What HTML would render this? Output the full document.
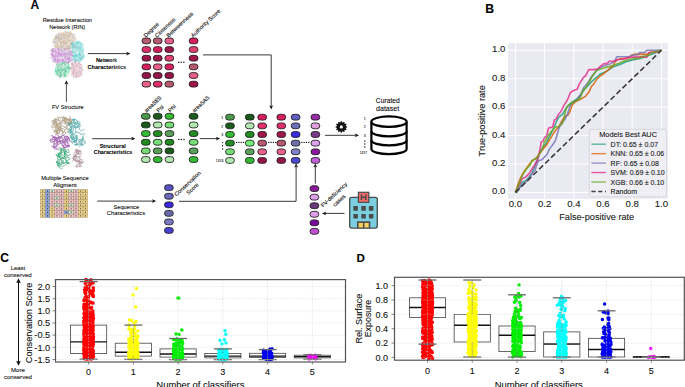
<!DOCTYPE html>
<html><head><meta charset="utf-8"><style>
html,body{margin:0;padding:0;background:#fff;}
body{width:685px;height:387px;overflow:hidden;font-family:"Liberation Sans", sans-serif;}
svg{display:block;}
.t{stroke:#000;stroke-width:0.22px;stroke-opacity:0.45;}
</style></head><body>
<svg width="685" height="387" viewBox="0 0 685 387" font-family='"Liberation Sans", sans-serif'>
<rect width="685" height="387" fill="#fff"/>
<text x="30.60" y="8.80" font-size="12" text-anchor="start" font-weight="bold" fill="#000" stroke="#000" stroke-width="0.12" stroke-opacity="0.5" >A</text>
<text x="42.70" y="22.20" font-size="5.8" font-weight="normal" fill="#000" stroke="#000" stroke-width="0.15" stroke-opacity="0.55" textLength="49.35" lengthAdjust="spacingAndGlyphs">Residue Interaction</text>
<text x="49.20" y="28.70" font-size="5.8" font-weight="normal" fill="#000" stroke="#000" stroke-width="0.15" stroke-opacity="0.55" textLength="35.95" lengthAdjust="spacingAndGlyphs">Network (RIN)</text>
<g>
<polygon points="56,35 60,32.3 68,31.6 73,33.2 75.6,37.5 75.6,44 73.5,48 70,50 62,50.3 56,49 53.5,45 53.5,39" fill="#e4dcd6" opacity="0.75"/>
<path d="M60.2 34.3l-0.3 -0.4M55.0 41.2l0.9 0.2M62.0 46.2l0.5 0.5M66.5 38.7l0.5 -0.1M60.0 46.5l0.5 1.0M65.4 32.3l0.6 0.2M60.7 41.8l-0.7 0.2M58.8 41.9l-1.4 -0.2M63.5 45.9l0.6 0.8M70.2 41.7l0.6 -0.5M65.6 40.3l0.8 -1.3M55.0 44.3l-1.0 -1.3M62.1 44.3l0.9 0.1M54.0 46.6l0.5 0.5M55.7 39.1l-1.4 -0.4M59.9 39.3l-0.9 1.1M57.1 35.7l0.1 1.0M54.3 39.2l-0.7 0.8M65.6 42.6l-0.2 -0.4M73.4 46.9l-0.7 0.5M58.4 34.6l-0.2 0.4M55.5 38.2l1.4 0.2M60.0 36.8l-0.4 0.4M63.6 41.0l0.4 0.3M71.5 34.6l1.5 0.2M66.0 31.5l-1.5 -0.3M58.4 38.3l0.7 1.2M61.3 35.0l0.6 -1.5M71.5 45.5l0.1 1.0M60.6 44.0l0.9 -0.3M74.7 38.7l0.1 0.7M66.8 47.7l0.5 -0.8M55.4 43.4l1.1 -0.7M57.9 46.3l-0.7 1.2M62.6 49.5l-0.1 -0.6M74.2 46.6l0.8 1.1M62.0 41.7l0.3 0.3M65.3 48.8l-1.3 0.6M59.0 37.6l0.1 1.1M55.5 48.1l-0.6 0.8M62.7 48.7l-1.0 -0.0M63.5 35.5l1.4 0.0M68.7 41.7l-0.5 0.9M55.9 41.5l0.0 0.7M65.5 45.4l0.8 -0.5M63.6 44.7l-1.0 0.3M67.8 47.6l0.7 -0.3M72.4 34.3l0.7 0.6M55.6 44.8l0.3 -1.4M68.3 35.5l1.2 -1.0M62.6 41.2l1.4 -0.1M64.9 37.8l0.3 0.7M65.3 39.4l0.8 0.1M55.8 36.8l1.3 0.3M63.5 49.5l0.3 -0.6M65.9 44.2l0.4 0.2M68.4 47.0l1.2 0.7M63.5 38.2l-1.4 -0.5M65.5 36.2l0.5 0.4M60.1 37.3l0.0 -0.7M69.9 41.8l0.4 0.9M71.1 40.1l-1.4 0.0M68.5 49.3l-0.8 1.2M63.2 38.5l0.5 0.2M59.7 34.1l1.2 0.7M60.0 36.6l-0.3 0.9M59.4 50.9l1.0 -0.2M59.8 38.4l0.9 0.0M58.4 41.3l0.7 0.0M60.2 35.2l-0.9 -0.5M69.6 48.0l-0.6 0.5M70.1 43.2l1.3 0.4M68.8 46.8l0.7 0.8M71.0 46.4l-1.3 -0.7M55.8 38.1l1.1 0.9M67.6 43.5l-0.4 0.0M64.6 41.2l-0.3 -0.4M55.1 35.2l-0.1 -0.6M64.5 38.1l-1.2 0.2M67.7 32.6l0.4 0.6M65.7 31.2l0.7 0.3M68.2 37.1l-1.0 -0.1M73.8 35.4l1.5 -0.2M63.6 37.3l0.4 1.5M56.9 40.9l0.5 -0.2M73.0 44.8l0.2 1.5M53.9 41.1l-0.7 0.2M60.6 47.1l1.3 0.0M73.6 45.3l0.6 -0.4M75.5 42.8l-0.6 0.7M55.7 47.6l-0.3 1.5M65.5 34.5l-1.1 1.1M67.4 48.5l1.0 -0.4M69.6 40.2l0.0 -1.2M64.3 38.0l-0.4 1.2M68.1 37.5l-0.8 -0.3M59.5 47.6l-0.7 0.0M63.3 34.4l0.2 0.5M58.8 35.9l-1.3 -0.6M63.0 41.6l-0.6 0.6M64.6 43.7l0.4 -0.5M62.4 39.9l1.4 -0.4M54.2 44.9l0.8 -0.6M62.5 48.9l0.7 -1.3M64.5 43.7l1.2 -0.5M63.7 43.0l1.3 0.3M67.3 36.7l0.5 0.5M65.0 42.5l-0.5 0.4M60.6 39.8l1.1 -0.3M58.7 36.3l1.2 -0.3M63.9 43.2l-0.6 0.3M61.2 38.7l-0.3 -0.6M64.8 35.1l0.8 -0.1M58.1 45.8l-0.4 1.5M58.7 39.8l-0.8 -1.3M54.6 37.2l1.2 -0.9M74.1 37.6l0.6 1.4M68.2 38.7l-0.6 0.6M60.0 38.1l0.5 -0.2M61.9 47.1l0.4 -0.8M61.8 48.7l0.3 0.8M62.8 46.8l0.0 -0.4M73.6 36.7l-0.0 -1.5M74.5 43.5l-0.1 1.3M73.8 44.0l0.4 -0.1M62.3 36.2l-0.9 0.4M70.9 45.1l0.6 -1.2M60.8 39.2l0.1 -0.5M55.4 40.9l-0.7 1.4M59.2 32.6l0.8 0.6M58.7 38.4l-0.9 -0.8M67.7 33.7l0.4 -0.6M70.4 36.2l0.0 0.7M65.9 37.7l-1.3 1.0M70.5 44.0l0.5 -0.0M72.3 48.9l0.7 0.2M75.4 42.1l0.8 -0.4M58.7 45.7l0.5 -0.2M58.3 39.2l0.4 0.5M67.8 35.1l0.8 0.1M60.6 35.5l0.3 -1.0M62.6 42.5l-0.3 -0.4M62.3 37.5l-0.5 1.4M61.2 39.6l1.0 -1.2M68.8 35.8l1.5 0.1M63.1 48.2l-0.6 0.1M67.3 49.0l1.0 0.6M57.2 37.3l-1.5 -0.2M57.7 34.0l1.5 -0.5M74.1 38.6l0.9 -0.6M71.0 35.5l-1.2 0.8M58.6 39.3l-0.9 -0.1M69.5 48.2l1.0 0.3M71.7 33.5l-0.9 -0.6M62.3 42.7l-1.1 0.5M54.1 42.3l-0.7 0.0M64.0 35.3l-0.5 0.1M55.4 39.7l-0.4 -0.0M69.2 46.1l-0.5 -0.0M68.4 46.9l0.5 1.5M74.2 34.9l0.4 -1.5M70.3 34.3l0.6 -0.4M64.2 48.8l0.2 0.7M57.5 49.9l-0.6 -1.3M56.5 41.1l-0.5 -0.6M66.0 47.7l1.3 1.0M70.6 37.2l1.1 -0.1M63.4 34.6l-0.0 -0.5M67.6 50.0l-1.0 -0.6M67.4 39.9l-1.5 -0.1M68.3 32.3l0.8 0.0M58.1 42.1l-0.5 -0.3M59.5 33.8l1.0 0.7M62.0 36.4l1.2 0.1M67.8 41.0l1.2 -0.5M55.3 41.9l-0.6 0.4M54.0 42.6l0.5 -0.2M64.5 44.0l0.2 -0.6M70.8 44.4l1.4 0.1M69.9 40.2l0.1 0.5M60.8 45.2l-0.5 -1.3M65.7 40.5l0.2 -1.0M59.2 35.6l-0.1 -1.5M72.4 37.2l0.1 1.5M67.9 49.0l-1.4 0.3M63.3 45.8l-0.7 -0.3M60.9 33.6l0.4 0.1M68.3 46.1l1.0 0.4M72.6 47.7l1.3 0.6M56.4 34.7l0.3 0.3M67.7 47.2l-0.5 -0.5M70.6 35.5l-0.4 0.8M60.3 44.9l-0.5 0.6M71.5 43.5l0.9 0.2M61.3 44.6l-0.6 -0.2M71.7 33.4l0.6 0.0M53.8 41.3l-1.4 0.1M61.1 47.5l-0.1 1.5M69.7 41.3l0.9 0.7M68.5 46.6l-0.6 -0.6M57.3 37.2l0.8 -0.6M58.7 39.5l-1.3 -0.3M60.8 37.0l0.8 1.2M57.6 40.2l0.2 -1.1M72.8 35.1l0.3 0.7M56.6 34.5l0.0 0.8M61.8 35.9l1.3 -0.2M55.7 38.3l1.3 -0.1M57.7 43.6l0.5 0.4M61.9 46.0l-0.3 -0.9" stroke="#a8a8b0" stroke-width="0.45" stroke-opacity="0.8" fill="none" stroke-linecap="round"/>
<path d="M57.1 42.6l-1.1 0.7M66.0 44.6l-0.6 0.3M70.3 44.3l0.7 -1.0M60.6 42.6l0.7 0.5M67.0 35.9l-0.8 0.4M68.5 48.5l0.5 1.1M64.8 50.6l1.0 0.2M73.5 41.1l0.9 0.6M63.8 44.2l0.5 -0.9M59.2 45.4l-1.0 0.8M61.9 32.7l-0.1 0.9M62.9 45.5l-0.4 0.6M74.0 41.7l0.3 1.3M55.7 46.2l0.4 -1.1M60.9 43.6l0.6 -1.3M65.8 33.6l0.4 -0.7M62.6 36.4l-0.6 0.3M59.1 36.5l-0.3 0.9M68.9 38.7l1.3 -0.6M73.5 46.2l0.9 1.1M68.1 37.1l0.5 0.3M61.7 35.4l1.1 -0.8M67.2 45.3l-0.7 -1.3M56.9 44.9l-1.3 -0.2M65.6 36.6l0.1 0.6M62.9 34.1l-1.0 0.1M63.5 42.5l-0.7 -1.2M67.1 42.4l1.1 0.2M60.9 49.9l-1.0 -0.1M69.0 43.7l-0.8 1.2M64.6 46.3l0.2 0.9M71.4 37.1l0.4 -0.8M64.5 50.2l-0.8 -1.1M60.9 42.8l-0.9 -1.0M73.4 41.8l0.7 0.2M74.4 42.6l-0.7 -1.1M67.0 43.0l-0.4 -1.1M68.3 40.3l0.0 -0.5M71.0 47.9l-0.5 -0.7M65.7 36.9l-0.3 0.9M67.9 49.1l1.0 0.4M71.9 42.4l0.8 -0.5M66.4 49.3l1.0 -0.1M68.5 35.6l0.2 0.3M55.4 47.5l0.3 0.3M69.5 34.1l1.3 0.4M68.5 33.5l-0.9 -0.9M59.8 49.7l-0.1 -0.4M72.1 33.9l-0.5 1.2M63.6 33.0l-0.7 0.8M56.3 46.1l-0.8 0.9M61.6 46.1l1.3 -0.5M70.0 46.9l-0.6 1.0M66.2 37.9l-1.3 0.6M67.2 48.4l0.3 -0.7M63.8 42.8l0.6 -1.3M72.0 47.1l-0.7 -0.3M67.8 48.4l-0.3 0.4M57.3 45.2l0.6 -0.3M63.9 34.9l-0.0 1.3M54.5 46.2l0.1 -0.7M73.2 41.7l-1.1 0.2M57.0 45.1l-0.7 0.8M75.6 38.3l0.9 0.7M68.2 38.4l-0.4 -0.1M72.7 40.2l-0.7 -0.3M74.4 46.1l0.7 -1.4M57.0 34.6l0.4 0.2M63.2 49.0l0.4 -0.3M58.9 41.7l-1.0 -1.2M63.4 34.7l1.6 -0.3M59.2 38.1l1.2 -0.9M71.1 45.0l-1.0 -1.3M69.5 48.7l-0.3 -0.7M55.5 37.7l-0.0 0.5M58.7 34.0l-0.2 -0.4M58.7 49.5l1.0 -1.1M72.4 42.8l-0.8 0.2M67.2 33.7l0.1 0.5M56.9 48.2l-0.1 0.9M71.6 38.8l0.5 0.9M68.3 35.9l-0.7 0.1M61.9 50.4l1.5 -0.0M69.7 36.7l0.4 -0.1M72.2 41.3l0.4 0.8M66.0 33.9l0.6 1.2M66.4 40.4l-0.1 0.6M71.4 42.0l0.1 0.5M70.0 31.8l0.3 -0.7M74.0 41.4l0.5 -0.5M62.2 34.7l-0.8 0.8M63.8 40.3l0.9 0.9M61.5 45.3l-1.0 0.9M74.5 40.8l-1.0 -0.1M58.9 46.6l0.5 0.1M53.8 42.6l-0.9 -0.5M72.1 45.0l0.5 0.2M58.8 33.3l-0.5 0.3M57.3 41.3l-0.0 -0.6M61.1 40.2l0.6 -0.9M69.4 38.5l0.0 0.8M71.8 48.9l0.6 -1.3M58.8 39.5l-0.6 -0.6M63.9 40.9l0.6 0.1M74.3 43.4l0.5 -1.4M66.6 36.3l-0.3 -0.7M67.6 36.2l-0.9 -0.1M60.8 43.5l0.8 0.8M59.6 40.5l-0.6 -0.1M60.5 39.5l-0.2 0.7M72.3 43.8l-1.1 -0.5M63.5 42.2l-0.7 -0.6M58.9 41.2l-0.8 0.7M72.2 37.5l-0.9 -0.3M60.4 45.6l0.3 0.4M55.1 39.1l-1.2 0.5M74.3 46.0l0.5 0.7M67.1 46.7l0.4 -0.9M70.5 40.4l0.3 -1.2M70.0 42.3l-1.6 0.0M70.3 48.1l-0.7 -0.5M69.1 37.4l-0.8 0.7M71.1 47.9l-0.9 0.0M57.1 42.1l-0.4 -0.2M71.2 47.8l0.6 -0.2M64.2 40.5l1.2 -0.6M64.5 41.8l-0.3 -0.8M61.7 49.6l-0.5 -0.9M62.9 42.0l-1.3 -0.7M62.3 43.1l0.8 -0.0M57.0 37.5l1.4 -0.2M73.7 44.2l0.7 -1.4M57.1 37.3l-1.0 -0.1M67.3 42.8l-1.0 1.3M63.0 46.3l-0.4 1.2M71.5 42.6l-0.3 -0.6M58.9 43.5l-1.6 -0.3M69.4 33.5l0.5 0.4M67.1 46.2l0.4 0.2M70.2 38.8l0.3 0.6M67.4 38.5l-0.8 0.3M66.4 49.7l-1.1 0.4M59.4 47.6l0.3 -0.7M64.4 49.0l0.0 0.9M60.3 48.3l-1.3 0.1M61.2 35.0l0.7 -0.1M66.0 39.5l-0.4 0.3M61.3 36.3l0.3 0.7M68.5 38.2l0.7 1.0M72.1 33.7l-1.3 0.5M61.6 46.3l-1.1 1.1M64.6 35.5l-0.5 0.2M73.1 42.4l-0.5 0.5M72.7 34.7l-1.0 -0.1M61.8 44.0l-0.7 -0.3M57.9 47.9l-0.5 1.1M61.4 41.3l-0.1 0.5M57.0 44.5l-0.2 0.9M73.8 47.8l0.5 0.5M68.0 37.8l-1.0 0.6M73.0 38.9l-0.4 -0.4M69.9 45.2l0.4 0.1M60.0 38.5l0.7 0.2M71.4 42.6l-0.1 -0.7M72.4 45.6l-0.1 0.4M56.0 46.2l0.4 1.5M68.8 39.2l-0.0 -1.4M74.3 38.6l1.1 -0.5M66.8 40.3l1.2 0.4M70.3 33.0l-0.4 -1.3M75.4 43.7l-0.7 -0.2M62.4 34.6l-0.2 0.5M59.2 35.9l-0.9 -0.1M59.7 48.9l0.7 0.8M65.2 45.5l0.6 1.0M70.2 47.4l0.6 0.5M57.6 45.2l-0.5 0.2M62.4 34.7l0.4 0.2M55.8 45.4l1.1 -0.1M63.7 34.8l-0.4 -0.1M67.4 49.4l-0.4 -0.6M72.7 36.2l0.5 1.1M57.1 46.6l0.6 -1.1M71.1 38.3l-0.7 0.8M67.0 42.7l0.5 -1.1M64.2 40.8l0.4 0.6M68.8 34.7l-1.5 0.5M63.7 34.3l-0.1 -0.4M70.4 39.5l-0.2 1.2M61.2 39.6l-0.7 -1.2M60.1 40.1l-0.8 -0.3M61.6 39.2l1.5 -0.3M74.5 42.6l0.2 -0.4M59.8 41.9l0.9 -0.3M60.9 47.7l0.6 0.1M54.9 44.3l-0.8 0.8M66.5 38.6l0.5 0.4M55.6 47.6l-0.0 0.5M64.8 42.4l0.2 1.1M65.6 33.5l-0.4 0.3M66.5 44.9l0.0 -0.5M56.4 47.0l-0.5 0.4M70.7 34.6l0.1 -0.5M53.7 42.2l0.2 0.7M74.0 42.7l0.7 -0.8M56.8 44.7l-0.7 1.1M56.2 38.4l-0.1 -1.5M67.7 34.2l-1.3 -0.4M68.8 35.8l0.3 0.9M55.8 47.3l0.4 1.0" stroke="#d4a874" stroke-width="0.45" stroke-opacity="0.85" fill="none" stroke-linecap="round"/>
<path d="M61.6 33.5l0.7 -0.7M61.1 34.3l-1.4 -0.0M57.2 46.9l-0.4 -0.8M72.6 39.2l0.8 -0.8M58.5 48.7l-0.4 -0.2M64.5 42.4l-0.6 0.5M63.5 49.7l0.6 0.2M58.3 40.7l-0.1 1.1M65.4 45.5l0.9 -1.0M62.2 36.6l0.4 -1.4M59.9 45.5l-0.1 -1.0M65.0 40.5l0.7 0.3M64.0 38.7l0.0 0.7M63.6 40.1l-0.7 -0.3M60.6 37.2l-0.2 -1.1M72.6 41.8l0.5 0.3M61.9 46.3l-1.3 0.6M73.6 37.1l-0.0 0.4M68.3 35.1l-0.5 0.4M67.7 35.2l-0.2 -1.5M71.6 48.5l-0.3 0.5M72.5 44.3l0.6 -0.3M68.3 39.4l-0.3 -0.7M54.2 43.1l-0.5 0.9M73.3 41.6l0.5 -0.0M60.8 33.1l0.3 0.5M70.8 39.3l-1.1 -0.3M66.6 37.0l-0.0 -0.7M70.3 37.5l0.2 -1.6M64.3 49.3l0.3 0.3M70.6 38.2l0.7 -0.0M55.3 40.8l-0.6 -0.2M56.9 35.0l-0.1 -1.5M70.4 35.8l1.0 -0.1M71.8 40.7l-0.7 1.3M55.5 43.9l-1.2 0.8M62.6 49.2l1.1 -0.4M59.3 39.0l0.1 0.6M58.6 42.0l0.8 1.2M69.1 47.1l-0.2 0.8M56.2 43.9l-0.8 -0.5M58.3 47.9l-0.9 1.0M56.7 45.2l0.5 0.3M61.1 48.8l-0.3 -1.4M58.3 46.4l-0.2 -0.4M62.6 34.5l1.6 0.2M56.5 41.4l0.6 0.7M56.4 45.9l-0.5 -0.0M74.4 37.6l0.3 1.5M60.1 35.1l-0.0 0.5M62.2 41.3l-0.3 0.3M66.1 41.3l-0.6 -1.5M61.9 37.9l-1.4 0.8M61.7 33.6l0.4 -0.0M59.2 43.3l-0.5 0.5M72.0 45.8l0.4 -0.2M68.6 41.9l-0.6 1.4M72.4 41.8l-1.3 -0.9M69.2 38.6l-0.2 -0.8M68.6 38.3l-0.7 -0.8M58.8 48.5l-1.2 0.2M57.8 34.2l0.9 -0.5M70.8 36.2l0.6 1.2M71.1 49.0l0.3 -0.3M71.9 34.2l0.4 0.6M69.9 42.4l-0.5 0.1M68.9 39.7l-1.3 0.2M68.2 38.8l-0.7 -0.1M57.9 41.9l0.6 0.2M60.0 35.4l0.3 -0.4M57.9 39.6l0.3 -1.1M62.7 38.9l-0.2 -0.7M71.7 38.0l-0.8 0.7M74.9 45.1l-0.8 0.9M70.9 38.2l-1.0 -0.2M54.3 42.2l-0.9 0.2M63.0 48.2l-0.9 0.4M68.0 44.9l-0.4 0.3M71.3 46.4l0.5 0.4M70.0 41.6l1.1 0.4M55.6 44.5l-1.0 0.5M74.3 34.4l-0.5 0.9M60.0 36.0l-0.3 0.7M65.4 38.8l0.7 0.2M72.0 36.3l0.1 0.4M63.9 40.4l-0.7 -0.4M73.3 41.9l0.7 0.2M65.8 38.4l-0.2 1.3M70.3 43.0l-1.5 0.4M54.9 39.6l-0.3 -0.4M66.9 34.4l0.9 -0.5M68.5 44.0l-0.2 0.6M74.0 34.3l0.4 0.3M62.6 43.7l-0.1 1.5M54.7 45.0l1.4 0.4M66.7 37.3l-0.5 -0.2M72.0 34.5l0.5 -1.5M62.4 43.9l0.2 1.0M69.7 39.4l-0.2 -0.5M74.3 40.9l-0.2 0.8M64.4 47.9l-0.9 -0.6M59.6 48.2l0.4 -0.6M66.6 49.6l-0.9 1.3M61.2 40.8l0.0 1.3M59.3 32.6l-0.5 -0.2" stroke="#ffffff" stroke-width="0.45" stroke-opacity="0.7" fill="none" stroke-linecap="round"/>
<polygon points="72,42.5 76,40.8 80,41.5 83,45 83.8,52 83.5,58 81.5,61.5 76,62 72.5,60.5 70.6,55 70.8,47" fill="#c4ecec" opacity="0.75"/>
<path d="M79.1 51.0l1.0 0.2M72.2 52.8l-0.5 0.7M75.1 58.8l0.7 -0.7M77.5 52.7l0.7 0.6M77.4 48.8l0.3 0.8M75.0 59.4l-1.5 -0.0M77.2 58.4l-1.1 -0.5M72.2 46.4l0.9 0.2M78.2 45.6l-1.1 -0.8M73.3 53.0l0.4 -0.0M81.4 48.0l0.4 -0.9M83.0 50.3l-0.4 0.3M79.7 44.3l-0.3 0.5M74.4 61.6l1.3 -0.0M81.1 60.7l0.0 -1.2M81.6 57.7l1.1 0.7M83.9 54.0l-0.0 -0.6M82.1 56.3l0.7 -1.2M82.1 57.3l0.5 -0.6M83.4 57.8l-0.0 1.4M76.3 45.1l-1.5 0.1M76.6 57.1l0.3 -1.2M75.6 43.2l-0.8 -1.1M81.9 57.6l1.0 0.0M81.1 50.0l-0.8 -0.6M75.6 58.9l-0.5 -0.5M80.4 50.7l-0.7 -1.2M73.2 47.6l0.8 -0.2M79.2 59.6l-0.8 0.6M82.1 45.3l-0.4 -0.1M77.1 58.3l-0.0 0.8M82.6 51.2l-1.1 1.1M71.1 54.6l-1.5 0.5M79.4 48.4l-1.2 -0.2M75.1 60.9l1.3 0.5M76.5 56.6l1.0 -0.8M75.3 44.2l1.4 -0.4M78.0 41.5l-1.0 0.8M81.4 46.9l-0.9 -0.2M81.0 54.4l-1.1 1.1M74.4 43.8l-1.2 -0.6M72.4 51.4l0.4 -0.4M76.0 41.7l-0.3 0.8M72.8 47.8l0.6 -0.2M72.4 46.2l-0.7 0.5M72.7 59.4l-1.3 0.4M74.1 43.8l0.0 -1.0M80.1 46.6l-1.0 1.1M79.2 45.7l0.1 -0.4M75.8 61.0l-0.1 0.7M80.9 55.5l-1.2 0.7M79.2 60.8l-0.8 -0.9M83.2 56.1l-0.5 0.7M72.5 58.3l-1.0 -0.2M71.4 48.0l0.8 0.4M79.3 54.0l-0.9 0.6M81.0 58.0l0.7 1.0M80.9 58.8l-0.9 -1.2M79.1 53.2l-0.1 0.5M73.6 44.1l0.1 0.5M81.4 48.0l-0.2 -0.5M71.2 54.3l0.5 0.6M78.2 58.1l1.3 0.3M79.1 48.9l-0.5 0.9M74.2 58.8l0.4 -1.0M70.4 50.9l-0.4 0.2M78.5 50.3l-1.1 -0.1M83.0 47.8l0.5 -0.0M76.4 55.5l-0.2 -0.9M75.4 46.7l0.4 1.2M72.5 55.4l0.2 0.7M83.3 55.9l1.4 -0.5M71.3 44.5l1.4 0.1M74.5 48.3l0.6 1.0M75.5 60.0l0.3 -0.9M73.4 56.8l-1.6 0.3M76.3 58.0l0.4 0.4M73.1 45.0l1.5 0.2M83.9 49.2l-0.1 -0.9M73.8 52.4l-0.3 0.3M77.1 41.9l0.8 -0.7M78.9 59.9l-1.2 0.1M82.8 49.1l0.9 0.7M76.5 53.3l-0.8 -0.9M79.8 41.2l-0.9 0.2M74.5 55.4l-0.3 -0.9M78.6 42.6l0.1 1.6M81.2 58.3l-0.9 -1.0M83.6 59.0l0.4 0.1M73.8 54.9l1.1 -0.5M80.9 43.8l1.2 -0.2M73.6 50.9l1.1 0.8M77.2 57.7l-1.1 -0.0M77.8 46.9l-0.3 0.2M81.4 57.7l-0.5 0.1M76.1 43.3l1.0 -0.2M80.0 59.1l0.3 -0.4M80.7 43.9l-1.2 -1.0M79.2 53.9l-0.9 -0.1M80.0 59.7l-0.1 -1.3M80.1 59.9l-1.3 0.6M76.2 56.1l-0.0 0.8M72.6 49.8l1.2 -0.1M80.9 46.7l0.0 0.9M75.1 56.5l0.2 -1.4M71.6 58.8l-0.4 1.1M76.7 55.2l-1.5 -0.4M79.5 62.4l0.6 0.3M72.9 49.2l-0.5 -1.1M74.0 46.6l1.2 0.2M82.7 54.0l-1.0 -0.6M74.4 42.4l0.4 0.2M72.0 52.1l1.2 -0.2M72.7 42.4l-0.3 0.8M80.3 42.7l0.7 -0.3M81.3 45.2l0.8 -1.1M79.4 53.4l-0.3 -0.5M80.2 53.0l0.1 0.5M75.4 56.6l0.9 1.0M77.4 43.6l0.0 1.4M80.3 45.9l0.2 0.6M78.6 50.0l0.3 -0.3M76.6 43.4l-1.2 0.3M77.1 44.6l0.1 0.9M75.7 50.9l1.0 -0.4M80.6 52.5l1.1 -1.1M83.3 51.7l0.0 0.6M71.7 46.2l0.8 -0.4M76.4 47.7l0.3 1.1M83.2 50.5l0.2 0.4M71.0 51.4l-0.1 -1.0M79.4 54.3l0.8 1.1M82.0 49.3l0.5 -0.4M75.4 43.2l0.5 1.2M76.0 55.8l1.5 0.1M77.1 60.7l-1.6 0.1M81.8 46.3l0.9 -0.0M75.3 49.5l-0.7 1.0M72.7 58.9l1.1 0.0M78.9 56.8l0.4 0.5M72.7 43.6l-1.1 -0.2M72.8 44.9l-0.8 -0.5M79.8 58.9l0.7 -0.2M73.9 47.2l1.4 -0.3M82.1 58.2l-0.6 -0.8M79.6 53.2l0.5 -1.4M78.2 45.1l-0.3 -0.7M77.1 54.8l1.2 0.6M79.1 57.0l1.0 0.1M79.2 45.1l1.3 -0.3M76.0 60.7l0.5 -0.4M79.4 57.4l0.5 0.5M76.6 49.5l1.0 0.5M75.2 55.7l-0.6 0.2M79.6 43.3l-1.1 1.1M79.4 55.1l-0.4 -1.5M75.2 45.4l0.5 -1.0M78.3 44.6l1.0 0.1M72.8 56.3l0.7 0.0M74.6 51.9l-0.4 0.8M72.7 43.6l-0.9 -0.9M80.8 47.8l-0.6 0.0M80.0 48.1l-0.1 -0.7M72.1 52.4l0.5 1.2M73.9 43.0l-0.6 -0.9M78.3 43.6l-0.5 -0.5M77.7 56.6l1.2 0.2M79.2 55.9l-1.1 -1.0M79.5 45.4l0.4 0.6M79.7 61.9l0.2 -0.7M71.0 53.7l0.4 0.2M76.2 44.9l0.7 0.7M80.5 52.2l0.1 -0.5M76.7 46.7l-0.3 -0.6M81.0 56.6l-0.6 0.7M78.7 43.2l-1.1 0.3M73.1 51.0l-0.6 -0.5M81.8 50.8l0.7 0.4M71.4 47.0l0.1 -0.6M73.2 52.8l0.3 -0.5M76.5 47.9l0.5 0.5M72.8 56.7l1.2 -0.9M78.5 46.7l-1.2 0.3M72.0 58.6l-0.4 0.6M81.7 47.9l0.6 1.1M77.0 58.3l0.7 -0.8M79.1 59.1l0.8 -0.2M73.9 48.7l-0.6 0.6M74.2 59.5l-1.0 0.6M73.7 59.5l0.5 -1.5M81.5 45.9l-0.5 -0.7M78.3 47.1l0.3 -0.7M83.9 56.9l-0.5 -1.1M78.0 49.5l-0.7 1.1M73.4 48.1l0.0 0.5M81.1 45.3l0.4 0.2M76.4 50.0l0.5 -1.5M82.0 51.7l1.0 -0.8M77.6 43.0l-1.2 -0.7M75.8 59.8l-0.3 -0.6M83.9 55.7l1.1 1.1M75.4 55.9l-0.5 0.2M81.1 48.0l0.2 1.3M76.4 49.3l-0.4 -1.5M74.2 56.3l0.4 1.0M81.2 43.7l0.9 -0.6M74.3 60.4l0.1 0.4M76.7 59.9l-0.5 -0.2M75.7 53.9l-0.0 0.7M76.6 41.9l0.8 0.0M72.9 45.6l-0.6 -0.1M73.1 52.4l-0.2 -1.3M74.7 58.4l0.4 -0.2M80.0 53.8l0.6 0.7M75.3 57.5l0.0 0.6M79.0 47.4l0.3 0.6" stroke="#40cccc" stroke-width="0.45" stroke-opacity="0.85" fill="none" stroke-linecap="round"/>
<path d="M73.5 52.0l0.4 0.9M76.8 60.7l-0.6 0.1M72.4 42.6l-0.5 -1.5M76.8 49.1l-0.3 -0.8M82.3 56.0l-0.7 0.9M76.2 45.9l-1.1 -0.4M71.9 48.2l0.8 -1.1M75.2 61.1l-0.8 -0.3M81.9 57.8l0.8 0.1M76.0 59.5l-0.6 0.8M77.0 47.5l-0.9 0.7M75.1 48.9l-1.0 1.1M75.3 58.3l0.7 1.0M72.5 44.8l0.7 0.3M77.6 60.5l1.3 0.8M81.1 58.4l-0.4 0.3M78.6 61.6l0.5 0.1M80.2 54.8l0.5 0.4M79.0 61.6l-1.0 1.2M73.9 45.4l1.6 -0.3M73.5 44.2l-0.8 1.0M79.1 41.3l-1.3 0.5M83.2 53.2l-0.5 0.7M82.1 53.2l0.4 0.5M80.3 52.1l1.4 0.0M79.2 55.9l-1.3 0.8M79.4 47.0l-0.5 0.5M80.7 59.0l1.2 -0.1M73.7 53.8l0.8 1.2M81.9 56.4l0.8 1.1M78.4 49.6l0.5 -0.2M74.2 42.8l0.6 -0.7M80.2 54.2l0.8 0.6M80.9 46.1l-1.0 1.1M75.3 53.2l0.5 -1.2M75.9 60.7l-0.5 0.1M79.6 41.7l1.0 -0.1M79.6 48.9l0.0 1.4M76.1 51.7l-0.2 -1.3M73.3 44.2l0.2 -0.5M75.1 43.9l0.9 -0.4M83.5 45.3l0.9 -0.6M79.8 52.7l0.6 -0.7M80.3 55.5l-0.0 -0.7M72.9 55.5l-0.8 -0.3M76.0 51.0l-0.1 0.8M79.7 43.9l0.6 -0.6M72.0 53.0l0.8 -0.2M73.0 46.6l-0.7 -0.8M75.9 60.4l-0.7 -0.8M75.4 55.0l-0.5 1.5M78.3 44.5l-0.5 -0.0M79.6 60.4l1.2 -0.1M71.2 49.8l0.8 -0.1M76.4 60.0l-1.2 -0.7M72.9 59.5l1.2 0.9M77.3 47.5l0.9 -0.2M71.6 57.2l-0.1 0.6M78.5 45.0l-0.2 -1.0M73.2 43.3l0.3 0.5M72.2 51.8l-1.0 -0.5M76.3 45.5l0.0 -0.7M71.9 50.6l-0.6 0.5M80.0 58.2l-1.0 0.3M73.6 42.7l0.7 0.4M76.2 47.6l-1.5 -0.1M74.4 47.8l1.1 -0.7M82.3 54.8l0.6 1.0M74.7 43.0l-0.1 -1.3M79.5 50.0l-0.3 -0.4M72.9 47.8l0.2 0.5M74.4 46.9l-0.3 -0.6" stroke="#a0a8b0" stroke-width="0.45" stroke-opacity="0.6" fill="none" stroke-linecap="round"/>
<path d="M77.4 44.0l1.0 0.5M71.6 50.9l-0.6 0.0M81.0 47.0l1.3 -0.6M75.8 42.8l-0.5 -1.1M71.1 56.1l0.2 -0.5M77.8 56.7l-0.7 1.0M76.9 40.3l1.1 0.7M72.1 59.8l-0.1 -0.5M76.0 58.9l0.8 -0.0M82.6 53.1l1.2 -0.2M72.8 52.2l-0.8 0.1M77.8 45.5l-0.2 1.0M79.5 44.0l-0.7 -0.1M80.4 51.7l0.0 1.5M73.6 49.4l-0.4 -1.3M72.9 51.0l-0.5 0.6M79.9 44.6l0.1 1.3M78.9 55.6l-0.1 0.5M83.4 51.6l-0.7 -1.4M74.6 43.1l0.4 -1.2M74.7 50.3l-0.3 -1.4M76.5 50.0l-0.6 1.4M74.9 59.5l0.5 -0.6M77.0 45.6l0.1 -0.8M76.9 49.3l-0.6 -0.4M75.2 41.7l-0.9 0.9M78.5 44.5l1.2 0.2M72.7 58.6l0.6 -0.4M74.4 41.2l-0.5 1.0M71.5 46.1l-0.3 0.8M73.7 59.1l0.0 1.1M79.7 58.2l-0.2 1.3M71.5 47.9l0.2 1.1M77.8 49.8l0.2 -0.5M76.4 61.9l0.8 0.5M75.3 49.4l-0.7 -0.0M77.6 52.3l-1.0 1.0M75.3 48.1l-0.8 -0.7M82.8 48.5l0.9 0.8M75.4 58.6l-0.5 0.8M75.4 44.4l-0.6 -1.0M73.1 58.1l-1.3 0.4M83.0 55.3l-0.4 -0.9M72.7 54.3l-0.2 -0.7M78.4 44.4l-0.8 -0.0M76.7 53.3l0.5 0.6M77.9 57.7l-0.6 -0.3M79.0 56.6l-0.6 0.7M80.4 42.5l-0.3 -0.3M80.5 45.9l0.3 -0.5M76.6 58.1l-0.4 -1.0M82.6 48.1l0.8 0.1M78.6 44.5l0.4 0.6M82.7 58.9l0.9 -0.1M83.8 58.6l-0.1 -0.7M77.7 53.3l0.4 -0.4M80.8 51.3l0.5 1.5M81.6 46.4l-0.3 -0.8M84.0 48.7l-1.0 -0.1M80.0 60.0l-0.4 0.5M79.8 49.1l-0.6 -0.1M76.7 58.2l0.4 1.2M71.4 47.1l-0.6 -0.7M73.5 51.0l1.4 0.0M78.0 53.1l-0.4 -0.4M81.3 57.8l-0.6 -1.2M72.1 50.5l-0.6 -0.0M75.9 44.5l0.4 1.0M78.8 50.2l-1.4 -0.0M80.8 52.5l-0.6 -0.2M79.8 46.1l-1.1 -0.5M70.7 54.2l-0.2 -0.5M71.9 58.8l0.3 -0.3M73.8 43.2l-0.7 0.0M75.5 57.6l-0.1 -0.5M75.3 43.1l-0.4 -1.3M77.1 61.1l-0.6 0.5M77.6 49.6l-1.2 0.5M72.6 48.9l0.7 -0.6M76.8 52.8l0.0 1.1M75.0 59.0l0.4 -0.1M81.5 50.0l0.5 0.6M73.8 54.5l-0.7 -1.0M74.7 53.1l-0.3 0.5M81.6 47.8l-1.3 -0.4M75.2 44.7l-0.8 0.6M77.2 47.3l0.8 -0.2M79.1 58.7l-1.0 0.8M70.4 50.6l0.5 -0.5M75.2 43.6l-0.9 -0.1" stroke="#ffffff" stroke-width="0.45" stroke-opacity="0.7" fill="none" stroke-linecap="round"/>
<polygon points="51.3,48.3 58,47.8 66,49.3 71.5,50 72.3,56 71.8,61.5 68,63.8 60,63.8 54,63 51.3,58" fill="#e6d0ea" opacity="0.75"/>
<path d="M55.3 57.2l-0.4 0.2M57.9 57.1l-0.1 -0.5M58.0 59.7l0.8 0.1M51.9 50.4l0.1 0.5M62.2 50.4l0.4 -0.8M71.3 54.4l-1.2 -0.8M65.5 57.2l-0.1 -0.7M60.4 53.0l-0.7 -0.4M53.5 61.0l-0.7 0.0M62.2 59.1l-0.6 0.6M57.4 60.8l-0.5 -0.4M68.5 57.1l1.3 0.7M64.8 51.3l-1.2 0.3M53.8 55.5l-0.7 -1.0M71.2 53.3l-0.8 0.4M65.4 55.4l-0.9 -0.4M71.8 59.9l1.0 -0.0M67.2 59.0l1.3 -0.5M68.1 54.5l-0.3 0.8M68.7 58.4l0.3 0.5M58.5 50.4l0.7 1.0M58.1 61.4l-0.2 0.7M60.4 53.9l1.4 0.1M72.1 51.9l-0.0 0.4M64.0 55.8l0.0 0.7M54.2 60.7l1.2 0.2M62.8 61.3l0.6 0.9M54.8 58.6l-1.2 -0.6M71.1 60.6l-0.7 -0.3M53.0 52.5l-0.4 -1.5M71.0 59.8l-0.9 0.3M53.2 56.7l0.3 -0.7M55.6 49.4l-0.8 0.0M61.0 60.4l-0.4 -0.4M51.8 55.7l1.0 0.1M60.0 61.8l0.2 -1.1M61.3 54.7l-0.6 -0.8M57.5 48.4l0.4 0.3M65.9 63.2l0.6 -0.9M58.9 51.9l-0.3 -0.3M61.8 53.6l1.0 0.8M53.7 57.2l1.1 -1.1M70.2 57.5l-0.2 1.5M56.5 56.3l-0.5 0.5M58.8 56.2l1.0 -0.5M60.6 56.2l-0.2 -1.5M65.1 56.4l-0.4 -1.5M65.0 61.4l0.1 0.9M63.2 57.2l-0.5 1.0M70.8 52.5l-0.9 -0.1M55.4 56.8l0.2 -1.5M61.2 63.2l0.7 1.2M58.0 49.7l0.5 0.6M54.3 59.8l-0.6 -0.0M56.9 62.8l0.2 -0.6M67.8 60.1l-0.9 -1.0M68.4 61.6l-0.5 1.1M63.9 53.0l-0.0 1.1M70.6 52.3l-0.4 -1.1M67.5 52.1l0.6 0.4M68.6 50.2l0.6 0.5M53.2 60.0l1.0 0.7M65.7 61.9l-0.8 0.5M55.6 60.3l-0.3 -1.3M53.9 53.6l-0.2 0.7M57.6 52.4l0.8 -0.9M60.7 57.1l0.5 -0.5M62.4 60.1l0.5 0.8M59.8 61.7l0.7 -0.5M66.4 62.5l-0.4 -0.6M61.2 55.0l1.3 -0.8M70.8 58.0l0.6 -0.6M69.3 61.7l-1.0 1.0M61.1 54.2l0.4 1.3M59.8 54.2l-1.3 -0.7M58.5 49.2l0.9 0.4M72.5 55.5l-0.5 0.7M63.5 57.0l-0.6 0.3M60.9 63.6l-0.6 -0.3M58.7 59.8l0.5 -0.4M62.2 55.7l0.5 0.1M59.9 62.8l0.3 -0.7M65.8 51.6l0.9 0.3M64.6 52.6l-0.6 0.2M68.7 54.4l-0.2 -0.8M65.8 54.0l-0.6 -0.2M62.6 59.0l0.6 0.5M51.5 54.5l0.9 -1.0M55.7 59.8l-0.4 1.2M63.4 60.8l0.9 -0.1M63.0 54.9l0.1 -0.8M62.9 59.5l-0.4 0.0M56.0 58.7l0.1 -1.2M65.3 50.8l-1.1 -0.2M57.7 52.6l0.7 0.5M55.1 59.7l1.0 0.9M57.0 55.9l-0.2 1.4M68.2 58.5l-0.7 -0.3M50.6 53.5l-0.3 0.6M57.8 48.3l0.6 -0.4M58.5 49.5l0.3 0.6M57.1 57.1l0.2 -1.3M68.6 57.6l-0.8 0.1M64.8 49.5l1.3 -0.7M55.6 56.4l0.4 -0.7M55.6 58.6l-1.4 0.7M51.9 52.1l0.4 0.4M64.4 61.0l0.5 0.5M70.2 54.3l-1.2 0.9M70.7 51.7l-1.5 -0.4M67.8 59.7l-0.4 -0.3M67.0 59.8l-0.5 1.1M59.2 61.2l-1.4 0.2M51.6 55.2l1.3 0.7M66.6 59.2l-0.3 -0.3M64.1 60.7l-0.1 0.4M52.2 50.3l1.3 -0.0M69.1 59.1l-0.5 -0.3M52.4 55.3l1.5 0.6M68.4 59.5l1.2 0.3M54.7 55.6l0.2 -0.5M55.9 51.2l-1.1 0.3M62.5 56.0l0.7 -0.0M58.4 49.5l-0.4 0.2M69.5 59.7l-0.2 -1.3M55.9 57.1l-1.1 -0.8M68.7 60.9l0.5 -0.1M65.9 59.7l-0.8 -1.1M69.8 58.2l-0.6 -0.9M62.7 50.1l-0.8 0.4M59.1 54.0l-0.8 0.4M59.6 55.1l-0.7 -0.5M58.0 54.6l-0.2 0.4M55.9 52.0l-0.4 -1.3M56.7 61.0l0.9 -1.1M72.7 59.5l-0.6 0.1M65.1 55.2l1.2 -1.0M63.6 54.3l0.0 1.5M55.3 53.6l-0.7 -0.3M55.5 59.2l-0.7 1.3M63.7 49.2l-1.0 0.6M51.8 50.4l-0.6 -0.2M70.1 56.9l-0.0 1.1M54.7 52.3l-1.4 0.6M54.1 50.7l-0.4 0.8M60.3 54.7l0.2 -1.5M63.0 59.5l-0.5 0.5M58.9 59.3l-1.0 0.3M58.2 58.2l-0.4 -0.1M52.3 51.8l0.3 1.3M56.7 51.6l-0.2 0.8M66.2 62.0l-0.3 -0.4M56.4 56.4l0.5 -1.0M72.3 59.8l-0.2 0.4M65.3 53.7l0.6 -0.5M68.1 63.8l-0.8 -1.0M51.1 58.1l-0.4 0.5M56.2 50.4l-0.8 -0.9M54.2 51.4l-1.0 -0.1M70.5 55.3l1.3 0.4M54.0 58.4l0.1 -0.5M65.5 49.7l-0.5 -1.2M64.9 53.1l0.4 0.4M59.5 56.4l-0.8 -0.3M58.3 62.1l1.0 -1.1M68.7 57.5l0.5 0.5M57.8 53.5l-0.5 -0.1M68.1 61.1l-0.2 0.5M58.2 53.5l0.8 1.1M58.8 52.6l-1.3 -0.1M65.4 54.1l0.8 -1.0M57.3 62.1l0.2 -0.7M67.8 56.6l-1.0 -0.3M53.7 49.3l-0.5 -1.0M50.7 51.4l0.1 -0.6M54.1 56.6l1.1 -0.8M56.9 63.9l0.2 -1.2M61.3 60.1l-1.0 1.1M64.2 60.7l-1.5 -0.3M65.9 56.3l0.3 -0.5M68.8 53.8l1.2 -0.0M52.7 57.0l-0.3 0.6M70.1 61.8l-0.9 -0.3M58.7 63.2l1.2 -0.3M54.8 53.2l0.6 0.6M71.4 51.5l0.1 0.4M62.0 52.4l-0.5 -1.0M66.3 58.9l-0.2 -0.9M52.8 54.5l-0.5 -0.4M69.1 61.7l-0.6 0.0M52.2 54.1l-0.7 0.9M59.0 63.5l-0.4 0.7M63.5 59.6l1.0 0.4M62.9 63.0l-0.0 0.4M64.0 53.2l-1.3 -0.7M57.1 60.8l0.9 0.1M58.9 56.9l0.1 1.2M66.8 53.4l0.3 0.4M60.5 60.4l1.5 -0.3M62.5 63.1l-0.1 -1.2M63.7 61.5l0.4 1.4M63.6 50.6l0.8 -0.4M63.7 54.4l0.5 0.0M56.7 60.8l0.9 -1.1M66.8 57.5l-0.3 0.3M63.6 63.3l0.1 0.5M55.8 55.3l0.8 -0.1M54.8 53.9l-0.2 -0.8M54.1 58.3l-1.4 0.4M65.4 53.2l0.8 0.8M61.4 59.3l-0.7 -0.6M62.7 62.5l1.1 -0.0M65.0 59.6l0.0 1.2M71.1 55.2l-0.8 -1.2M58.4 55.1l-0.0 -1.2M51.9 49.0l0.9 0.2M65.0 50.9l0.6 -0.7M64.7 56.5l-0.1 1.3M57.8 62.6l-0.4 -0.0M66.3 54.6l-0.9 -0.1M67.1 58.3l0.3 0.3M64.4 52.8l-0.2 1.5M59.2 52.9l1.4 0.6M51.7 53.7l1.0 0.8M68.4 48.9l0.5 0.0M62.1 51.6l0.3 -0.4M70.7 53.7l0.2 -1.3M67.6 62.3l0.5 -0.1M57.9 53.4l0.5 -0.0M72.3 55.3l-0.3 -1.0M59.6 60.6l-0.4 -1.4" stroke="#cc66dd" stroke-width="0.45" stroke-opacity="0.85" fill="none" stroke-linecap="round"/>
<path d="M67.0 57.1l-0.9 0.6M57.8 49.1l1.2 0.4M55.7 60.0l0.5 -1.0M58.8 51.2l0.9 1.2M54.7 52.6l-0.5 -0.0M60.7 61.9l-1.0 -0.5M72.0 61.2l0.4 0.4M54.0 48.6l-0.4 0.0M56.5 52.0l-0.4 0.8M67.3 55.4l0.7 0.0M55.0 60.9l0.4 -0.3M53.3 52.4l-0.9 -0.8M60.0 48.1l1.4 0.1M53.2 61.1l0.4 0.7M68.5 61.8l-1.1 1.0M65.5 51.2l-0.4 0.4M53.2 52.1l-0.7 -0.9M67.1 51.4l-0.6 -0.1M53.2 53.6l0.9 -0.8M63.1 56.0l0.5 0.1M52.5 60.1l0.1 1.1M72.0 52.9l-0.9 0.5M68.7 56.1l-0.2 -1.1M67.4 52.1l-0.8 -0.4M55.7 58.4l-0.9 0.1M68.6 51.8l-0.5 -0.9M58.7 48.4l-1.0 0.2M61.1 49.4l0.4 0.8M61.2 53.5l0.3 0.3M56.3 53.5l-0.5 1.2M51.0 50.2l0.2 0.8M71.2 54.3l-1.4 -0.7M68.0 53.0l1.5 0.3M52.5 60.8l-0.8 0.8M59.0 52.8l0.5 -0.4M55.9 59.8l0.8 0.4M68.2 49.2l0.6 -0.5M69.9 55.5l-0.0 0.6M55.1 62.3l-1.3 -0.6M61.0 48.9l-0.1 1.5M65.1 61.9l1.1 -0.3M54.3 51.4l0.7 0.8M60.8 50.9l-0.2 -1.0M59.7 54.8l-0.1 1.3M62.4 63.6l0.7 -0.6M62.2 60.4l0.3 0.7M64.4 49.2l0.0 -0.9M70.2 51.7l0.5 0.1M71.1 53.4l-0.1 -0.4M53.7 56.4l-0.7 0.3M53.0 48.5l0.7 0.2M54.6 60.5l0.1 -1.0M53.1 50.6l0.8 0.8M72.4 52.6l-0.1 1.4M69.6 56.4l-0.3 -0.3M67.4 55.9l0.5 0.4M52.7 52.8l0.3 -1.0M63.1 52.0l-1.3 -0.6M63.0 63.4l-0.4 -0.5M61.0 59.8l1.0 0.1M68.5 55.9l-0.5 -0.5M62.2 51.7l0.1 -1.0M69.5 62.5l0.6 -0.3M65.8 53.6l-1.1 0.4M67.9 59.1l-0.5 -0.3M50.9 57.7l-1.4 -0.7M61.7 55.9l-0.2 0.9M50.8 53.4l0.4 1.1M70.6 59.4l0.4 0.2M65.3 55.2l0.9 0.2M52.6 50.5l0.9 -0.6M71.2 61.9l-0.8 -1.1M68.3 53.2l0.9 1.1M52.8 56.6l1.1 -0.3M63.2 50.7l-0.3 0.5M66.0 58.6l1.1 -0.7M62.6 62.5l-0.5 0.0M71.6 57.1l0.8 -0.6M66.1 54.8l-0.1 0.9M54.4 56.9l-0.3 -0.4M55.9 60.2l-0.2 0.5M65.8 57.7l-1.2 0.1M65.4 49.6l-0.5 1.3M66.7 55.7l-0.8 0.7M70.2 59.1l0.8 1.2M65.3 56.9l-0.0 -0.7M67.1 61.4l-0.0 0.9M69.8 58.6l-1.1 0.1M58.8 59.1l-1.0 -0.2M65.8 53.2l1.4 -0.6M60.8 49.5l-0.3 0.4M68.2 53.9l-0.2 1.5M70.8 57.8l-0.7 0.6M69.7 61.4l-0.2 0.4M58.8 55.2l0.6 -0.1M64.0 59.4l0.7 1.1M68.3 62.1l-0.2 -1.0M64.1 59.4l0.4 0.7M68.1 52.6l0.5 -0.0M58.5 53.6l0.6 -0.8M60.7 63.2l-0.2 1.0M55.5 56.3l0.3 -0.9M54.4 62.3l1.1 0.3M59.7 60.2l-0.8 0.4M56.8 62.9l0.2 0.5M65.1 53.8l0.7 -0.3M62.4 51.9l-0.4 -0.8M60.7 56.8l-0.2 -1.2M53.4 49.8l0.3 0.6M70.8 52.1l0.0 0.6M62.8 52.1l0.4 -1.1M65.5 54.7l0.7 0.5M64.4 49.6l0.2 -1.4M61.8 51.3l0.1 0.5M69.4 57.8l-0.7 -0.6M61.9 51.7l1.0 1.0M57.7 57.7l-0.2 1.4M62.0 52.9l0.9 0.5M55.6 51.5l-0.5 1.3M52.4 49.5l-0.3 -1.0M70.9 54.1l-0.8 -0.3M70.3 58.1l-0.4 0.6M69.0 54.0l-0.8 -0.6M67.0 50.4l-0.4 -0.2M64.9 57.6l1.2 -0.1M71.7 55.1l0.3 -0.4M56.0 55.1l1.0 0.5M55.3 58.7l-0.9 -0.8M65.7 53.5l1.1 -0.9M56.3 63.1l1.5 -0.3M64.9 61.8l0.3 -0.9M65.6 56.5l0.3 -0.3M53.4 61.5l1.2 0.8M66.0 58.2l-0.9 0.6M61.9 56.2l-0.9 0.2M65.7 62.8l0.1 -1.0M53.6 57.2l1.0 -1.0M67.9 56.0l0.4 -0.5M66.2 55.3l-0.5 1.4M55.7 55.0l-0.2 -0.8M57.7 56.7l0.6 -0.2M54.4 62.0l-0.4 -0.0M55.0 53.4l0.8 -0.5M53.3 56.0l-0.3 -0.4M67.1 57.9l1.0 -0.6M66.0 61.3l0.8 0.3M69.5 57.4l-0.0 -1.3" stroke="#a0a0a8" stroke-width="0.45" stroke-opacity="0.7" fill="none" stroke-linecap="round"/>
<path d="M59.6 56.2l-1.2 -0.2M53.9 53.7l0.9 -1.3M55.5 48.3l0.0 -0.6M53.4 54.2l0.8 0.5M62.6 62.7l0.3 -0.5M63.2 56.6l0.4 0.7M64.3 52.8l0.1 -1.1M68.9 55.4l-0.5 -0.5M66.5 57.1l0.5 0.6M64.0 56.6l-0.2 -0.8M62.1 52.3l-0.6 -0.4M70.0 54.2l0.9 -0.9M64.4 49.2l-1.0 -0.1M70.7 57.5l1.2 0.6M66.4 61.2l0.4 -0.3M68.7 57.3l-1.4 0.3M71.0 57.3l-0.1 -1.2M62.4 50.6l-0.1 1.4M66.3 56.0l-1.1 -0.5M62.0 49.2l-0.0 1.4M67.7 62.1l-0.1 1.5M71.7 56.5l-0.2 -0.5M53.4 60.7l0.0 1.5M66.7 52.1l-0.5 -0.1M63.1 59.6l-0.3 0.5M63.3 50.0l0.1 1.0M60.7 49.1l0.4 -0.4M56.9 57.4l1.1 -0.1M56.5 63.8l-0.3 0.8M69.7 58.2l0.7 1.4M64.4 60.6l0.2 -1.2M56.3 57.4l-0.8 0.6M70.7 52.9l-0.1 0.6M59.3 62.2l1.0 -1.2M52.7 52.4l-0.4 -0.0M65.8 50.4l0.6 0.6M53.8 59.7l0.3 -0.3M66.2 53.0l0.2 -0.5M56.5 62.8l0.0 -0.5M54.0 58.5l-0.3 -0.6M70.6 58.3l-0.4 -1.1M67.7 55.4l-0.8 -0.5M56.1 55.9l0.1 0.4M65.9 50.9l-1.1 -0.1M62.2 58.1l0.7 -0.7M53.4 52.0l-0.3 0.8M58.2 58.1l0.5 -0.3M59.7 62.6l0.3 -0.7M60.9 52.7l-1.2 0.3M67.5 51.0l-0.3 0.3M54.7 55.6l0.8 0.9M65.7 52.0l1.4 0.2M58.2 51.9l-0.2 -0.5M57.1 54.5l0.6 -0.1M71.9 60.1l0.5 -1.2M52.6 57.6l0.5 0.3M68.2 52.8l0.6 -0.1M68.1 56.6l0.2 -0.8M66.4 56.3l0.1 -0.6M69.7 59.2l0.7 1.1M56.7 60.2l-0.2 -1.2M65.1 58.6l1.4 0.1M61.3 58.1l1.1 -0.5M62.9 54.8l-0.4 0.8M67.4 62.4l-1.4 0.4M67.6 60.1l-0.5 0.4M64.1 53.9l0.8 0.7M66.3 61.1l-1.2 -0.6M63.3 56.6l0.2 0.5M64.6 51.0l-1.3 0.1M53.0 60.2l1.1 0.1M59.2 58.4l0.3 -0.4M53.8 62.4l0.8 -0.3M54.8 54.1l-0.4 -1.5M60.5 58.4l0.9 0.0M68.2 49.6l-0.3 1.0M53.1 58.7l-0.4 0.3M55.1 48.8l-1.5 -0.5M62.3 53.3l1.2 -0.2M60.9 56.5l-0.8 0.7M72.3 53.4l-1.3 -0.0M59.6 59.2l0.4 1.1M55.1 53.3l-0.0 -0.4M64.3 61.1l0.9 -0.3" stroke="#ffffff" stroke-width="0.45" stroke-opacity="0.7" fill="none" stroke-linecap="round"/>
<polygon points="57,63.5 63,62.6 68,63.3 69.6,67 69.5,73 66.5,76.8 59,77 56,74 55.6,67" fill="#d0f0e0" opacity="0.75"/>
<path d="M67.1 72.2l0.1 -0.6M64.5 72.4l0.5 1.0M65.2 69.1l-0.8 0.5M60.0 64.6l0.7 -0.5M65.2 69.9l0.0 1.1M54.8 71.4l-0.5 0.8M68.9 67.6l1.5 -0.4M59.0 73.6l-1.3 0.1M65.6 70.6l0.6 0.7M70.0 68.3l0.6 0.7M59.6 65.8l-1.0 -1.1M63.4 70.1l-0.4 0.2M60.6 76.1l-0.8 1.2M62.5 69.9l0.3 -0.5M62.0 69.5l1.5 -0.4M57.2 73.3l-0.6 -0.1M58.2 70.4l0.6 -0.0M60.0 76.9l0.7 0.1M57.1 72.2l1.2 -1.0M62.3 65.1l0.5 0.5M57.4 66.1l1.4 0.6M58.0 65.9l0.4 1.1M66.6 70.2l-0.5 1.1M62.8 64.0l-0.0 -0.9M69.2 70.5l-1.3 -0.9M68.6 71.5l1.1 -0.4M59.2 64.2l-0.0 -0.9M59.3 65.5l0.8 -0.8M61.9 68.1l-0.8 0.3M59.4 72.0l0.1 0.4M60.3 76.0l-0.2 -0.8M61.3 66.5l-0.7 0.7M55.7 72.3l-0.2 -1.2M55.8 70.6l-0.7 -0.1M67.1 63.4l-0.6 -0.8M65.3 76.8l-0.6 -1.4M60.1 75.4l0.4 -1.5M62.2 73.5l1.0 0.4M59.9 70.3l-0.1 -0.9M60.7 70.6l-1.4 0.1M60.3 72.0l0.9 1.3M62.6 63.7l-0.8 0.7M63.4 69.8l0.7 0.1M57.8 69.0l-0.1 1.1M65.3 71.7l1.0 0.6M68.7 67.6l0.4 -0.5M66.9 69.3l-1.0 0.3M65.7 71.5l0.7 0.2M60.0 70.9l-1.1 1.1M58.3 64.1l-0.7 0.3M56.6 67.7l0.6 0.7M62.3 71.2l0.8 0.8M57.6 64.8l1.0 -0.7M64.2 63.0l-0.1 -1.3M64.8 67.8l-0.7 1.2M62.1 68.9l-0.5 1.2M68.4 68.2l-1.2 0.6M65.0 74.4l1.3 -0.8M68.9 67.7l0.4 -0.2M65.4 71.6l-0.5 0.0M61.7 70.8l0.3 -0.9M65.4 73.7l-0.7 1.1M60.5 75.9l1.2 -0.5M61.8 71.2l1.0 0.2M67.9 70.0l1.3 -0.0M61.4 64.0l0.9 -1.1M61.2 70.4l-0.6 0.7M64.4 76.2l0.5 -0.3M63.8 70.3l-0.0 -0.8M66.5 69.8l-1.0 -1.3M68.5 69.8l-0.8 -1.1M69.1 68.6l-0.2 -1.4M62.1 68.1l-1.2 0.7M66.8 69.6l-0.5 -0.6M61.4 69.2l0.1 0.7M61.5 72.3l0.2 0.4M58.2 69.9l-0.3 0.6M66.3 72.9l-0.3 0.3M65.0 72.5l-1.4 -0.4M64.2 68.4l1.2 -0.8M65.0 69.2l-1.2 -0.6M59.9 66.8l0.5 0.1M68.5 64.7l-0.2 0.8M64.9 64.5l1.1 0.3M56.2 72.0l1.4 0.6M62.1 62.6l0.7 0.4M65.8 71.3l-0.9 -0.5M60.6 73.5l-0.3 0.8M59.9 69.5l-0.5 0.4M58.3 69.2l-0.2 1.1M62.5 65.7l-0.7 -1.0M60.0 66.8l1.1 -0.9M62.4 65.8l-1.5 0.4M59.1 75.0l-0.3 0.9M62.8 74.5l-0.2 -1.3M63.5 63.3l1.2 -0.5M57.3 71.0l0.1 -0.5M62.5 73.7l-1.3 0.8M62.9 70.2l-1.3 0.4M60.1 70.0l-1.1 -0.3M61.8 64.1l0.7 -0.8M64.7 76.4l0.8 0.3M57.4 65.1l-0.9 -0.2M63.3 66.7l0.4 0.3M58.2 69.0l0.7 1.1M57.0 71.8l0.0 -1.0M65.1 75.9l1.1 -0.9M67.6 68.3l-0.0 0.4M68.4 66.6l-0.9 1.3M55.9 68.5l-0.4 1.5M59.5 62.6l0.4 -0.3M58.5 74.2l-1.4 0.7M68.6 67.9l-0.5 -1.2M65.8 73.8l0.2 0.5M57.0 74.3l-1.4 0.8M58.5 68.5l-1.1 -0.9M56.2 71.3l-0.5 -1.1M64.2 74.2l1.1 1.1M57.9 72.4l-0.5 1.4M62.5 75.5l-0.5 1.4M65.9 70.3l0.6 0.2M65.1 66.9l-1.1 0.9M61.7 70.2l1.5 -0.1M57.1 71.8l0.4 1.2M65.3 75.7l0.3 -0.9M65.1 64.0l-0.9 0.9M61.9 64.3l-0.5 0.1M63.8 71.7l0.4 1.1M58.2 69.9l0.6 -1.0M67.9 63.4l-1.0 0.1M56.9 74.8l-0.7 0.2M56.7 74.7l0.0 -0.6M61.1 68.6l0.0 -1.0M64.3 64.0l0.8 0.9M69.9 68.8l-1.0 -0.4M61.0 73.7l0.2 -1.2M68.5 65.1l-0.7 0.9M65.8 69.6l-1.4 -0.3M60.5 74.2l-0.2 -0.9M65.4 71.5l-0.0 -1.5M67.5 66.2l0.6 -0.4M66.7 67.4l-1.1 0.3M68.4 66.1l-0.6 -0.1M56.5 70.2l-0.6 -0.6M65.7 64.7l-0.2 0.4M58.1 70.5l-0.9 0.8M60.9 77.4l0.1 -0.7M67.0 63.7l0.9 -0.8M60.7 67.4l-0.2 -0.9M68.8 65.5l0.3 -0.8M61.4 72.2l0.4 0.1M66.0 65.9l-0.7 0.5M60.6 69.3l0.1 0.9M55.9 68.0l-0.6 -0.3M60.9 65.1l0.3 -0.3M63.7 70.2l-1.0 0.6M56.5 65.0l0.8 -0.8M60.4 72.9l-1.4 -0.6M65.8 76.1l-1.3 0.3M60.1 73.4l-0.2 0.6M65.7 75.4l-0.4 0.2M65.8 70.5l-0.4 0.2M62.1 75.3l0.4 -1.0M61.6 70.8l1.4 0.5M59.7 68.8l-0.7 0.2M64.4 64.2l0.5 -0.1M60.1 69.3l0.4 -0.3M59.3 67.2l-1.4 0.5M56.0 68.2l0.4 -0.8M55.3 72.4l-0.2 -0.5M58.9 70.5l-0.6 0.9M68.1 72.7l0.8 -0.0M67.4 67.8l-0.3 -0.6M68.0 68.4l1.0 -0.3M68.4 72.4l0.5 -1.0M67.3 71.2l-0.5 -0.6M60.5 76.2l0.2 -1.2M60.4 76.6l1.0 -0.7M67.7 71.2l-1.3 0.3M59.5 71.0l-0.7 0.9" stroke="#22dd88" stroke-width="0.45" stroke-opacity="0.85" fill="none" stroke-linecap="round"/>
<path d="M67.3 69.4l-0.4 0.2M59.7 68.8l-0.6 -0.3M60.6 64.3l-0.2 0.6M60.1 73.4l0.5 -1.2M67.8 71.2l-0.7 -0.6M60.1 68.9l-0.6 0.1M61.0 73.1l0.7 0.7M65.4 64.8l-0.8 -0.6M67.6 64.5l-0.2 -0.8M61.3 76.0l-0.9 0.4M68.6 67.9l0.4 -0.4M58.9 68.2l0.4 1.2M64.6 63.4l-0.2 -1.0M65.5 74.8l-0.7 -0.0M65.3 71.5l-0.9 -0.1M66.6 76.0l0.9 -0.1M62.8 68.1l0.2 -0.7M59.5 75.1l0.1 1.3M62.4 66.0l0.7 -1.4M57.4 68.6l-0.1 -1.1M64.5 66.9l-0.4 0.3M59.9 65.1l-1.4 -0.4M60.7 66.3l0.3 -0.8M59.1 68.9l0.8 -0.1M59.5 71.4l-1.2 0.7M63.3 73.0l-0.4 0.4M63.5 70.1l-0.1 -0.5M62.4 77.0l0.6 -0.7M66.4 68.6l-0.3 -1.6M67.3 69.1l-0.8 -0.4M63.9 70.5l0.9 0.7M65.7 65.8l-0.2 -0.7M62.9 65.8l-0.4 1.0M56.6 65.1l-0.6 -0.7M60.5 70.8l0.7 0.9M65.6 64.2l1.0 -0.2M58.3 72.4l-0.6 -0.6M64.1 66.2l1.5 -0.3M69.2 67.6l0.3 0.6M58.3 73.6l1.1 0.1M59.5 69.1l0.1 0.4M60.1 76.5l-0.7 0.8M67.9 74.6l0.6 -1.4M57.3 71.6l-0.8 -0.2M64.5 69.4l0.9 1.0M66.8 69.5l-0.6 0.2M61.2 71.4l-0.5 0.5M61.7 65.1l0.4 -0.4M63.2 72.9l1.5 0.3M61.8 68.6l0.6 0.4M67.4 75.0l0.5 -0.3M59.6 66.0l1.0 0.1M59.6 71.3l0.6 1.2M57.3 70.2l-0.1 0.5M59.0 66.7l-0.2 -1.5M58.2 68.9l-0.7 -0.4M60.7 64.0l-1.1 -0.3M64.7 73.4l1.1 1.0M66.4 70.6l-0.5 0.2M66.7 75.5l-1.5 -0.2M62.4 70.5l0.1 -0.7M57.4 74.8l-0.5 -0.2M58.1 75.9l0.5 0.2M63.6 75.8l0.1 0.4M60.9 67.7l0.5 -0.5M59.9 76.5l-0.0 0.8M65.0 68.4l0.8 0.8M68.0 63.5l0.2 0.9M63.3 77.6l-0.3 -1.5M68.4 67.0l0.2 -1.5M66.1 71.0l0.8 -0.5M59.7 74.6l-0.1 1.5M57.0 75.7l1.5 -0.4M61.6 67.5l1.2 -0.8M56.7 65.0l-0.1 0.6M59.2 75.3l-0.3 0.3M55.6 70.2l1.0 0.2M59.8 74.1l1.4 -0.2M60.9 70.7l-1.2 0.7M62.4 70.5l0.8 -0.0M68.1 63.6l-1.1 -0.1M63.7 76.9l1.1 -0.2M65.7 71.9l-0.4 -0.8M58.8 64.4l-0.6 -0.2M60.3 68.4l1.0 -0.2M63.1 74.6l-1.0 -0.1M58.0 64.2l-0.1 0.4M56.4 73.9l-1.1 0.3M65.1 63.9l-0.7 -0.2M58.4 76.3l0.8 0.3M66.6 76.7l-0.2 0.5M59.2 72.6l0.4 -0.3M64.0 69.0l0.4 0.2M56.3 70.3l0.2 -0.4M63.8 73.8l-0.4 -0.8M61.7 75.5l-1.1 -0.2M62.3 72.7l-1.3 -0.9M62.9 67.2l0.4 0.8M58.8 68.9l-0.5 -0.2M58.1 65.7l0.9 0.2M62.7 71.3l0.4 0.1M65.0 68.3l-0.0 0.6M61.2 63.3l-0.2 1.2M68.6 67.7l0.6 0.1M57.9 66.9l-0.8 0.6" stroke="#a0a0a8" stroke-width="0.45" stroke-opacity="0.7" fill="none" stroke-linecap="round"/>
<path d="M63.8 66.1l1.1 0.2M67.4 75.8l-0.2 -0.4M61.2 65.4l1.3 0.6M62.3 76.2l0.7 0.9M66.6 76.7l-0.7 0.7M63.2 71.7l0.8 -0.5M59.6 68.1l-0.2 -0.6M62.4 73.3l-0.4 -0.9M59.0 67.9l-0.7 0.9M68.0 74.4l1.2 -0.6M67.2 74.2l0.1 1.0M58.5 73.0l-0.5 -0.8M59.7 64.2l-0.1 -1.3M68.3 72.9l0.6 -1.5M61.7 73.7l-0.0 -0.5M66.1 66.8l-0.5 0.5M59.1 72.8l0.5 1.3M63.7 76.4l-0.3 -0.9M60.3 66.8l0.4 -1.3M63.4 68.0l-0.3 -1.1M60.5 66.8l1.3 0.4M56.3 68.9l0.6 -0.4M63.7 70.5l0.0 1.2M62.4 68.3l1.0 -0.6M57.8 65.0l0.7 -0.6M61.8 66.3l0.4 -1.1M58.9 65.9l-0.3 -0.7M62.7 76.7l-0.7 0.6M61.3 68.5l0.1 0.6M56.7 70.1l0.5 1.0M66.7 69.1l-0.4 0.3M66.5 65.1l1.5 -0.2M64.5 67.4l-0.8 0.9M63.8 64.8l-0.7 0.1M64.2 70.8l-1.2 0.0M63.4 72.9l-0.6 0.6M66.4 75.1l-0.2 1.1M66.2 70.0l1.5 -0.1M57.5 75.0l1.0 0.8M67.8 69.7l-1.5 0.5M65.5 68.6l-0.8 0.2M58.6 65.0l0.6 -0.6M65.3 64.5l1.5 -0.4M67.0 71.2l0.8 0.2M60.9 76.0l1.4 0.0M61.8 64.0l-0.9 -1.0M66.8 70.1l0.8 0.1M59.1 69.6l1.0 -0.9M61.0 71.5l0.3 0.3M56.6 67.3l-1.0 -0.6M61.4 71.0l0.9 0.7M58.5 71.3l0.4 0.9M66.1 74.6l0.9 -0.2M59.6 69.5l0.5 -0.1M63.8 66.9l-0.2 -1.0M61.5 73.5l1.5 0.3M60.8 71.0l-0.4 -0.3M66.2 73.5l-0.2 -0.5M56.1 73.9l0.9 0.6M68.0 71.1l-0.1 -1.1" stroke="#ffffff" stroke-width="0.45" stroke-opacity="0.7" fill="none" stroke-linecap="round"/>
<polygon points="72.5,62.5 78,62 81.5,64 82.4,70 81,76 76,77.5 72,75.5 70.3,68" fill="#ece2e6" opacity="0.75"/>
<path d="M70.2 68.6l0.2 1.1M72.7 66.4l1.1 -0.6M79.2 64.1l-0.1 -0.7M73.6 73.9l-0.6 -0.3M71.3 75.5l-0.1 -0.7M75.1 66.2l-1.5 -0.3M76.0 77.1l0.4 -0.0M73.3 64.0l-1.6 0.0M81.0 74.1l1.3 0.7M76.5 69.4l0.4 0.9M82.1 69.6l0.5 -0.3M81.0 67.7l-1.3 0.3M80.6 71.5l-0.4 0.0M73.6 66.7l0.9 1.1M78.9 64.5l-1.4 0.7M73.0 65.1l-0.2 1.1M75.2 65.2l0.8 0.6M70.6 67.5l-0.5 -0.0M77.5 64.1l-0.3 -0.4M76.9 64.6l-0.1 0.5M78.0 75.3l-1.0 0.3M78.3 63.2l-0.2 -0.5M76.7 72.3l-0.1 -0.8M80.6 69.6l-1.0 -0.9M79.2 63.7l-0.1 1.2M80.1 67.5l0.6 1.0M73.5 68.1l-0.7 -1.0M80.5 72.1l0.9 -0.6M79.1 70.9l0.4 0.1M75.0 65.0l-1.3 0.5M73.1 64.9l-0.0 -0.7M73.1 68.5l0.9 1.1M75.2 62.2l0.3 1.6M80.5 72.6l-0.9 -0.4M81.1 74.2l-1.3 0.5M76.7 76.1l0.1 1.4M73.6 71.4l1.1 -0.9M79.2 70.4l0.4 1.0M73.3 75.5l0.5 1.2M77.2 65.9l0.0 -0.5M82.5 66.8l-0.2 -0.4M81.1 73.8l1.2 0.5M81.0 72.1l-0.3 0.4M73.0 64.2l0.6 1.1M73.5 74.2l-0.1 -1.2M77.2 64.8l0.6 0.4M73.8 69.7l1.3 0.3M80.0 73.7l0.4 1.5M77.5 71.8l0.6 0.1M72.8 62.5l-0.5 -0.3M79.2 76.8l0.6 -0.1M74.3 77.3l-0.6 1.0M73.9 68.8l-0.2 -1.4M73.0 73.6l-0.6 -1.1M74.7 71.8l-0.1 1.4M78.8 65.5l-0.5 -0.8M77.8 74.0l-0.6 -1.3M80.5 71.4l-0.6 -0.1M71.8 67.7l-0.3 1.0M81.2 75.1l0.4 1.0M73.3 64.2l0.4 0.0M74.7 67.6l-0.3 -1.0M71.8 73.6l0.4 -0.2M73.9 69.9l-0.7 -0.0M79.7 63.9l-1.3 -0.3M75.6 68.8l0.6 -1.0M81.1 67.7l0.4 0.4M81.8 70.6l0.3 -0.9M82.3 67.2l-1.1 0.7M76.3 69.1l0.4 -0.8M73.7 65.7l0.1 -0.8M78.7 72.9l-0.5 -0.4M80.7 71.5l-0.4 -0.4M75.5 72.7l-0.5 -1.4M73.9 63.7l-0.3 0.5M76.3 62.6l0.6 -0.4M72.9 63.8l-0.7 -0.2M72.6 64.2l-0.9 -0.1M72.0 63.2l-0.2 -1.1M76.1 65.1l0.9 -0.5M75.2 74.8l0.8 0.8M74.2 67.9l-0.6 -0.7M80.6 69.8l0.2 -0.8M78.8 73.0l-1.2 -0.2M73.4 75.9l0.7 -1.3M71.9 65.0l-0.3 0.9M69.6 67.4l-0.5 -0.0M78.4 76.7l0.6 -0.8M77.3 74.4l-0.3 0.5M75.7 62.9l-1.0 -0.4M74.0 68.5l-0.8 1.1M75.6 64.7l0.5 0.0M81.9 70.2l1.0 -0.1M74.8 62.4l0.8 1.1M72.9 71.9l0.6 -0.3M72.9 65.2l-0.4 -1.5M72.1 66.0l0.1 0.9M73.4 66.2l-0.5 0.3M70.7 69.9l0.9 -0.7M75.7 67.2l0.6 0.2M73.5 63.5l-0.5 -0.4M76.4 73.6l0.2 -0.9M79.1 68.7l-0.1 0.5M76.2 76.2l0.4 -0.6M72.0 71.8l0.9 -0.4M79.4 65.2l0.4 0.1M74.0 64.6l-0.2 1.6M75.9 75.0l0.5 -1.4M76.7 77.0l-1.1 -0.9M80.7 71.1l0.4 -1.3M79.8 67.8l-1.4 -0.2M74.8 73.0l-1.4 -0.4M73.6 74.6l-0.1 -0.4M76.9 73.7l-0.3 0.4M75.7 65.7l-0.4 0.6M78.5 69.6l0.1 0.7M81.6 64.8l-0.0 0.5M78.8 76.4l-0.5 -0.3M73.5 72.0l-0.6 -0.0M77.9 71.2l-0.3 0.7M79.1 77.0l-0.3 -0.3M72.4 69.3l-0.7 -1.0M81.9 68.7l-1.0 0.7M78.8 65.1l0.6 0.5M73.5 77.1l1.3 -0.1M70.1 67.5l0.1 1.4M75.0 68.1l-0.2 0.4M71.8 69.0l0.3 -0.5M79.9 64.6l1.4 0.8M72.7 72.4l0.4 0.8" stroke="#a8a0a8" stroke-width="0.45" stroke-opacity="0.75" fill="none" stroke-linecap="round"/>
<path d="M76.0 70.6l0.2 -0.3M76.5 64.0l-0.8 1.4M78.4 65.6l-0.6 -1.4M74.6 65.4l-0.8 -1.2M76.9 65.3l-1.6 -0.1M72.1 64.7l-1.3 -0.8M79.3 76.3l0.8 -0.2M77.8 75.9l0.8 1.1M72.3 67.4l-1.0 0.6M77.7 68.4l-0.5 0.5M78.8 74.6l-0.4 -0.9M77.3 68.8l-1.0 -0.2M75.2 76.0l0.6 -0.5M76.4 62.2l-0.9 0.2M76.1 69.8l-0.2 0.4M71.5 71.2l0.2 1.0M76.7 71.2l1.0 -0.8M73.2 74.5l0.0 -1.0M81.6 68.0l-1.3 -0.4M75.7 63.6l0.9 -0.4M75.3 65.5l-1.1 -0.7M79.9 65.5l0.9 -0.3M78.1 75.4l0.6 -0.5M79.3 64.4l-0.5 -0.6M74.9 76.8l1.0 0.9M75.5 63.3l0.5 -0.0M77.2 71.7l-0.0 0.6M72.9 70.0l-1.0 0.8M77.0 73.0l-0.3 0.6M74.9 74.0l0.1 0.8M81.6 67.7l-0.2 0.9M81.3 72.9l-1.1 0.8M77.7 65.1l1.3 -0.1M72.9 63.2l-0.5 -0.0M76.2 66.1l0.3 1.0M72.6 69.7l-0.8 0.3M77.4 64.8l-0.4 0.9M74.9 62.9l-0.8 -0.1M77.9 67.5l-0.1 -1.2M76.2 72.0l-0.6 -0.2M75.1 70.2l0.2 1.1M79.3 73.9l1.5 -0.1M74.0 73.4l-0.7 0.4M78.7 73.7l0.4 0.5M77.5 66.7l-1.2 -0.5M76.6 75.8l0.2 -1.2M77.3 72.6l-0.2 0.5M80.4 68.6l0.4 1.0M77.2 63.6l-0.2 0.5M74.0 72.1l-1.3 0.5M82.7 70.9l0.9 -1.3M79.5 68.0l1.0 -0.8M77.2 70.3l0.4 1.0M78.7 64.1l-0.6 -0.1M78.8 63.1l1.2 -0.2M71.2 68.2l1.2 -0.5M75.7 63.2l1.0 -0.6M77.1 63.7l-1.5 0.2M75.9 67.8l0.7 0.0M80.6 65.0l0.5 -0.7M73.8 69.3l0.1 0.7M75.1 68.9l-1.0 -0.6M81.7 69.9l-0.4 0.1M72.2 66.6l1.1 -1.0M75.6 63.1l-0.3 1.0M70.0 71.0l-0.5 -0.4M80.3 71.8l-1.3 -0.2M74.4 70.3l-0.1 -1.1M74.2 72.4l-0.9 0.3M77.2 75.5l0.4 1.1M77.6 68.1l0.8 0.1M81.6 71.9l-0.5 -0.7M79.4 69.2l-1.2 0.4M77.1 65.4l0.2 1.6M75.5 65.4l-0.0 0.6M75.5 64.3l1.5 -0.2M75.7 69.8l1.1 0.1M72.7 74.6l-0.7 1.2M77.6 67.8l-0.1 0.7M73.8 74.7l1.0 0.0M79.0 64.9l-0.0 -0.6M72.4 64.4l-0.6 1.4M79.3 63.4l1.2 0.8M72.4 73.0l0.9 -0.1M72.8 66.7l-0.4 0.6M74.4 72.9l1.5 0.3M73.5 65.2l0.9 -1.3M73.2 62.4l-0.4 -0.3M74.5 64.4l-1.3 -0.1M71.4 67.8l0.3 0.4M78.5 70.1l-0.5 -0.6M75.3 67.9l0.9 -1.3M74.1 62.3l0.2 1.0M80.9 74.1l-0.1 0.4M80.7 75.4l-1.3 -0.3M75.9 76.8l0.3 -1.0M78.7 70.0l-0.2 0.5M76.9 70.7l-0.3 0.5M75.0 69.0l0.8 0.3M72.2 72.9l-0.4 -0.5M73.1 68.0l1.2 0.5M75.0 69.8l0.8 1.0M75.0 63.8l-0.1 -0.4M81.4 64.6l-1.2 -0.2M71.0 73.4l-0.5 0.3M77.0 75.5l-0.7 0.1M78.8 66.3l0.6 0.2M81.1 63.8l0.4 -0.2M76.7 76.0l0.2 1.6M77.6 68.7l0.3 1.4M81.4 72.9l-0.1 -0.6M71.4 64.9l0.1 -1.3M73.5 68.1l-0.1 1.3M73.9 70.9l-0.4 1.0M80.6 75.4l0.1 -0.5M80.2 72.1l0.8 -0.4M73.8 67.3l0.2 -0.8" stroke="#f0a8bc" stroke-width="0.45" stroke-opacity="0.85" fill="none" stroke-linecap="round"/>
<path d="M80.9 72.0l0.7 -0.9M75.1 64.4l0.0 -0.8M74.5 66.7l-0.7 -0.9M80.5 70.4l-1.0 -0.2M76.0 64.1l-0.9 -0.2M76.9 63.1l-0.5 -0.1M78.8 68.8l0.8 1.3M75.6 68.7l-0.5 0.5M76.8 69.0l0.0 -1.0M76.5 73.0l-0.9 -1.0M78.1 64.9l0.8 0.8M79.9 75.7l-0.6 -0.4M73.9 69.7l-0.4 -0.1M80.2 74.1l0.5 0.3M80.7 71.6l0.9 -0.9M78.4 62.8l0.7 -0.3M76.8 70.8l1.3 0.6M76.4 64.6l-1.1 0.5M78.6 65.2l-0.5 -0.4M79.6 76.2l0.6 0.0M74.0 64.8l0.2 -0.5M78.2 64.5l0.5 1.5M76.5 63.6l-0.6 -1.1M76.9 70.9l1.2 -0.7M77.2 68.0l1.5 0.6M81.4 63.5l-1.4 -0.6M73.8 73.0l0.2 -0.6M77.5 75.5l-0.6 -0.4M77.4 71.3l-1.0 0.2M76.6 68.4l-1.5 0.0M71.2 70.1l0.6 0.2M74.1 66.1l0.8 0.4M81.4 71.1l-0.6 -0.7M72.3 66.1l0.1 -0.4M78.4 69.1l-0.5 -0.7M74.3 76.1l-0.7 -0.4M76.0 69.2l0.6 -1.3M74.4 67.2l0.3 -0.8M81.5 63.2l-0.4 0.2M76.1 69.5l0.8 -0.2M77.2 73.8l0.6 -1.0M81.0 69.7l-1.1 0.5M71.9 72.7l-0.4 -0.0M78.7 62.4l-0.8 0.8M79.8 64.7l-1.1 -0.4M74.6 65.0l-0.7 -1.3M76.3 74.8l-0.2 -0.3M72.1 67.9l0.9 -0.1M80.0 69.5l1.0 -0.7M73.6 63.7l-0.5 0.0M72.4 67.2l-0.5 0.2M75.9 66.3l-0.3 -0.4" stroke="#ffffff" stroke-width="0.45" stroke-opacity="0.7" fill="none" stroke-linecap="round"/>
</g>
<line x1="66.40" y1="102.00" x2="66.40" y2="83.50" stroke="#222" stroke-width="0.8" />
<polygon points="66.40,80.30 64.50,84.50 66.40,83.45 68.30,84.50" fill="#111"/>
<text x="51.90" y="109.10" font-size="6.1" font-weight="normal" fill="#000" stroke="#000" stroke-width="0.15" stroke-opacity="0.55" textLength="31.85" lengthAdjust="spacingAndGlyphs">FV Structure</text>
<g>
<path d="M65.1 119.8Q65.1 118.9 65.2 117.2Q63.9 117.5 64.4 119.6Q66.0 121.5 65.8 121.8Q66.0 122.6 68.1 122.9M55.2 133.1Q57.0 134.0 57.7 133.8Q57.0 133.0 56.7 131.4Q55.8 131.5 54.2 131.8Q54.3 130.5 53.2 129.4M65.8 126.8Q64.3 127.1 63.8 128.4Q63.3 128.7 61.2 128.5Q60.4 127.1 59.1 127.0Q58.0 127.5 56.5 127.1M59.8 129.0Q59.1 130.2 59.8 131.6Q58.7 133.8 59.2 134.2Q58.5 133.3 56.8 133.1Q56.5 130.9 57.0 130.5M65.5 122.6Q66.4 122.1 67.5 120.9Q68.5 120.1 70.1 120.5Q69.0 119.3 67.6 119.8Q66.4 119.8 65.6 121.5M62.0 122.9Q61.4 122.8 59.8 124.3Q59.6 124.9 57.4 125.1Q56.2 123.4 56.1 122.9Q54.4 121.5 53.9 121.5M56.3 125.1Q56.6 125.1 58.7 124.0Q59.6 123.0 61.3 123.9Q61.3 124.5 62.8 126.1Q64.6 127.5 65.2 127.1M68.8 124.5Q69.2 123.2 71.2 123.5Q71.0 121.3 71.6 120.9Q71.8 119.2 70.5 118.5Q70.7 116.4 69.5 116.1M66.3 125.9Q67.2 126.4 67.0 128.4Q66.1 129.4 64.8 129.8Q63.6 131.5 64.3 132.4Q62.7 132.3 62.4 134.2M63.1 121.1Q61.9 120.3 60.5 121.0Q59.8 120.4 58.3 119.5Q58.7 118.5 59.1 117.0Q59.8 117.4 61.2 118.6M60.0 125.3Q59.5 126.0 60.8 127.8Q60.0 128.7 61.0 130.3Q60.6 131.0 59.2 132.2Q59.5 131.6 58.8 129.6M52.7 123.4Q53.0 125.0 54.4 125.3Q55.6 127.4 55.5 127.7Q55.7 128.6 55.3 130.3Q55.7 132.0 56.6 132.5M63.5 120.5Q65.6 120.1 65.7 119.1Q66.7 120.2 68.3 119.4Q69.9 119.2 70.9 119.4Q69.0 119.1 68.3 119.2M59.7 130.0Q61.3 130.2 62.3 130.4Q61.7 131.5 63.1 132.9Q64.4 131.5 64.6 130.7Q65.1 128.6 66.1 128.6M69.3 118.7Q69.2 120.2 68.3 121.1Q68.2 121.5 68.7 123.7Q67.7 124.3 67.1 125.7Q67.3 126.3 67.5 128.3M57.8 117.0Q57.9 117.4 58.6 119.4Q56.8 120.2 56.8 121.4Q55.7 122.2 56.4 123.9Q56.8 124.7 56.4 126.5M59.0 133.3Q57.4 133.0 57.0 131.6Q56.9 131.1 57.8 129.1Q57.7 126.9 57.7 126.5Q56.3 125.0 56.0 124.6M57.7 131.2Q56.4 133.2 56.3 133.5Q57.2 133.0 57.8 131.3Q58.6 130.7 59.4 129.2Q60.3 127.8 60.8 127.1M54.2 119.4Q54.5 118.8 56.8 119.6Q58.1 120.9 59.3 120.3Q58.6 122.2 59.6 122.9Q58.9 124.3 57.2 123.8M59.0 127.7Q60.0 127.2 60.1 125.3Q60.6 124.2 60.0 122.7Q60.9 122.6 62.5 121.9Q64.0 123.2 64.4 123.6M57.7 128.2Q58.0 128.3 59.7 129.7Q61.1 130.2 62.3 129.8Q62.2 130.2 63.1 132.3Q62.4 134.1 61.4 134.3M66.0 117.5Q66.0 118.3 66.2 120.1Q66.0 120.2 64.2 121.6Q64.1 120.5 62.3 119.8Q63.5 119.0 62.9 117.3M58.6 127.7Q58.1 125.7 57.7 125.3Q57.1 124.5 55.2 124.6Q54.2 124.0 53.5 122.7Q53.9 123.3 56.0 123.2M56.4 119.0Q55.9 119.7 53.9 119.6Q54.9 119.3 56.2 118.5Q55.7 120.0 56.0 121.1Q54.9 120.8 53.4 121.7M55.7 122.4Q55.9 124.1 57.2 124.5Q57.8 125.9 57.2 127.1Q57.2 128.2 59.0 129.0Q60.2 128.9 61.2 127.7M53.9 123.8Q52.4 124.8 52.0 125.5Q51.4 126.2 52.2 128.1Q54.1 126.8 54.5 127.0Q55.6 125.8 57.1 126.5M56.3 128.1Q56.1 129.1 56.7 130.7Q54.8 130.6 54.4 131.9Q55.1 130.8 56.6 130.5Q58.7 129.9 59.1 129.7M51.9 122.4Q51.6 120.8 53.1 120.1Q53.2 121.0 53.9 122.6Q54.1 123.0 53.4 125.2Q55.0 126.8 55.3 126.9M67.6 118.4Q66.6 117.8 65.0 118.4Q64.9 117.2 63.5 116.2Q64.3 118.3 63.4 118.8Q63.1 119.7 62.3 121.2M65.4 117.7Q64.3 119.3 65.0 120.3Q64.5 122.5 65.1 122.9Q66.0 123.9 66.7 124.9Q69.0 125.5 69.3 125.0M69.7 120.9Q71.7 121.0 71.9 122.4Q69.9 122.0 69.5 123.3Q67.3 123.0 66.9 122.8Q66.1 122.2 64.4 123.4M57.2 123.1Q57.2 123.0 55.8 120.9Q54.4 120.0 53.2 120.4Q54.2 121.8 55.6 121.3Q57.3 123.0 57.1 123.5M68.3 122.6Q66.7 123.5 65.7 122.8Q64.7 121.5 65.0 120.3Q64.6 119.3 63.7 118.0Q63.2 117.5 61.2 117.1M67.3 129.6Q68.8 130.0 69.9 129.4Q68.1 131.0 68.1 131.3Q67.4 132.3 65.7 132.1Q65.9 133.5 64.6 134.4M70.8 126.2Q69.5 125.2 69.6 123.9Q69.3 121.8 69.4 121.3Q69.7 121.5 71.7 120.0Q71.7 121.4 70.9 122.5M56.0 121.5Q55.5 122.9 55.9 124.1Q55.8 125.6 57.3 126.3Q59.4 126.5 59.7 127.2Q61.4 127.5 62.2 126.3" stroke="#3a3a3a" stroke-width="0.75" stroke-opacity="0.42" fill="none" stroke-linecap="round"/>
<path d="M65.1 119.8Q65.1 118.9 65.2 117.2Q63.9 117.5 64.4 119.6Q66.0 121.5 65.8 121.8Q66.0 122.6 68.1 122.9M55.2 133.1Q57.0 134.0 57.7 133.8Q57.0 133.0 56.7 131.4Q55.8 131.5 54.2 131.8Q54.3 130.5 53.2 129.4M65.8 126.8Q64.3 127.1 63.8 128.4Q63.3 128.7 61.2 128.5Q60.4 127.1 59.1 127.0Q58.0 127.5 56.5 127.1M59.8 129.0Q59.1 130.2 59.8 131.6Q58.7 133.8 59.2 134.2Q58.5 133.3 56.8 133.1Q56.5 130.9 57.0 130.5M65.5 122.6Q66.4 122.1 67.5 120.9Q68.5 120.1 70.1 120.5Q69.0 119.3 67.6 119.8Q66.4 119.8 65.6 121.5M62.0 122.9Q61.4 122.8 59.8 124.3Q59.6 124.9 57.4 125.1Q56.2 123.4 56.1 122.9Q54.4 121.5 53.9 121.5M56.3 125.1Q56.6 125.1 58.7 124.0Q59.6 123.0 61.3 123.9Q61.3 124.5 62.8 126.1Q64.6 127.5 65.2 127.1M68.8 124.5Q69.2 123.2 71.2 123.5Q71.0 121.3 71.6 120.9Q71.8 119.2 70.5 118.5Q70.7 116.4 69.5 116.1M66.3 125.9Q67.2 126.4 67.0 128.4Q66.1 129.4 64.8 129.8Q63.6 131.5 64.3 132.4Q62.7 132.3 62.4 134.2M63.1 121.1Q61.9 120.3 60.5 121.0Q59.8 120.4 58.3 119.5Q58.7 118.5 59.1 117.0Q59.8 117.4 61.2 118.6M60.0 125.3Q59.5 126.0 60.8 127.8Q60.0 128.7 61.0 130.3Q60.6 131.0 59.2 132.2Q59.5 131.6 58.8 129.6M52.7 123.4Q53.0 125.0 54.4 125.3Q55.6 127.4 55.5 127.7Q55.7 128.6 55.3 130.3Q55.7 132.0 56.6 132.5M63.5 120.5Q65.6 120.1 65.7 119.1Q66.7 120.2 68.3 119.4Q69.9 119.2 70.9 119.4Q69.0 119.1 68.3 119.2M59.7 130.0Q61.3 130.2 62.3 130.4Q61.7 131.5 63.1 132.9Q64.4 131.5 64.6 130.7Q65.1 128.6 66.1 128.6M69.3 118.7Q69.2 120.2 68.3 121.1Q68.2 121.5 68.7 123.7Q67.7 124.3 67.1 125.7Q67.3 126.3 67.5 128.3M57.8 117.0Q57.9 117.4 58.6 119.4Q56.8 120.2 56.8 121.4Q55.7 122.2 56.4 123.9Q56.8 124.7 56.4 126.5M59.0 133.3Q57.4 133.0 57.0 131.6Q56.9 131.1 57.8 129.1Q57.7 126.9 57.7 126.5Q56.3 125.0 56.0 124.6M57.7 131.2Q56.4 133.2 56.3 133.5Q57.2 133.0 57.8 131.3Q58.6 130.7 59.4 129.2Q60.3 127.8 60.8 127.1M54.2 119.4Q54.5 118.8 56.8 119.6Q58.1 120.9 59.3 120.3Q58.6 122.2 59.6 122.9Q58.9 124.3 57.2 123.8M59.0 127.7Q60.0 127.2 60.1 125.3Q60.6 124.2 60.0 122.7Q60.9 122.6 62.5 121.9Q64.0 123.2 64.4 123.6M57.7 128.2Q58.0 128.3 59.7 129.7Q61.1 130.2 62.3 129.8Q62.2 130.2 63.1 132.3Q62.4 134.1 61.4 134.3M66.0 117.5Q66.0 118.3 66.2 120.1Q66.0 120.2 64.2 121.6Q64.1 120.5 62.3 119.8Q63.5 119.0 62.9 117.3M58.6 127.7Q58.1 125.7 57.7 125.3Q57.1 124.5 55.2 124.6Q54.2 124.0 53.5 122.7Q53.9 123.3 56.0 123.2M56.4 119.0Q55.9 119.7 53.9 119.6Q54.9 119.3 56.2 118.5Q55.7 120.0 56.0 121.1Q54.9 120.8 53.4 121.7M55.7 122.4Q55.9 124.1 57.2 124.5Q57.8 125.9 57.2 127.1Q57.2 128.2 59.0 129.0Q60.2 128.9 61.2 127.7M53.9 123.8Q52.4 124.8 52.0 125.5Q51.4 126.2 52.2 128.1Q54.1 126.8 54.5 127.0Q55.6 125.8 57.1 126.5M56.3 128.1Q56.1 129.1 56.7 130.7Q54.8 130.6 54.4 131.9Q55.1 130.8 56.6 130.5Q58.7 129.9 59.1 129.7M51.9 122.4Q51.6 120.8 53.1 120.1Q53.2 121.0 53.9 122.6Q54.1 123.0 53.4 125.2Q55.0 126.8 55.3 126.9M67.6 118.4Q66.6 117.8 65.0 118.4Q64.9 117.2 63.5 116.2Q64.3 118.3 63.4 118.8Q63.1 119.7 62.3 121.2M65.4 117.7Q64.3 119.3 65.0 120.3Q64.5 122.5 65.1 122.9Q66.0 123.9 66.7 124.9Q69.0 125.5 69.3 125.0M69.7 120.9Q71.7 121.0 71.9 122.4Q69.9 122.0 69.5 123.3Q67.3 123.0 66.9 122.8Q66.1 122.2 64.4 123.4M57.2 123.1Q57.2 123.0 55.8 120.9Q54.4 120.0 53.2 120.4Q54.2 121.8 55.6 121.3Q57.3 123.0 57.1 123.5M68.3 122.6Q66.7 123.5 65.7 122.8Q64.7 121.5 65.0 120.3Q64.6 119.3 63.7 118.0Q63.2 117.5 61.2 117.1M67.3 129.6Q68.8 130.0 69.9 129.4Q68.1 131.0 68.1 131.3Q67.4 132.3 65.7 132.1Q65.9 133.5 64.6 134.4M70.8 126.2Q69.5 125.2 69.6 123.9Q69.3 121.8 69.4 121.3Q69.7 121.5 71.7 120.0Q71.7 121.4 70.9 122.5M56.0 121.5Q55.5 122.9 55.9 124.1Q55.8 125.6 57.3 126.3Q59.4 126.5 59.7 127.2Q61.4 127.5 62.2 126.3" stroke="#d4b690" stroke-width="0.4" stroke-opacity="0.95" fill="none" stroke-linecap="round"/>
<path d="M74.9 140.7Q73.2 139.4 72.4 139.9Q73.1 139.0 73.6 137.6Q73.4 136.2 73.4 135.0Q72.2 134.0 72.2 132.7M76.8 124.7Q76.1 123.6 75.0 122.8Q73.3 122.8 73.3 120.9Q74.0 122.4 75.4 122.4Q77.3 122.4 78.0 122.6M70.2 135.8Q71.9 137.7 71.7 137.9Q73.2 139.2 73.4 139.8Q74.0 140.4 75.9 140.6Q77.5 140.1 78.1 139.2M72.1 142.1Q74.3 141.6 74.6 141.4Q74.5 139.8 74.5 138.8Q75.7 139.2 76.8 137.7Q76.8 135.5 77.3 135.2M68.6 124.9Q69.0 124.8 70.5 126.7Q71.2 127.2 71.1 129.2Q70.8 130.8 69.0 130.7Q70.3 131.5 71.5 131.5M70.3 138.0Q70.2 135.8 70.8 135.4Q72.5 133.8 73.1 134.2Q73.3 133.7 75.4 133.0Q76.5 131.3 75.8 130.4M77.7 126.1Q76.8 124.4 76.7 123.7Q76.8 123.2 77.4 121.2Q76.9 122.4 77.9 123.8Q78.5 124.1 80.4 124.3M78.6 124.6Q79.0 125.8 79.6 127.0Q78.7 127.4 79.3 129.6Q81.1 130.6 81.7 130.8Q82.5 129.7 83.9 129.5M68.8 125.0Q70.5 126.5 70.7 126.7Q72.1 128.9 71.6 129.2Q70.0 129.9 69.9 131.1Q70.5 132.4 70.7 133.6M76.6 137.4Q75.9 138.6 74.6 139.0Q73.1 138.4 72.0 139.2Q70.3 137.6 70.5 137.1Q71.9 137.4 73.0 137.3M69.8 133.9Q68.3 133.3 68.4 131.8Q69.4 131.5 70.9 132.7Q71.4 134.5 71.5 135.2Q71.1 136.2 72.1 137.7M75.2 119.3Q73.0 119.2 72.6 119.6Q72.6 120.4 73.5 122.0Q73.2 122.5 71.3 123.4Q70.6 123.2 68.7 123.6M68.0 129.6Q69.0 128.6 70.1 128.1Q71.1 126.0 71.6 125.9Q73.8 125.2 74.2 126.4Q74.3 124.5 75.1 124.0M82.2 145.0Q81.6 143.1 82.1 142.4Q81.6 140.6 81.2 139.9Q82.7 138.6 83.1 138.2Q82.7 136.6 83.2 135.6M80.1 142.1Q79.6 140.5 80.3 139.5Q81.5 139.6 82.9 138.9Q83.8 139.5 84.8 140.6Q85.3 142.9 85.1 143.2M77.0 144.9Q77.1 143.0 75.7 142.7Q74.5 142.7 73.4 141.5Q75.1 140.2 75.8 140.4Q76.6 139.9 77.5 138.5M77.7 144.3Q76.9 143.1 76.0 142.3Q76.1 140.5 76.9 139.9Q76.0 139.3 76.0 137.4Q75.7 136.0 76.4 134.9M85.1 143.4Q83.4 144.9 82.8 144.7Q81.1 143.7 80.6 143.4Q79.3 141.9 78.8 141.5Q78.4 140.5 79.6 139.0M75.5 132.6Q77.3 131.5 78.1 132.3Q79.6 132.2 80.0 134.0Q81.8 134.8 82.6 134.0Q84.7 133.3 85.2 134.2M72.8 143.4Q72.3 142.2 71.6 141.1Q71.6 139.5 72.0 138.6Q73.4 137.5 74.0 137.0Q74.9 136.9 76.6 136.8M71.5 128.7Q71.2 129.7 71.7 131.2Q72.4 133.1 73.1 133.4Q72.2 133.9 72.1 135.8Q73.8 137.3 73.9 137.7M81.7 146.1Q80.9 144.6 81.7 143.5Q81.8 142.5 83.6 141.7Q82.5 140.6 82.6 139.3Q83.5 137.6 82.7 136.7M72.3 119.9Q72.6 119.0 74.9 119.6Q73.5 120.4 72.3 119.6Q72.8 118.9 74.9 119.5Q77.0 120.6 77.2 120.7M72.3 128.7Q70.8 128.7 70.2 130.1Q71.4 132.3 71.0 132.6Q71.9 132.3 73.2 131.2Q72.7 128.9 73.7 128.6M74.2 142.7Q75.2 142.1 76.3 141.3Q76.4 140.9 76.7 138.8Q77.7 137.9 76.7 136.2Q76.4 135.9 74.5 134.8M76.2 123.9Q74.8 123.0 73.6 123.5Q73.3 123.9 71.0 123.8Q70.0 124.2 68.4 124.0Q69.3 123.7 71.0 124.6M79.2 146.8Q79.7 146.0 81.0 144.9Q80.3 144.3 79.6 142.6Q79.7 141.1 81.4 140.8Q82.5 140.7 83.1 138.8M70.0 122.0Q70.0 122.6 71.9 123.7Q72.1 124.3 72.6 126.2Q74.4 126.4 75.2 126.5Q76.8 127.3 77.7 127.1M75.4 129.3Q75.8 128.0 75.1 126.7Q74.6 126.3 75.0 124.1Q73.9 122.2 73.6 122.0Q74.9 119.9 74.9 119.7M70.7 126.9Q72.7 127.6 73.3 127.4Q75.5 127.2 75.9 127.9Q76.6 127.6 78.3 127.0Q78.8 126.5 80.7 125.9M79.5 144.7Q78.6 144.3 76.9 145.0Q75.7 144.4 74.4 144.6Q75.0 145.0 77.0 145.0Q77.6 143.0 78.5 142.9M78.0 121.0Q79.6 121.4 80.0 122.7Q79.2 123.1 79.0 125.1Q77.5 126.5 77.0 126.8Q75.6 127.8 75.2 128.6" stroke="#3a3a3a" stroke-width="0.75" stroke-opacity="0.42" fill="none" stroke-linecap="round"/>
<path d="M74.9 140.7Q73.2 139.4 72.4 139.9Q73.1 139.0 73.6 137.6Q73.4 136.2 73.4 135.0Q72.2 134.0 72.2 132.7M76.8 124.7Q76.1 123.6 75.0 122.8Q73.3 122.8 73.3 120.9Q74.0 122.4 75.4 122.4Q77.3 122.4 78.0 122.6M70.2 135.8Q71.9 137.7 71.7 137.9Q73.2 139.2 73.4 139.8Q74.0 140.4 75.9 140.6Q77.5 140.1 78.1 139.2M72.1 142.1Q74.3 141.6 74.6 141.4Q74.5 139.8 74.5 138.8Q75.7 139.2 76.8 137.7Q76.8 135.5 77.3 135.2M68.6 124.9Q69.0 124.8 70.5 126.7Q71.2 127.2 71.1 129.2Q70.8 130.8 69.0 130.7Q70.3 131.5 71.5 131.5M70.3 138.0Q70.2 135.8 70.8 135.4Q72.5 133.8 73.1 134.2Q73.3 133.7 75.4 133.0Q76.5 131.3 75.8 130.4M77.7 126.1Q76.8 124.4 76.7 123.7Q76.8 123.2 77.4 121.2Q76.9 122.4 77.9 123.8Q78.5 124.1 80.4 124.3M78.6 124.6Q79.0 125.8 79.6 127.0Q78.7 127.4 79.3 129.6Q81.1 130.6 81.7 130.8Q82.5 129.7 83.9 129.5M68.8 125.0Q70.5 126.5 70.7 126.7Q72.1 128.9 71.6 129.2Q70.0 129.9 69.9 131.1Q70.5 132.4 70.7 133.6M76.6 137.4Q75.9 138.6 74.6 139.0Q73.1 138.4 72.0 139.2Q70.3 137.6 70.5 137.1Q71.9 137.4 73.0 137.3M69.8 133.9Q68.3 133.3 68.4 131.8Q69.4 131.5 70.9 132.7Q71.4 134.5 71.5 135.2Q71.1 136.2 72.1 137.7M75.2 119.3Q73.0 119.2 72.6 119.6Q72.6 120.4 73.5 122.0Q73.2 122.5 71.3 123.4Q70.6 123.2 68.7 123.6M68.0 129.6Q69.0 128.6 70.1 128.1Q71.1 126.0 71.6 125.9Q73.8 125.2 74.2 126.4Q74.3 124.5 75.1 124.0M82.2 145.0Q81.6 143.1 82.1 142.4Q81.6 140.6 81.2 139.9Q82.7 138.6 83.1 138.2Q82.7 136.6 83.2 135.6M80.1 142.1Q79.6 140.5 80.3 139.5Q81.5 139.6 82.9 138.9Q83.8 139.5 84.8 140.6Q85.3 142.9 85.1 143.2M77.0 144.9Q77.1 143.0 75.7 142.7Q74.5 142.7 73.4 141.5Q75.1 140.2 75.8 140.4Q76.6 139.9 77.5 138.5M77.7 144.3Q76.9 143.1 76.0 142.3Q76.1 140.5 76.9 139.9Q76.0 139.3 76.0 137.4Q75.7 136.0 76.4 134.9M85.1 143.4Q83.4 144.9 82.8 144.7Q81.1 143.7 80.6 143.4Q79.3 141.9 78.8 141.5Q78.4 140.5 79.6 139.0M75.5 132.6Q77.3 131.5 78.1 132.3Q79.6 132.2 80.0 134.0Q81.8 134.8 82.6 134.0Q84.7 133.3 85.2 134.2M72.8 143.4Q72.3 142.2 71.6 141.1Q71.6 139.5 72.0 138.6Q73.4 137.5 74.0 137.0Q74.9 136.9 76.6 136.8M71.5 128.7Q71.2 129.7 71.7 131.2Q72.4 133.1 73.1 133.4Q72.2 133.9 72.1 135.8Q73.8 137.3 73.9 137.7M81.7 146.1Q80.9 144.6 81.7 143.5Q81.8 142.5 83.6 141.7Q82.5 140.6 82.6 139.3Q83.5 137.6 82.7 136.7M72.3 119.9Q72.6 119.0 74.9 119.6Q73.5 120.4 72.3 119.6Q72.8 118.9 74.9 119.5Q77.0 120.6 77.2 120.7M72.3 128.7Q70.8 128.7 70.2 130.1Q71.4 132.3 71.0 132.6Q71.9 132.3 73.2 131.2Q72.7 128.9 73.7 128.6M74.2 142.7Q75.2 142.1 76.3 141.3Q76.4 140.9 76.7 138.8Q77.7 137.9 76.7 136.2Q76.4 135.9 74.5 134.8M76.2 123.9Q74.8 123.0 73.6 123.5Q73.3 123.9 71.0 123.8Q70.0 124.2 68.4 124.0Q69.3 123.7 71.0 124.6M79.2 146.8Q79.7 146.0 81.0 144.9Q80.3 144.3 79.6 142.6Q79.7 141.1 81.4 140.8Q82.5 140.7 83.1 138.8M70.0 122.0Q70.0 122.6 71.9 123.7Q72.1 124.3 72.6 126.2Q74.4 126.4 75.2 126.5Q76.8 127.3 77.7 127.1M75.4 129.3Q75.8 128.0 75.1 126.7Q74.6 126.3 75.0 124.1Q73.9 122.2 73.6 122.0Q74.9 119.9 74.9 119.7M70.7 126.9Q72.7 127.6 73.3 127.4Q75.5 127.2 75.9 127.9Q76.6 127.6 78.3 127.0Q78.8 126.5 80.7 125.9M79.5 144.7Q78.6 144.3 76.9 145.0Q75.7 144.4 74.4 144.6Q75.0 145.0 77.0 145.0Q77.6 143.0 78.5 142.9M78.0 121.0Q79.6 121.4 80.0 122.7Q79.2 123.1 79.0 125.1Q77.5 126.5 77.0 126.8Q75.6 127.8 75.2 128.6" stroke="#48d0d0" stroke-width="0.4" stroke-opacity="0.95" fill="none" stroke-linecap="round"/>
<path d="M54.5 138.4Q55.2 137.4 57.1 137.8Q58.1 137.4 59.4 136.7Q61.0 136.5 61.9 135.9Q63.8 134.7 64.3 134.9M55.7 134.2Q56.6 135.5 58.0 135.4Q59.8 137.1 60.0 137.1Q60.8 137.1 62.6 137.6Q62.6 138.6 62.8 140.2M50.0 140.3Q51.6 140.3 52.0 138.7Q53.6 139.3 54.3 140.0Q56.5 140.6 56.9 139.9Q57.0 141.0 58.9 141.5M65.0 136.2Q64.1 136.7 64.1 138.7Q64.8 138.7 65.6 140.8Q65.2 141.6 65.1 143.3Q65.4 144.7 66.4 145.6M65.6 141.1Q66.2 140.3 65.5 138.5Q65.5 137.2 67.3 136.6Q68.4 137.1 68.2 139.0Q66.9 139.2 66.2 140.7M65.2 137.1Q64.8 138.2 63.8 139.3Q63.3 140.9 61.7 140.7Q60.2 141.0 59.1 141.3Q58.8 142.2 57.1 142.9M65.2 147.5Q66.0 147.0 66.9 145.6Q68.2 146.6 69.5 146.3Q67.6 147.4 67.0 147.2Q66.7 147.7 64.5 147.8M55.3 136.0Q54.3 137.3 54.7 138.5Q53.9 138.5 52.7 140.2Q51.8 139.8 50.1 140.1Q50.5 141.8 51.0 142.5M51.5 139.1Q52.6 138.3 52.9 136.9Q54.5 136.9 54.7 138.7Q55.6 138.8 57.3 138.9Q57.8 137.1 58.6 136.7M57.0 139.7Q56.1 140.4 57.1 142.3Q55.7 143.8 54.8 143.5Q54.1 144.6 53.4 145.7Q54.7 144.3 54.1 143.2M67.4 142.4Q67.0 141.4 64.8 142.3Q64.1 141.9 62.3 141.5Q61.5 140.8 59.7 141.5Q57.9 142.3 57.2 141.6M67.2 140.5Q67.9 138.8 68.1 138.1Q67.2 139.7 65.7 139.3Q65.0 141.0 64.6 141.6Q65.5 143.6 65.2 144.1M53.2 146.0Q53.4 147.8 54.2 148.4Q54.0 147.5 54.2 145.8Q54.6 145.7 56.2 144.2Q57.5 144.1 58.3 142.6M54.3 141.7Q52.8 141.9 51.7 141.8Q53.0 142.3 54.3 141.4Q55.1 139.7 55.1 138.9Q54.0 137.3 53.1 137.2M59.8 136.8Q60.6 137.5 59.3 139.3Q59.4 141.0 59.2 141.9Q61.0 142.4 61.3 143.4Q62.3 142.9 63.5 141.9M57.6 146.0Q57.2 147.0 55.1 146.8Q54.9 148.1 55.0 149.4Q54.0 148.3 54.3 146.9Q52.4 146.4 51.8 146.3M64.0 149.1Q63.5 148.5 63.1 146.7Q62.9 146.5 64.7 144.6Q64.2 142.7 63.1 142.5Q63.1 140.5 63.3 139.9M68.5 138.1Q67.8 139.0 66.9 140.2Q65.4 140.5 64.4 140.7Q63.3 141.0 62.9 142.9Q62.6 144.6 63.1 145.5M52.8 136.5Q53.2 137.6 55.3 137.1Q56.3 139.1 56.8 139.2Q56.7 139.4 58.1 141.5Q59.3 141.5 60.7 141.2M51.1 135.6Q52.9 135.1 53.5 136.5Q53.9 136.7 55.6 138.0Q56.4 137.8 58.2 138.3Q58.9 137.7 60.3 136.7M62.2 146.0Q63.5 146.2 64.5 147.1Q65.5 147.5 66.9 146.2Q68.7 145.1 69.5 145.9Q68.6 146.6 66.9 145.8M66.8 141.8Q68.2 141.9 68.6 143.6Q68.3 144.7 69.5 146.1Q67.9 145.0 67.0 145.6Q64.9 144.7 64.5 144.9M67.0 138.8Q67.2 138.2 66.9 136.2Q65.2 136.1 64.5 137.3Q64.6 135.8 63.0 135.1Q61.5 135.7 61.6 137.3M68.9 137.7Q67.9 137.0 66.8 136.1Q68.4 136.1 68.6 138.0Q69.5 139.3 69.0 140.6Q70.7 141.2 71.1 142.2M55.4 146.8Q56.5 145.1 57.6 145.3Q57.2 143.2 56.7 142.9Q56.0 142.1 56.7 140.3Q55.8 139.4 54.2 139.7M61.1 148.0Q59.4 147.1 58.5 148.1Q57.2 149.1 56.5 149.7Q56.9 149.0 55.7 147.2Q57.2 145.1 56.7 144.8M64.9 148.1Q63.5 148.0 63.3 146.1Q63.0 144.7 61.4 144.3Q61.3 142.8 60.2 142.0Q58.2 141.7 57.9 140.9M58.7 137.3Q58.1 138.8 58.9 139.9Q59.4 140.3 61.1 141.2Q61.1 141.9 60.3 143.7Q59.9 143.7 57.8 144.4M67.4 144.4Q67.7 143.4 67.2 141.8Q68.3 140.4 69.5 140.7Q69.6 139.4 68.9 138.2Q68.9 138.6 67.0 140.0M54.0 143.5Q53.9 142.0 55.4 141.3Q55.4 140.5 56.5 138.9Q58.3 138.5 58.9 137.9Q60.7 138.7 61.4 138.6" stroke="#3a3a3a" stroke-width="0.75" stroke-opacity="0.42" fill="none" stroke-linecap="round"/>
<path d="M54.5 138.4Q55.2 137.4 57.1 137.8Q58.1 137.4 59.4 136.7Q61.0 136.5 61.9 135.9Q63.8 134.7 64.3 134.9M55.7 134.2Q56.6 135.5 58.0 135.4Q59.8 137.1 60.0 137.1Q60.8 137.1 62.6 137.6Q62.6 138.6 62.8 140.2M50.0 140.3Q51.6 140.3 52.0 138.7Q53.6 139.3 54.3 140.0Q56.5 140.6 56.9 139.9Q57.0 141.0 58.9 141.5M65.0 136.2Q64.1 136.7 64.1 138.7Q64.8 138.7 65.6 140.8Q65.2 141.6 65.1 143.3Q65.4 144.7 66.4 145.6M65.6 141.1Q66.2 140.3 65.5 138.5Q65.5 137.2 67.3 136.6Q68.4 137.1 68.2 139.0Q66.9 139.2 66.2 140.7M65.2 137.1Q64.8 138.2 63.8 139.3Q63.3 140.9 61.7 140.7Q60.2 141.0 59.1 141.3Q58.8 142.2 57.1 142.9M65.2 147.5Q66.0 147.0 66.9 145.6Q68.2 146.6 69.5 146.3Q67.6 147.4 67.0 147.2Q66.7 147.7 64.5 147.8M55.3 136.0Q54.3 137.3 54.7 138.5Q53.9 138.5 52.7 140.2Q51.8 139.8 50.1 140.1Q50.5 141.8 51.0 142.5M51.5 139.1Q52.6 138.3 52.9 136.9Q54.5 136.9 54.7 138.7Q55.6 138.8 57.3 138.9Q57.8 137.1 58.6 136.7M57.0 139.7Q56.1 140.4 57.1 142.3Q55.7 143.8 54.8 143.5Q54.1 144.6 53.4 145.7Q54.7 144.3 54.1 143.2M67.4 142.4Q67.0 141.4 64.8 142.3Q64.1 141.9 62.3 141.5Q61.5 140.8 59.7 141.5Q57.9 142.3 57.2 141.6M67.2 140.5Q67.9 138.8 68.1 138.1Q67.2 139.7 65.7 139.3Q65.0 141.0 64.6 141.6Q65.5 143.6 65.2 144.1M53.2 146.0Q53.4 147.8 54.2 148.4Q54.0 147.5 54.2 145.8Q54.6 145.7 56.2 144.2Q57.5 144.1 58.3 142.6M54.3 141.7Q52.8 141.9 51.7 141.8Q53.0 142.3 54.3 141.4Q55.1 139.7 55.1 138.9Q54.0 137.3 53.1 137.2M59.8 136.8Q60.6 137.5 59.3 139.3Q59.4 141.0 59.2 141.9Q61.0 142.4 61.3 143.4Q62.3 142.9 63.5 141.9M57.6 146.0Q57.2 147.0 55.1 146.8Q54.9 148.1 55.0 149.4Q54.0 148.3 54.3 146.9Q52.4 146.4 51.8 146.3M64.0 149.1Q63.5 148.5 63.1 146.7Q62.9 146.5 64.7 144.6Q64.2 142.7 63.1 142.5Q63.1 140.5 63.3 139.9M68.5 138.1Q67.8 139.0 66.9 140.2Q65.4 140.5 64.4 140.7Q63.3 141.0 62.9 142.9Q62.6 144.6 63.1 145.5M52.8 136.5Q53.2 137.6 55.3 137.1Q56.3 139.1 56.8 139.2Q56.7 139.4 58.1 141.5Q59.3 141.5 60.7 141.2M51.1 135.6Q52.9 135.1 53.5 136.5Q53.9 136.7 55.6 138.0Q56.4 137.8 58.2 138.3Q58.9 137.7 60.3 136.7M62.2 146.0Q63.5 146.2 64.5 147.1Q65.5 147.5 66.9 146.2Q68.7 145.1 69.5 145.9Q68.6 146.6 66.9 145.8M66.8 141.8Q68.2 141.9 68.6 143.6Q68.3 144.7 69.5 146.1Q67.9 145.0 67.0 145.6Q64.9 144.7 64.5 144.9M67.0 138.8Q67.2 138.2 66.9 136.2Q65.2 136.1 64.5 137.3Q64.6 135.8 63.0 135.1Q61.5 135.7 61.6 137.3M68.9 137.7Q67.9 137.0 66.8 136.1Q68.4 136.1 68.6 138.0Q69.5 139.3 69.0 140.6Q70.7 141.2 71.1 142.2M55.4 146.8Q56.5 145.1 57.6 145.3Q57.2 143.2 56.7 142.9Q56.0 142.1 56.7 140.3Q55.8 139.4 54.2 139.7M61.1 148.0Q59.4 147.1 58.5 148.1Q57.2 149.1 56.5 149.7Q56.9 149.0 55.7 147.2Q57.2 145.1 56.7 144.8M64.9 148.1Q63.5 148.0 63.3 146.1Q63.0 144.7 61.4 144.3Q61.3 142.8 60.2 142.0Q58.2 141.7 57.9 140.9M58.7 137.3Q58.1 138.8 58.9 139.9Q59.4 140.3 61.1 141.2Q61.1 141.9 60.3 143.7Q59.9 143.7 57.8 144.4M67.4 144.4Q67.7 143.4 67.2 141.8Q68.3 140.4 69.5 140.7Q69.6 139.4 68.9 138.2Q68.9 138.6 67.0 140.0M54.0 143.5Q53.9 142.0 55.4 141.3Q55.4 140.5 56.5 138.9Q58.3 138.5 58.9 137.9Q60.7 138.7 61.4 138.6" stroke="#c060d8" stroke-width="0.4" stroke-opacity="0.95" fill="none" stroke-linecap="round"/>
<path d="M60.2 159.8Q59.6 157.6 59.6 157.3Q58.9 155.9 59.7 154.7Q58.0 154.6 57.8 152.9Q60.0 153.7 60.3 153.6M64.7 157.9Q64.4 156.7 65.3 155.4Q64.2 153.6 64.3 153.0Q65.6 151.7 65.3 150.6Q64.0 149.1 64.0 148.4M61.1 166.1Q60.1 165.3 58.6 165.8Q59.7 164.6 61.1 165.2Q62.2 164.5 63.0 163.4Q62.3 162.2 63.3 160.8M70.5 154.5Q69.5 154.2 68.1 155.7Q67.3 156.7 66.9 158.0Q65.5 158.4 65.3 160.0Q65.9 160.3 66.9 162.1M68.9 152.7Q66.7 152.4 66.4 152.0Q65.3 151.1 65.2 149.6Q65.1 150.6 64.8 152.2Q64.9 153.4 64.3 154.8M67.2 163.4Q66.2 161.4 66.7 160.8Q65.9 159.0 64.9 158.9Q63.0 158.6 62.4 158.1Q62.0 157.9 60.2 159.5M60.9 163.3Q62.1 162.8 61.5 160.8Q61.6 159.0 62.5 158.4Q62.6 157.9 64.6 156.8Q64.1 155.8 65.0 154.3M61.4 149.2Q61.0 151.0 61.0 151.7Q59.4 152.5 59.7 154.0Q58.3 154.2 57.9 155.8Q56.5 155.4 55.8 154.4M62.3 168.3Q61.3 168.5 59.7 168.0Q58.3 166.2 58.4 165.7Q57.2 163.9 57.0 163.5Q57.4 163.4 59.6 163.5M56.6 162.4Q58.3 162.1 58.9 163.6Q61.0 163.0 61.4 164.3Q62.3 163.1 63.3 162.5Q63.5 161.9 62.4 160.1M64.7 156.5Q63.6 155.7 62.2 155.6Q61.9 153.9 61.4 153.2Q61.8 151.9 61.1 150.6Q61.9 152.0 62.6 152.8M58.0 166.2Q59.0 165.8 59.8 164.3Q59.0 163.0 59.4 161.7Q58.0 160.9 56.9 161.6Q57.5 161.4 58.7 159.7M65.1 153.7Q63.3 152.6 63.5 151.7Q63.9 151.4 63.2 149.1Q61.9 148.8 60.6 148.9Q62.5 148.7 63.2 148.7M64.0 163.6Q65.1 162.0 66.1 162.1Q66.3 161.6 67.7 160.0Q68.1 159.6 70.0 158.9Q69.6 157.9 67.8 157.4M61.0 158.9Q60.9 158.7 59.3 157.0Q59.2 156.8 60.8 154.9Q60.7 153.9 61.5 152.4Q60.8 152.0 61.4 149.8M58.0 149.7Q59.9 149.9 60.5 150.3Q61.1 150.9 63.1 150.2Q63.6 151.4 65.2 151.9Q64.6 152.6 64.6 154.4M67.3 160.8Q67.5 162.3 68.5 163.1Q67.2 163.3 65.9 162.5Q63.9 163.1 63.4 163.1Q62.4 163.5 60.9 162.3M61.1 158.5Q59.8 157.1 59.1 156.8Q58.5 156.9 56.7 156.0Q58.4 156.3 58.9 154.6Q60.2 153.9 60.3 152.4M65.2 152.8Q65.5 154.5 66.5 155.0Q66.6 156.6 65.3 157.3Q64.8 158.8 63.0 158.5Q62.8 157.3 61.0 156.9M58.0 165.8Q57.7 163.6 58.0 163.2Q57.7 163.1 55.9 161.7Q57.4 161.3 58.3 162.7Q57.8 163.4 58.2 165.3M63.0 157.8Q61.3 157.7 60.8 156.5Q59.3 157.2 58.2 156.4Q57.7 156.1 56.2 154.7Q57.1 155.3 58.5 155.9M69.0 151.6Q69.4 150.8 68.0 149.1Q66.9 150.0 66.2 150.9Q65.4 151.9 65.9 153.5Q67.0 154.7 67.6 155.5M67.2 163.4Q68.7 163.3 69.7 163.1Q68.1 162.9 67.2 163.6Q66.2 164.2 65.1 165.1Q64.3 166.7 62.8 166.4M60.2 160.5Q58.9 159.5 57.8 159.5Q57.2 158.8 58.2 156.9Q58.0 155.3 58.5 154.4Q59.4 154.2 61.0 153.8" stroke="#3a3a3a" stroke-width="0.75" stroke-opacity="0.42" fill="none" stroke-linecap="round"/>
<path d="M60.2 159.8Q59.6 157.6 59.6 157.3Q58.9 155.9 59.7 154.7Q58.0 154.6 57.8 152.9Q60.0 153.7 60.3 153.6M64.7 157.9Q64.4 156.7 65.3 155.4Q64.2 153.6 64.3 153.0Q65.6 151.7 65.3 150.6Q64.0 149.1 64.0 148.4M61.1 166.1Q60.1 165.3 58.6 165.8Q59.7 164.6 61.1 165.2Q62.2 164.5 63.0 163.4Q62.3 162.2 63.3 160.8M70.5 154.5Q69.5 154.2 68.1 155.7Q67.3 156.7 66.9 158.0Q65.5 158.4 65.3 160.0Q65.9 160.3 66.9 162.1M68.9 152.7Q66.7 152.4 66.4 152.0Q65.3 151.1 65.2 149.6Q65.1 150.6 64.8 152.2Q64.9 153.4 64.3 154.8M67.2 163.4Q66.2 161.4 66.7 160.8Q65.9 159.0 64.9 158.9Q63.0 158.6 62.4 158.1Q62.0 157.9 60.2 159.5M60.9 163.3Q62.1 162.8 61.5 160.8Q61.6 159.0 62.5 158.4Q62.6 157.9 64.6 156.8Q64.1 155.8 65.0 154.3M61.4 149.2Q61.0 151.0 61.0 151.7Q59.4 152.5 59.7 154.0Q58.3 154.2 57.9 155.8Q56.5 155.4 55.8 154.4M62.3 168.3Q61.3 168.5 59.7 168.0Q58.3 166.2 58.4 165.7Q57.2 163.9 57.0 163.5Q57.4 163.4 59.6 163.5M56.6 162.4Q58.3 162.1 58.9 163.6Q61.0 163.0 61.4 164.3Q62.3 163.1 63.3 162.5Q63.5 161.9 62.4 160.1M64.7 156.5Q63.6 155.7 62.2 155.6Q61.9 153.9 61.4 153.2Q61.8 151.9 61.1 150.6Q61.9 152.0 62.6 152.8M58.0 166.2Q59.0 165.8 59.8 164.3Q59.0 163.0 59.4 161.7Q58.0 160.9 56.9 161.6Q57.5 161.4 58.7 159.7M65.1 153.7Q63.3 152.6 63.5 151.7Q63.9 151.4 63.2 149.1Q61.9 148.8 60.6 148.9Q62.5 148.7 63.2 148.7M64.0 163.6Q65.1 162.0 66.1 162.1Q66.3 161.6 67.7 160.0Q68.1 159.6 70.0 158.9Q69.6 157.9 67.8 157.4M61.0 158.9Q60.9 158.7 59.3 157.0Q59.2 156.8 60.8 154.9Q60.7 153.9 61.5 152.4Q60.8 152.0 61.4 149.8M58.0 149.7Q59.9 149.9 60.5 150.3Q61.1 150.9 63.1 150.2Q63.6 151.4 65.2 151.9Q64.6 152.6 64.6 154.4M67.3 160.8Q67.5 162.3 68.5 163.1Q67.2 163.3 65.9 162.5Q63.9 163.1 63.4 163.1Q62.4 163.5 60.9 162.3M61.1 158.5Q59.8 157.1 59.1 156.8Q58.5 156.9 56.7 156.0Q58.4 156.3 58.9 154.6Q60.2 153.9 60.3 152.4M65.2 152.8Q65.5 154.5 66.5 155.0Q66.6 156.6 65.3 157.3Q64.8 158.8 63.0 158.5Q62.8 157.3 61.0 156.9M58.0 165.8Q57.7 163.6 58.0 163.2Q57.7 163.1 55.9 161.7Q57.4 161.3 58.3 162.7Q57.8 163.4 58.2 165.3M63.0 157.8Q61.3 157.7 60.8 156.5Q59.3 157.2 58.2 156.4Q57.7 156.1 56.2 154.7Q57.1 155.3 58.5 155.9M69.0 151.6Q69.4 150.8 68.0 149.1Q66.9 150.0 66.2 150.9Q65.4 151.9 65.9 153.5Q67.0 154.7 67.6 155.5M67.2 163.4Q68.7 163.3 69.7 163.1Q68.1 162.9 67.2 163.6Q66.2 164.2 65.1 165.1Q64.3 166.7 62.8 166.4M60.2 160.5Q58.9 159.5 57.8 159.5Q57.2 158.8 58.2 156.9Q58.0 155.3 58.5 154.4Q59.4 154.2 61.0 153.8" stroke="#28d088" stroke-width="0.4" stroke-opacity="0.95" fill="none" stroke-linecap="round"/>
<path d="M76.8 161.2Q74.9 159.8 74.6 160.2Q72.9 159.3 73.1 158.4Q74.7 158.3 75.4 159.0Q75.4 157.6 76.7 156.9M79.4 162.0Q80.7 161.4 81.8 162.6Q80.5 162.0 79.9 161.0Q78.5 160.8 77.6 161.6Q77.3 161.0 75.3 160.9M77.8 160.8Q77.0 159.9 77.1 158.5Q76.2 157.9 75.3 156.9Q75.5 155.6 73.8 155.0Q74.8 155.9 76.2 155.2M74.0 153.4Q74.1 153.0 75.6 151.6Q77.4 151.5 77.9 152.0Q78.0 153.9 79.1 154.1Q80.1 153.8 81.5 154.2M81.4 163.1Q79.9 163.0 79.1 162.4Q78.9 164.3 77.8 164.4Q77.1 165.6 76.7 166.5Q77.7 164.8 77.0 164.1M77.6 161.8Q76.2 161.2 76.3 159.8Q75.8 158.8 73.9 159.9Q73.9 158.8 72.7 157.8Q73.9 157.1 73.9 155.8M75.0 150.7Q76.4 150.6 77.2 149.7Q77.8 150.3 78.8 151.5Q79.0 153.6 78.1 153.8Q80.1 154.2 80.2 154.9M81.2 152.8Q80.9 152.2 79.8 150.9Q79.5 150.2 77.5 151.3Q76.7 150.8 75.6 149.7Q77.4 150.2 78.0 149.6M74.9 166.2Q75.4 166.5 77.0 167.3Q77.2 166.2 79.3 166.5Q79.6 165.3 79.9 164.2Q79.9 163.7 78.1 162.6M78.0 154.1Q76.8 153.4 76.0 152.6Q76.1 152.2 76.6 150.3Q78.0 150.2 78.6 151.7Q78.9 152.4 81.0 151.6M82.3 163.7Q82.9 163.4 83.4 161.5Q81.3 163.1 81.2 162.6Q80.6 160.8 79.5 160.9Q79.6 158.8 79.1 158.6M77.1 149.3Q78.4 149.9 78.6 151.2Q79.4 150.6 81.0 151.0Q79.4 151.7 78.6 150.8Q77.7 152.2 77.9 153.1M77.1 150.5Q77.5 151.2 76.6 152.9Q76.2 153.7 75.1 154.8Q75.9 155.0 76.6 156.7Q78.6 156.3 78.9 157.2M75.1 155.4Q73.8 156.0 73.2 156.8Q73.9 155.8 75.5 156.3Q77.0 155.6 77.9 156.9Q79.8 157.1 80.3 157.0M74.3 156.3Q74.0 158.1 73.2 158.4Q73.9 158.1 75.1 157.0Q75.5 156.1 75.8 154.7Q76.3 154.6 77.9 153.5M78.2 160.6Q78.4 161.6 80.1 162.1Q80.0 163.2 80.3 164.5Q80.1 166.6 79.7 166.8Q81.2 166.1 81.9 166.0M72.6 161.5Q73.4 161.1 73.6 159.3Q74.4 159.8 75.3 161.0Q76.0 162.0 77.6 161.7Q78.9 161.1 80.0 162.1M78.4 160.7Q79.1 161.2 80.7 161.5Q82.4 160.4 82.3 159.7Q80.2 159.8 80.0 158.9Q79.7 157.4 79.7 156.5" stroke="#3a3a3a" stroke-width="0.75" stroke-opacity="0.42" fill="none" stroke-linecap="round"/>
<path d="M76.8 161.2Q74.9 159.8 74.6 160.2Q72.9 159.3 73.1 158.4Q74.7 158.3 75.4 159.0Q75.4 157.6 76.7 156.9M79.4 162.0Q80.7 161.4 81.8 162.6Q80.5 162.0 79.9 161.0Q78.5 160.8 77.6 161.6Q77.3 161.0 75.3 160.9M77.8 160.8Q77.0 159.9 77.1 158.5Q76.2 157.9 75.3 156.9Q75.5 155.6 73.8 155.0Q74.8 155.9 76.2 155.2M74.0 153.4Q74.1 153.0 75.6 151.6Q77.4 151.5 77.9 152.0Q78.0 153.9 79.1 154.1Q80.1 153.8 81.5 154.2M81.4 163.1Q79.9 163.0 79.1 162.4Q78.9 164.3 77.8 164.4Q77.1 165.6 76.7 166.5Q77.7 164.8 77.0 164.1M77.6 161.8Q76.2 161.2 76.3 159.8Q75.8 158.8 73.9 159.9Q73.9 158.8 72.7 157.8Q73.9 157.1 73.9 155.8M75.0 150.7Q76.4 150.6 77.2 149.7Q77.8 150.3 78.8 151.5Q79.0 153.6 78.1 153.8Q80.1 154.2 80.2 154.9M81.2 152.8Q80.9 152.2 79.8 150.9Q79.5 150.2 77.5 151.3Q76.7 150.8 75.6 149.7Q77.4 150.2 78.0 149.6M74.9 166.2Q75.4 166.5 77.0 167.3Q77.2 166.2 79.3 166.5Q79.6 165.3 79.9 164.2Q79.9 163.7 78.1 162.6M78.0 154.1Q76.8 153.4 76.0 152.6Q76.1 152.2 76.6 150.3Q78.0 150.2 78.6 151.7Q78.9 152.4 81.0 151.6M82.3 163.7Q82.9 163.4 83.4 161.5Q81.3 163.1 81.2 162.6Q80.6 160.8 79.5 160.9Q79.6 158.8 79.1 158.6M77.1 149.3Q78.4 149.9 78.6 151.2Q79.4 150.6 81.0 151.0Q79.4 151.7 78.6 150.8Q77.7 152.2 77.9 153.1M77.1 150.5Q77.5 151.2 76.6 152.9Q76.2 153.7 75.1 154.8Q75.9 155.0 76.6 156.7Q78.6 156.3 78.9 157.2M75.1 155.4Q73.8 156.0 73.2 156.8Q73.9 155.8 75.5 156.3Q77.0 155.6 77.9 156.9Q79.8 157.1 80.3 157.0M74.3 156.3Q74.0 158.1 73.2 158.4Q73.9 158.1 75.1 157.0Q75.5 156.1 75.8 154.7Q76.3 154.6 77.9 153.5M78.2 160.6Q78.4 161.6 80.1 162.1Q80.0 163.2 80.3 164.5Q80.1 166.6 79.7 166.8Q81.2 166.1 81.9 166.0M72.6 161.5Q73.4 161.1 73.6 159.3Q74.4 159.8 75.3 161.0Q76.0 162.0 77.6 161.7Q78.9 161.1 80.0 162.1M78.4 160.7Q79.1 161.2 80.7 161.5Q82.4 160.4 82.3 159.7Q80.2 159.8 80.0 158.9Q79.7 157.4 79.7 156.5" stroke="#d8aab8" stroke-width="0.4" stroke-opacity="0.95" fill="none" stroke-linecap="round"/>
</g>
<text x="41.30" y="179.90" font-size="6.1" font-weight="normal" fill="#000" stroke="#000" stroke-width="0.15" stroke-opacity="0.55" textLength="47.35" lengthAdjust="spacingAndGlyphs">Multiple Sequence</text>
<text x="53.20" y="186.60" font-size="6.1" font-weight="normal" fill="#000" stroke="#000" stroke-width="0.15" stroke-opacity="0.55" textLength="23.55" lengthAdjust="spacingAndGlyphs">Aligment</text>
<rect x="40.30" y="189.30" width="4.75" height="3.54" fill="#f3d88a" stroke="#8a7a60" stroke-width="0.35"/>
<rect x="42.20" y="190.30" width="0.9" height="1.6" fill="#333" opacity="0.75"/>
<rect x="45.05" y="189.30" width="4.75" height="3.54" fill="#86a8e8" stroke="#8a7a60" stroke-width="0.35"/>
<rect x="46.95" y="190.30" width="0.9" height="1.6" fill="#333" opacity="0.75"/>
<rect x="49.80" y="189.30" width="4.75" height="3.54" fill="#c4e2c4" stroke="#8a7a60" stroke-width="0.35"/>
<rect x="51.70" y="190.30" width="0.9" height="1.6" fill="#333" opacity="0.75"/>
<rect x="54.55" y="189.30" width="4.75" height="3.54" fill="#f2c4cc" stroke="#8a7a60" stroke-width="0.35"/>
<rect x="56.45" y="190.30" width="0.9" height="1.6" fill="#333" opacity="0.75"/>
<rect x="59.30" y="189.30" width="4.75" height="3.54" fill="#f2c4cc" stroke="#8a7a60" stroke-width="0.35"/>
<rect x="61.20" y="190.30" width="0.9" height="1.6" fill="#333" opacity="0.75"/>
<rect x="64.05" y="189.30" width="4.75" height="3.54" fill="#f3d88a" stroke="#8a7a60" stroke-width="0.35"/>
<rect x="65.95" y="190.30" width="0.9" height="1.6" fill="#333" opacity="0.75"/>
<rect x="68.80" y="189.30" width="4.75" height="3.54" fill="#c4e2c4" stroke="#8a7a60" stroke-width="0.35"/>
<rect x="70.70" y="190.30" width="0.9" height="1.6" fill="#333" opacity="0.75"/>
<rect x="73.55" y="189.30" width="4.75" height="3.54" fill="#f2c4cc" stroke="#8a7a60" stroke-width="0.35"/>
<rect x="75.45" y="190.30" width="0.9" height="1.6" fill="#333" opacity="0.75"/>
<rect x="78.30" y="189.30" width="4.75" height="3.54" fill="#f3d88a" stroke="#8a7a60" stroke-width="0.35"/>
<rect x="80.20" y="190.30" width="0.9" height="1.6" fill="#333" opacity="0.75"/>
<rect x="83.05" y="189.30" width="4.75" height="3.54" fill="#f3d88a" stroke="#8a7a60" stroke-width="0.35"/>
<rect x="84.95" y="190.30" width="0.9" height="1.6" fill="#333" opacity="0.75"/>
<rect x="40.30" y="192.84" width="4.75" height="3.54" fill="#f3d88a" stroke="#8a7a60" stroke-width="0.35"/>
<rect x="42.20" y="193.84" width="0.9" height="1.6" fill="#333" opacity="0.75"/>
<rect x="45.05" y="192.84" width="4.75" height="3.54" fill="#86a8e8" stroke="#8a7a60" stroke-width="0.35"/>
<rect x="46.95" y="193.84" width="0.9" height="1.6" fill="#333" opacity="0.75"/>
<rect x="49.80" y="192.84" width="4.75" height="3.54" fill="#f2c4cc" stroke="#8a7a60" stroke-width="0.35"/>
<rect x="51.70" y="193.84" width="0.9" height="1.6" fill="#333" opacity="0.75"/>
<rect x="54.55" y="192.84" width="4.75" height="3.54" fill="#f2c4cc" stroke="#8a7a60" stroke-width="0.35"/>
<rect x="56.45" y="193.84" width="0.9" height="1.6" fill="#333" opacity="0.75"/>
<rect x="59.30" y="192.84" width="4.75" height="3.54" fill="#f2c4cc" stroke="#8a7a60" stroke-width="0.35"/>
<rect x="61.20" y="193.84" width="0.9" height="1.6" fill="#333" opacity="0.75"/>
<rect x="64.05" y="192.84" width="4.75" height="3.54" fill="#f3d88a" stroke="#8a7a60" stroke-width="0.35"/>
<rect x="65.95" y="193.84" width="0.9" height="1.6" fill="#333" opacity="0.75"/>
<rect x="68.80" y="192.84" width="4.75" height="3.54" fill="#f2c4cc" stroke="#8a7a60" stroke-width="0.35"/>
<rect x="70.70" y="193.84" width="0.9" height="1.6" fill="#333" opacity="0.75"/>
<rect x="73.55" y="192.84" width="4.75" height="3.54" fill="#f2c4cc" stroke="#8a7a60" stroke-width="0.35"/>
<rect x="75.45" y="193.84" width="0.9" height="1.6" fill="#333" opacity="0.75"/>
<rect x="78.30" y="192.84" width="4.75" height="3.54" fill="#f3d88a" stroke="#8a7a60" stroke-width="0.35"/>
<rect x="80.20" y="193.84" width="0.9" height="1.6" fill="#333" opacity="0.75"/>
<rect x="83.05" y="192.84" width="4.75" height="3.54" fill="#f3d88a" stroke="#8a7a60" stroke-width="0.35"/>
<rect x="84.95" y="193.84" width="0.9" height="1.6" fill="#333" opacity="0.75"/>
<rect x="40.30" y="196.38" width="4.75" height="3.54" fill="#f3d88a" stroke="#8a7a60" stroke-width="0.35"/>
<rect x="42.20" y="197.38" width="0.9" height="1.6" fill="#333" opacity="0.75"/>
<rect x="45.05" y="196.38" width="4.75" height="3.54" fill="#86a8e8" stroke="#8a7a60" stroke-width="0.35"/>
<rect x="46.95" y="197.38" width="0.9" height="1.6" fill="#333" opacity="0.75"/>
<rect x="49.80" y="196.38" width="4.75" height="3.54" fill="#f2c4cc" stroke="#8a7a60" stroke-width="0.35"/>
<rect x="51.70" y="197.38" width="0.9" height="1.6" fill="#333" opacity="0.75"/>
<rect x="54.55" y="196.38" width="4.75" height="3.54" fill="#c4e2c4" stroke="#8a7a60" stroke-width="0.35"/>
<rect x="56.45" y="197.38" width="0.9" height="1.6" fill="#333" opacity="0.75"/>
<rect x="59.30" y="196.38" width="4.75" height="3.54" fill="#f2c4cc" stroke="#8a7a60" stroke-width="0.35"/>
<rect x="61.20" y="197.38" width="0.9" height="1.6" fill="#333" opacity="0.75"/>
<rect x="64.05" y="196.38" width="4.75" height="3.54" fill="#f3d88a" stroke="#8a7a60" stroke-width="0.35"/>
<rect x="65.95" y="197.38" width="0.9" height="1.6" fill="#333" opacity="0.75"/>
<rect x="68.80" y="196.38" width="4.75" height="3.54" fill="#f2c4cc" stroke="#8a7a60" stroke-width="0.35"/>
<rect x="70.70" y="197.38" width="0.9" height="1.6" fill="#333" opacity="0.75"/>
<rect x="73.55" y="196.38" width="4.75" height="3.54" fill="#f2c4cc" stroke="#8a7a60" stroke-width="0.35"/>
<rect x="75.45" y="197.38" width="0.9" height="1.6" fill="#333" opacity="0.75"/>
<rect x="78.30" y="196.38" width="4.75" height="3.54" fill="#f3d88a" stroke="#8a7a60" stroke-width="0.35"/>
<rect x="80.20" y="197.38" width="0.9" height="1.6" fill="#333" opacity="0.75"/>
<rect x="83.05" y="196.38" width="4.75" height="3.54" fill="#f3d88a" stroke="#8a7a60" stroke-width="0.35"/>
<rect x="84.95" y="197.38" width="0.9" height="1.6" fill="#333" opacity="0.75"/>
<rect x="40.30" y="199.92" width="4.75" height="3.54" fill="#f3d88a" stroke="#8a7a60" stroke-width="0.35"/>
<rect x="42.20" y="200.92" width="0.9" height="1.6" fill="#333" opacity="0.75"/>
<rect x="45.05" y="199.92" width="4.75" height="3.54" fill="#86a8e8" stroke="#8a7a60" stroke-width="0.35"/>
<rect x="46.95" y="200.92" width="0.9" height="1.6" fill="#333" opacity="0.75"/>
<rect x="49.80" y="199.92" width="4.75" height="3.54" fill="#f2c4cc" stroke="#8a7a60" stroke-width="0.35"/>
<rect x="51.70" y="200.92" width="0.9" height="1.6" fill="#333" opacity="0.75"/>
<rect x="54.55" y="199.92" width="4.75" height="3.54" fill="#f2c4cc" stroke="#8a7a60" stroke-width="0.35"/>
<rect x="56.45" y="200.92" width="0.9" height="1.6" fill="#333" opacity="0.75"/>
<rect x="59.30" y="199.92" width="4.75" height="3.54" fill="#f2c4cc" stroke="#8a7a60" stroke-width="0.35"/>
<rect x="61.20" y="200.92" width="0.9" height="1.6" fill="#333" opacity="0.75"/>
<rect x="64.05" y="199.92" width="4.75" height="3.54" fill="#f3d88a" stroke="#8a7a60" stroke-width="0.35"/>
<rect x="65.95" y="200.92" width="0.9" height="1.6" fill="#333" opacity="0.75"/>
<rect x="68.80" y="199.92" width="4.75" height="3.54" fill="#f2c4cc" stroke="#8a7a60" stroke-width="0.35"/>
<rect x="70.70" y="200.92" width="0.9" height="1.6" fill="#333" opacity="0.75"/>
<rect x="73.55" y="199.92" width="4.75" height="3.54" fill="#f2c4cc" stroke="#8a7a60" stroke-width="0.35"/>
<rect x="75.45" y="200.92" width="0.9" height="1.6" fill="#333" opacity="0.75"/>
<rect x="78.30" y="199.92" width="4.75" height="3.54" fill="#f3d88a" stroke="#8a7a60" stroke-width="0.35"/>
<rect x="80.20" y="200.92" width="0.9" height="1.6" fill="#333" opacity="0.75"/>
<rect x="83.05" y="199.92" width="4.75" height="3.54" fill="#f3d88a" stroke="#8a7a60" stroke-width="0.35"/>
<rect x="84.95" y="200.92" width="0.9" height="1.6" fill="#333" opacity="0.75"/>
<rect x="40.30" y="203.46" width="4.75" height="3.54" fill="#f3d88a" stroke="#8a7a60" stroke-width="0.35"/>
<rect x="42.20" y="204.46" width="0.9" height="1.6" fill="#333" opacity="0.75"/>
<rect x="45.05" y="203.46" width="4.75" height="3.54" fill="#86a8e8" stroke="#8a7a60" stroke-width="0.35"/>
<rect x="46.95" y="204.46" width="0.9" height="1.6" fill="#333" opacity="0.75"/>
<rect x="49.80" y="203.46" width="4.75" height="3.54" fill="#f2c4cc" stroke="#8a7a60" stroke-width="0.35"/>
<rect x="51.70" y="204.46" width="0.9" height="1.6" fill="#333" opacity="0.75"/>
<rect x="54.55" y="203.46" width="4.75" height="3.54" fill="#c4e2c4" stroke="#8a7a60" stroke-width="0.35"/>
<rect x="56.45" y="204.46" width="0.9" height="1.6" fill="#333" opacity="0.75"/>
<rect x="59.30" y="203.46" width="4.75" height="3.54" fill="#f2c4cc" stroke="#8a7a60" stroke-width="0.35"/>
<rect x="61.20" y="204.46" width="0.9" height="1.6" fill="#333" opacity="0.75"/>
<rect x="64.05" y="203.46" width="4.75" height="3.54" fill="#f3d88a" stroke="#8a7a60" stroke-width="0.35"/>
<rect x="65.95" y="204.46" width="0.9" height="1.6" fill="#333" opacity="0.75"/>
<rect x="68.80" y="203.46" width="4.75" height="3.54" fill="#c4e2c4" stroke="#8a7a60" stroke-width="0.35"/>
<rect x="70.70" y="204.46" width="0.9" height="1.6" fill="#333" opacity="0.75"/>
<rect x="73.55" y="203.46" width="4.75" height="3.54" fill="#f2c4cc" stroke="#8a7a60" stroke-width="0.35"/>
<rect x="75.45" y="204.46" width="0.9" height="1.6" fill="#333" opacity="0.75"/>
<rect x="78.30" y="203.46" width="4.75" height="3.54" fill="#f3d88a" stroke="#8a7a60" stroke-width="0.35"/>
<rect x="80.20" y="204.46" width="0.9" height="1.6" fill="#333" opacity="0.75"/>
<rect x="83.05" y="203.46" width="4.75" height="3.54" fill="#f3d88a" stroke="#8a7a60" stroke-width="0.35"/>
<rect x="84.95" y="204.46" width="0.9" height="1.6" fill="#333" opacity="0.75"/>
<rect x="40.30" y="207.00" width="4.75" height="3.54" fill="#f3d88a" stroke="#8a7a60" stroke-width="0.35"/>
<rect x="42.20" y="208.00" width="0.9" height="1.6" fill="#333" opacity="0.75"/>
<rect x="45.05" y="207.00" width="4.75" height="3.54" fill="#86a8e8" stroke="#8a7a60" stroke-width="0.35"/>
<rect x="46.95" y="208.00" width="0.9" height="1.6" fill="#333" opacity="0.75"/>
<rect x="49.80" y="207.00" width="4.75" height="3.54" fill="#f3d88a" stroke="#8a7a60" stroke-width="0.35"/>
<rect x="51.70" y="208.00" width="0.9" height="1.6" fill="#333" opacity="0.75"/>
<rect x="54.55" y="207.00" width="4.75" height="3.54" fill="#f2c4cc" stroke="#8a7a60" stroke-width="0.35"/>
<rect x="56.45" y="208.00" width="0.9" height="1.6" fill="#333" opacity="0.75"/>
<rect x="59.30" y="207.00" width="4.75" height="3.54" fill="#f2c4cc" stroke="#8a7a60" stroke-width="0.35"/>
<rect x="61.20" y="208.00" width="0.9" height="1.6" fill="#333" opacity="0.75"/>
<rect x="64.05" y="207.00" width="4.75" height="3.54" fill="#f3d88a" stroke="#8a7a60" stroke-width="0.35"/>
<rect x="65.95" y="208.00" width="0.9" height="1.6" fill="#333" opacity="0.75"/>
<rect x="68.80" y="207.00" width="4.75" height="3.54" fill="#f2c4cc" stroke="#8a7a60" stroke-width="0.35"/>
<rect x="70.70" y="208.00" width="0.9" height="1.6" fill="#333" opacity="0.75"/>
<rect x="73.55" y="207.00" width="4.75" height="3.54" fill="#f2c4cc" stroke="#8a7a60" stroke-width="0.35"/>
<rect x="75.45" y="208.00" width="0.9" height="1.6" fill="#333" opacity="0.75"/>
<rect x="78.30" y="207.00" width="4.75" height="3.54" fill="#f3d88a" stroke="#8a7a60" stroke-width="0.35"/>
<rect x="80.20" y="208.00" width="0.9" height="1.6" fill="#333" opacity="0.75"/>
<rect x="83.05" y="207.00" width="4.75" height="3.54" fill="#f3d88a" stroke="#8a7a60" stroke-width="0.35"/>
<rect x="84.95" y="208.00" width="0.9" height="1.6" fill="#333" opacity="0.75"/>
<rect x="40.30" y="210.54" width="4.75" height="3.54" fill="#f3d88a" stroke="#8a7a60" stroke-width="0.35"/>
<rect x="42.20" y="211.54" width="0.9" height="1.6" fill="#333" opacity="0.75"/>
<rect x="45.05" y="210.54" width="4.75" height="3.54" fill="#86a8e8" stroke="#8a7a60" stroke-width="0.35"/>
<rect x="46.95" y="211.54" width="0.9" height="1.6" fill="#333" opacity="0.75"/>
<rect x="49.80" y="210.54" width="4.75" height="3.54" fill="#f3d88a" stroke="#8a7a60" stroke-width="0.35"/>
<rect x="51.70" y="211.54" width="0.9" height="1.6" fill="#333" opacity="0.75"/>
<rect x="54.55" y="210.54" width="4.75" height="3.54" fill="#f2c4cc" stroke="#8a7a60" stroke-width="0.35"/>
<rect x="56.45" y="211.54" width="0.9" height="1.6" fill="#333" opacity="0.75"/>
<rect x="59.30" y="210.54" width="4.75" height="3.54" fill="#f2c4cc" stroke="#8a7a60" stroke-width="0.35"/>
<rect x="61.20" y="211.54" width="0.9" height="1.6" fill="#333" opacity="0.75"/>
<rect x="64.05" y="210.54" width="4.75" height="3.54" fill="#86a8e8" stroke="#8a7a60" stroke-width="0.35"/>
<rect x="65.95" y="211.54" width="0.9" height="1.6" fill="#333" opacity="0.75"/>
<rect x="68.80" y="210.54" width="4.75" height="3.54" fill="#c4e2c4" stroke="#8a7a60" stroke-width="0.35"/>
<rect x="70.70" y="211.54" width="0.9" height="1.6" fill="#333" opacity="0.75"/>
<rect x="73.55" y="210.54" width="4.75" height="3.54" fill="#f2c4cc" stroke="#8a7a60" stroke-width="0.35"/>
<rect x="75.45" y="211.54" width="0.9" height="1.6" fill="#333" opacity="0.75"/>
<rect x="78.30" y="210.54" width="4.75" height="3.54" fill="#f3d88a" stroke="#8a7a60" stroke-width="0.35"/>
<rect x="80.20" y="211.54" width="0.9" height="1.6" fill="#333" opacity="0.75"/>
<rect x="83.05" y="210.54" width="4.75" height="3.54" fill="#f3d88a" stroke="#8a7a60" stroke-width="0.35"/>
<rect x="84.95" y="211.54" width="0.9" height="1.6" fill="#333" opacity="0.75"/>
<rect x="40.30" y="214.08" width="4.75" height="3.54" fill="#f3d88a" stroke="#8a7a60" stroke-width="0.35"/>
<rect x="42.20" y="215.08" width="0.9" height="1.6" fill="#333" opacity="0.75"/>
<rect x="45.05" y="214.08" width="4.75" height="3.54" fill="#86a8e8" stroke="#8a7a60" stroke-width="0.35"/>
<rect x="46.95" y="215.08" width="0.9" height="1.6" fill="#333" opacity="0.75"/>
<rect x="49.80" y="214.08" width="4.75" height="3.54" fill="#f3d88a" stroke="#8a7a60" stroke-width="0.35"/>
<rect x="51.70" y="215.08" width="0.9" height="1.6" fill="#333" opacity="0.75"/>
<rect x="54.55" y="214.08" width="4.75" height="3.54" fill="#f2c4cc" stroke="#8a7a60" stroke-width="0.35"/>
<rect x="56.45" y="215.08" width="0.9" height="1.6" fill="#333" opacity="0.75"/>
<rect x="59.30" y="214.08" width="4.75" height="3.54" fill="#f2c4cc" stroke="#8a7a60" stroke-width="0.35"/>
<rect x="61.20" y="215.08" width="0.9" height="1.6" fill="#333" opacity="0.75"/>
<rect x="64.05" y="214.08" width="4.75" height="3.54" fill="#f3d88a" stroke="#8a7a60" stroke-width="0.35"/>
<rect x="65.95" y="215.08" width="0.9" height="1.6" fill="#333" opacity="0.75"/>
<rect x="68.80" y="214.08" width="4.75" height="3.54" fill="#f2c4cc" stroke="#8a7a60" stroke-width="0.35"/>
<rect x="70.70" y="215.08" width="0.9" height="1.6" fill="#333" opacity="0.75"/>
<rect x="73.55" y="214.08" width="4.75" height="3.54" fill="#f2c4cc" stroke="#8a7a60" stroke-width="0.35"/>
<rect x="75.45" y="215.08" width="0.9" height="1.6" fill="#333" opacity="0.75"/>
<rect x="78.30" y="214.08" width="4.75" height="3.54" fill="#f3d88a" stroke="#8a7a60" stroke-width="0.35"/>
<rect x="80.20" y="215.08" width="0.9" height="1.6" fill="#333" opacity="0.75"/>
<rect x="83.05" y="214.08" width="4.75" height="3.54" fill="#f3d88a" stroke="#8a7a60" stroke-width="0.35"/>
<rect x="84.95" y="215.08" width="0.9" height="1.6" fill="#333" opacity="0.75"/>
<line x1="87.80" y1="53.60" x2="127.50" y2="53.60" stroke="#222" stroke-width="0.9" />
<polygon points="130.40,53.60 126.20,51.70 127.25,53.60 126.20,55.50" fill="#111"/>
<text x="95.9" y="62.3" font-size="5.3" fill="#000" stroke="#000" stroke-width="0.15" stroke-opacity="0.55" textLength="21.1" lengthAdjust="spacingAndGlyphs"><tspan font-weight="bold">Netwo</tspan>rk</text>
<text x="87.5" y="69.1" font-size="5.5" fill="#000" stroke="#000" stroke-width="0.15" stroke-opacity="0.55" textLength="38.6" lengthAdjust="spacingAndGlyphs"><tspan font-weight="bold">Characteri</tspan>stics</text>
<line x1="92.20" y1="138.70" x2="132.50" y2="138.70" stroke="#222" stroke-width="0.9" />
<polygon points="135.40,138.70 131.20,136.80 132.25,138.70 131.20,140.60" fill="#111"/>
<text x="99.70" y="147.90" font-size="5.5" font-weight="bold" fill="#000" stroke="#000" stroke-width="0.15" stroke-opacity="0.55" textLength="26.05" lengthAdjust="spacingAndGlyphs">Structural</text>
<text x="93.80" y="154.40" font-size="5.5" font-weight="bold" fill="#000" stroke="#000" stroke-width="0.15" stroke-opacity="0.55" textLength="38.35" lengthAdjust="spacingAndGlyphs">Characteristics</text>
<line x1="97.20" y1="201.10" x2="153.30" y2="201.10" stroke="#222" stroke-width="0.9" />
<polygon points="156.20,201.10 152.00,199.20 153.05,201.10 152.00,203.00" fill="#111"/>
<text x="113.50" y="208.70" font-size="5.7" font-weight="normal" fill="#000" stroke="#000" stroke-width="0.15" stroke-opacity="0.55" textLength="25.55" lengthAdjust="spacingAndGlyphs">Sequence</text>
<text x="106.80" y="215.40" font-size="5.7" font-weight="normal" fill="#000" stroke="#000" stroke-width="0.15" stroke-opacity="0.55" textLength="38.35" lengthAdjust="spacingAndGlyphs">Characteristics</text>
<rect x="142.00" y="38.00" width="8.8" height="5.8" rx="2.90" fill="#b85a6e" stroke="#1c1c1c" stroke-width="0.85"/>
<rect x="153.30" y="38.00" width="8.8" height="5.8" rx="2.90" fill="#b85a6e" stroke="#1c1c1c" stroke-width="0.85"/>
<rect x="164.90" y="38.00" width="8.8" height="5.8" rx="2.90" fill="#e8608a" stroke="#1c1c1c" stroke-width="0.85"/>
<rect x="189.20" y="38.00" width="8.8" height="5.8" rx="2.90" fill="#d81f5e" stroke="#1c1c1c" stroke-width="0.85"/>
<rect x="142.00" y="46.65" width="8.8" height="5.8" rx="2.90" fill="#e0306a" stroke="#1c1c1c" stroke-width="0.85"/>
<rect x="153.30" y="46.65" width="8.8" height="5.8" rx="2.90" fill="#d81f5e" stroke="#1c1c1c" stroke-width="0.85"/>
<rect x="164.90" y="46.65" width="8.8" height="5.8" rx="2.90" fill="#a0164a" stroke="#1c1c1c" stroke-width="0.85"/>
<rect x="189.20" y="46.65" width="8.8" height="5.8" rx="2.90" fill="#e04070" stroke="#1c1c1c" stroke-width="0.85"/>
<rect x="142.00" y="55.30" width="8.8" height="5.8" rx="2.90" fill="#a0164a" stroke="#1c1c1c" stroke-width="0.85"/>
<rect x="153.30" y="55.30" width="8.8" height="5.8" rx="2.90" fill="#a0164a" stroke="#1c1c1c" stroke-width="0.85"/>
<rect x="164.90" y="55.30" width="8.8" height="5.8" rx="2.90" fill="#e04070" stroke="#1c1c1c" stroke-width="0.85"/>
<rect x="189.20" y="55.30" width="8.8" height="5.8" rx="2.90" fill="#a0164a" stroke="#1c1c1c" stroke-width="0.85"/>
<rect x="142.00" y="63.95" width="8.8" height="5.8" rx="2.90" fill="#d81f5e" stroke="#1c1c1c" stroke-width="0.85"/>
<rect x="153.30" y="63.95" width="8.8" height="5.8" rx="2.90" fill="#e8608a" stroke="#1c1c1c" stroke-width="0.85"/>
<rect x="164.90" y="63.95" width="8.8" height="5.8" rx="2.90" fill="#d81f5e" stroke="#1c1c1c" stroke-width="0.85"/>
<rect x="189.20" y="63.95" width="8.8" height="5.8" rx="2.90" fill="#b85a6e" stroke="#1c1c1c" stroke-width="0.85"/>
<rect x="142.00" y="72.60" width="8.8" height="5.8" rx="2.90" fill="#95154a" stroke="#1c1c1c" stroke-width="0.85"/>
<rect x="153.30" y="72.60" width="8.8" height="5.8" rx="2.90" fill="#95154a" stroke="#1c1c1c" stroke-width="0.85"/>
<rect x="164.90" y="72.60" width="8.8" height="5.8" rx="2.90" fill="#95154a" stroke="#1c1c1c" stroke-width="0.85"/>
<rect x="189.20" y="72.60" width="8.8" height="5.8" rx="2.90" fill="#e8608a" stroke="#1c1c1c" stroke-width="0.85"/>
<rect x="142.00" y="81.25" width="8.8" height="5.8" rx="2.90" fill="#e8608a" stroke="#1c1c1c" stroke-width="0.85"/>
<rect x="153.30" y="81.25" width="8.8" height="5.8" rx="2.90" fill="#e0306a" stroke="#1c1c1c" stroke-width="0.85"/>
<rect x="164.90" y="81.25" width="8.8" height="5.8" rx="2.90" fill="#b85a6e" stroke="#1c1c1c" stroke-width="0.85"/>
<rect x="189.20" y="81.25" width="8.8" height="5.8" rx="2.90" fill="#a0164a" stroke="#1c1c1c" stroke-width="0.85"/>
<circle cx="178.60" cy="62.3" r="0.75" fill="#111"/>
<circle cx="181.20" cy="62.3" r="0.75" fill="#111"/>
<circle cx="183.80" cy="62.3" r="0.75" fill="#111"/>
<text transform="translate(145.70,37.70) rotate(-43)" font-size="5.6" fill="#000" stroke="#000" stroke-width="0.18" stroke-opacity="0.6" textLength="18.70" lengthAdjust="spacingAndGlyphs">Degree</text>
<text transform="translate(157.00,37.70) rotate(-43)" font-size="5.6" fill="#000" stroke="#000" stroke-width="0.18" stroke-opacity="0.6" textLength="25.60" lengthAdjust="spacingAndGlyphs">Closeness</text>
<text transform="translate(168.60,37.70) rotate(-43)" font-size="5.6" fill="#000" stroke="#000" stroke-width="0.18" stroke-opacity="0.6" textLength="34.30" lengthAdjust="spacingAndGlyphs">Betweenness</text>
<text transform="translate(192.90,37.70) rotate(-43)" font-size="5.6" fill="#000" stroke="#000" stroke-width="0.18" stroke-opacity="0.6" textLength="38.20" lengthAdjust="spacingAndGlyphs">Authority Score</text>
<rect x="141.40" y="113.40" width="8.8" height="5.8" rx="2.90" fill="#4a9a4a" stroke="#1c1c1c" stroke-width="0.85"/>
<rect x="153.30" y="113.40" width="8.8" height="5.8" rx="2.90" fill="#1a5a1a" stroke="#1c1c1c" stroke-width="0.85"/>
<rect x="165.10" y="113.40" width="8.8" height="5.8" rx="2.90" fill="#33bb33" stroke="#1c1c1c" stroke-width="0.85"/>
<rect x="189.20" y="113.40" width="8.8" height="5.8" rx="2.90" fill="#1a5a1a" stroke="#1c1c1c" stroke-width="0.85"/>
<rect x="141.40" y="122.05" width="8.8" height="5.8" rx="2.90" fill="#1a5a1a" stroke="#1c1c1c" stroke-width="0.85"/>
<rect x="153.30" y="122.05" width="8.8" height="5.8" rx="2.90" fill="#b0e8b0" stroke="#1c1c1c" stroke-width="0.85"/>
<rect x="165.10" y="122.05" width="8.8" height="5.8" rx="2.90" fill="#77dd77" stroke="#1c1c1c" stroke-width="0.85"/>
<rect x="189.20" y="122.05" width="8.8" height="5.8" rx="2.90" fill="#b0e8b0" stroke="#1c1c1c" stroke-width="0.85"/>
<rect x="141.40" y="130.70" width="8.8" height="5.8" rx="2.90" fill="#33bb33" stroke="#1c1c1c" stroke-width="0.85"/>
<rect x="153.30" y="130.70" width="8.8" height="5.8" rx="2.90" fill="#228b22" stroke="#1c1c1c" stroke-width="0.85"/>
<rect x="165.10" y="130.70" width="8.8" height="5.8" rx="2.90" fill="#5aa05a" stroke="#1c1c1c" stroke-width="0.85"/>
<rect x="189.20" y="130.70" width="8.8" height="5.8" rx="2.90" fill="#228b22" stroke="#1c1c1c" stroke-width="0.85"/>
<rect x="141.40" y="139.35" width="8.8" height="5.8" rx="2.90" fill="#228b22" stroke="#1c1c1c" stroke-width="0.85"/>
<rect x="153.30" y="139.35" width="8.8" height="5.8" rx="2.90" fill="#77dd77" stroke="#1c1c1c" stroke-width="0.85"/>
<rect x="165.10" y="139.35" width="8.8" height="5.8" rx="2.90" fill="#228b22" stroke="#1c1c1c" stroke-width="0.85"/>
<rect x="189.20" y="139.35" width="8.8" height="5.8" rx="2.90" fill="#77dd77" stroke="#1c1c1c" stroke-width="0.85"/>
<rect x="141.40" y="148.00" width="8.8" height="5.8" rx="2.90" fill="#77dd77" stroke="#1c1c1c" stroke-width="0.85"/>
<rect x="153.30" y="148.00" width="8.8" height="5.8" rx="2.90" fill="#5aa05a" stroke="#1c1c1c" stroke-width="0.85"/>
<rect x="165.10" y="148.00" width="8.8" height="5.8" rx="2.90" fill="#1a5a1a" stroke="#1c1c1c" stroke-width="0.85"/>
<rect x="189.20" y="148.00" width="8.8" height="5.8" rx="2.90" fill="#5aa05a" stroke="#1c1c1c" stroke-width="0.85"/>
<rect x="141.40" y="156.65" width="8.8" height="5.8" rx="2.90" fill="#b0e8b0" stroke="#1c1c1c" stroke-width="0.85"/>
<rect x="153.30" y="156.65" width="8.8" height="5.8" rx="2.90" fill="#33bb33" stroke="#1c1c1c" stroke-width="0.85"/>
<rect x="165.10" y="156.65" width="8.8" height="5.8" rx="2.90" fill="#b0e8b0" stroke="#1c1c1c" stroke-width="0.85"/>
<rect x="189.20" y="156.65" width="8.8" height="5.8" rx="2.90" fill="#33bb33" stroke="#1c1c1c" stroke-width="0.85"/>
<circle cx="178.80" cy="139.4" r="0.75" fill="#111"/>
<circle cx="181.40" cy="139.4" r="0.75" fill="#111"/>
<circle cx="184.00" cy="139.4" r="0.75" fill="#111"/>
<text transform="translate(146.50,112.70) rotate(-43)" font-size="5.6" fill="#000" stroke="#000" stroke-width="0.18" stroke-opacity="0.6" textLength="21.10" lengthAdjust="spacingAndGlyphs">areaSES</text>
<text transform="translate(158.40,112.70) rotate(-43)" font-size="5.6" fill="#000" stroke="#000" stroke-width="0.18" stroke-opacity="0.6" textLength="7.90" lengthAdjust="spacingAndGlyphs">Psi</text>
<text transform="translate(170.20,112.70) rotate(-43)" font-size="5.6" fill="#000" stroke="#000" stroke-width="0.18" stroke-opacity="0.6" textLength="8.40" lengthAdjust="spacingAndGlyphs">Phi</text>
<text transform="translate(194.30,112.70) rotate(-43)" font-size="5.6" fill="#000" stroke="#000" stroke-width="0.18" stroke-opacity="0.6" textLength="21.40" lengthAdjust="spacingAndGlyphs">areaSAS</text>
<polyline points="203,54.9 271.2,54.9 271.2,106" fill="none" stroke="#222" stroke-width="0.9"/>
<polygon points="271.20,109.40 269.30,105.20 271.20,106.25 273.10,105.20" fill="#111"/>
<line x1="199.80" y1="138.60" x2="217.00" y2="138.60" stroke="#222" stroke-width="0.9" />
<polygon points="220.10,138.60 215.90,136.70 216.95,138.60 215.90,140.50" fill="#111"/>
<rect x="225.60" y="114.30" width="8.8" height="5.8" rx="2.90" fill="#4a9a4a" stroke="#1c1c1c" stroke-width="0.85"/>
<rect x="225.60" y="122.95" width="8.8" height="5.8" rx="2.90" fill="#1a5a1a" stroke="#1c1c1c" stroke-width="0.85"/>
<rect x="225.60" y="131.60" width="8.8" height="5.8" rx="2.90" fill="#33bb33" stroke="#1c1c1c" stroke-width="0.85"/>
<rect x="225.60" y="140.25" width="8.8" height="5.8" rx="2.90" fill="#228b22" stroke="#1c1c1c" stroke-width="0.85"/>
<rect x="225.60" y="148.90" width="8.8" height="5.8" rx="2.90" fill="#77dd77" stroke="#1c1c1c" stroke-width="0.85"/>
<rect x="225.60" y="157.55" width="8.8" height="5.8" rx="2.90" fill="#b0e8b0" stroke="#1c1c1c" stroke-width="0.85"/>
<rect x="245.40" y="114.30" width="8.8" height="5.8" rx="2.90" fill="#1a5a1a" stroke="#1c1c1c" stroke-width="0.85"/>
<rect x="245.40" y="122.95" width="8.8" height="5.8" rx="2.90" fill="#b0e8b0" stroke="#1c1c1c" stroke-width="0.85"/>
<rect x="245.40" y="131.60" width="8.8" height="5.8" rx="2.90" fill="#228b22" stroke="#1c1c1c" stroke-width="0.85"/>
<rect x="245.40" y="140.25" width="8.8" height="5.8" rx="2.90" fill="#77ee77" stroke="#1c1c1c" stroke-width="0.85"/>
<rect x="245.40" y="148.90" width="8.8" height="5.8" rx="2.90" fill="#5aa05a" stroke="#1c1c1c" stroke-width="0.85"/>
<rect x="245.40" y="157.55" width="8.8" height="5.8" rx="2.90" fill="#33bb33" stroke="#1c1c1c" stroke-width="0.85"/>
<rect x="257.80" y="114.30" width="8.8" height="5.8" rx="2.90" fill="#d81f5e" stroke="#1c1c1c" stroke-width="0.85"/>
<rect x="257.80" y="122.95" width="8.8" height="5.8" rx="2.90" fill="#e0306a" stroke="#1c1c1c" stroke-width="0.85"/>
<rect x="257.80" y="131.60" width="8.8" height="5.8" rx="2.90" fill="#a0164a" stroke="#1c1c1c" stroke-width="0.85"/>
<rect x="257.80" y="140.25" width="8.8" height="5.8" rx="2.90" fill="#b85a6e" stroke="#1c1c1c" stroke-width="0.85"/>
<rect x="257.80" y="148.90" width="8.8" height="5.8" rx="2.90" fill="#e8608a" stroke="#1c1c1c" stroke-width="0.85"/>
<rect x="257.80" y="157.55" width="8.8" height="5.8" rx="2.90" fill="#95154a" stroke="#1c1c1c" stroke-width="0.85"/>
<rect x="276.90" y="114.30" width="8.8" height="5.8" rx="2.90" fill="#d81f5e" stroke="#1c1c1c" stroke-width="0.85"/>
<rect x="276.90" y="122.95" width="8.8" height="5.8" rx="2.90" fill="#e0306a" stroke="#1c1c1c" stroke-width="0.85"/>
<rect x="276.90" y="131.60" width="8.8" height="5.8" rx="2.90" fill="#a0164a" stroke="#1c1c1c" stroke-width="0.85"/>
<rect x="276.90" y="140.25" width="8.8" height="5.8" rx="2.90" fill="#b85a6e" stroke="#1c1c1c" stroke-width="0.85"/>
<rect x="276.90" y="148.90" width="8.8" height="5.8" rx="2.90" fill="#e8608a" stroke="#1c1c1c" stroke-width="0.85"/>
<rect x="276.90" y="157.55" width="8.8" height="5.8" rx="2.90" fill="#95154a" stroke="#1c1c1c" stroke-width="0.85"/>
<rect x="291.20" y="114.30" width="8.8" height="5.8" rx="2.90" fill="#6060c0" stroke="#1c1c1c" stroke-width="0.85"/>
<rect x="291.20" y="122.95" width="8.8" height="5.8" rx="2.90" fill="#7070b8" stroke="#1c1c1c" stroke-width="0.85"/>
<rect x="291.20" y="131.60" width="8.8" height="5.8" rx="2.90" fill="#3a2ae0" stroke="#1c1c1c" stroke-width="0.85"/>
<rect x="291.20" y="140.25" width="8.8" height="5.8" rx="2.90" fill="#7070a8" stroke="#1c1c1c" stroke-width="0.85"/>
<rect x="291.20" y="148.90" width="8.8" height="5.8" rx="2.90" fill="#8080c8" stroke="#1c1c1c" stroke-width="0.85"/>
<rect x="291.20" y="157.55" width="8.8" height="5.8" rx="2.90" fill="#4a4ad0" stroke="#1c1c1c" stroke-width="0.85"/>
<rect x="311.00" y="114.30" width="8.8" height="5.8" rx="2.90" fill="#9a2aaa" stroke="#1c1c1c" stroke-width="0.85"/>
<rect x="311.00" y="122.95" width="8.8" height="5.8" rx="2.90" fill="#dda0dd" stroke="#1c1c1c" stroke-width="0.85"/>
<rect x="311.00" y="131.60" width="8.8" height="5.8" rx="2.90" fill="#7a3a8a" stroke="#1c1c1c" stroke-width="0.85"/>
<rect x="311.00" y="140.25" width="8.8" height="5.8" rx="2.90" fill="#dda0ee" stroke="#1c1c1c" stroke-width="0.85"/>
<rect x="311.00" y="148.90" width="8.8" height="5.8" rx="2.90" fill="#8a1aa0" stroke="#1c1c1c" stroke-width="0.85"/>
<rect x="311.00" y="157.55" width="8.8" height="5.8" rx="2.90" fill="#c060d8" stroke="#1c1c1c" stroke-width="0.85"/>
<circle cx="236.60" cy="142.4" r="0.72" fill="#111"/>
<circle cx="238.90" cy="142.4" r="0.72" fill="#111"/>
<circle cx="241.20" cy="142.4" r="0.72" fill="#111"/>
<circle cx="243.50" cy="142.4" r="0.72" fill="#111"/>
<circle cx="268.80" cy="142.4" r="0.72" fill="#111"/>
<circle cx="271.10" cy="142.4" r="0.72" fill="#111"/>
<circle cx="273.40" cy="142.4" r="0.72" fill="#111"/>
<circle cx="275.70" cy="142.4" r="0.72" fill="#111"/>
<circle cx="301.80" cy="142.4" r="0.72" fill="#111"/>
<circle cx="304.10" cy="142.4" r="0.72" fill="#111"/>
<circle cx="306.40" cy="142.4" r="0.72" fill="#111"/>
<circle cx="308.70" cy="142.4" r="0.72" fill="#111"/>
<text x="223.20" y="119.00" font-size="3.6" text-anchor="end" font-weight="normal" fill="#000" stroke="#000" stroke-width="0.12" stroke-opacity="0.5" >1</text>
<text x="223.20" y="127.65" font-size="3.6" text-anchor="end" font-weight="normal" fill="#000" stroke="#000" stroke-width="0.12" stroke-opacity="0.5" >2</text>
<text x="223.20" y="136.30" font-size="3.6" text-anchor="end" font-weight="normal" fill="#000" stroke="#000" stroke-width="0.12" stroke-opacity="0.5" >3</text>
<text x="223.40" y="162.30" font-size="3.4" text-anchor="end" font-weight="normal" fill="#000" stroke="#000" stroke-width="0.12" stroke-opacity="0.5" >1374</text>
<circle cx="222.6" cy="142.60" r="0.7" fill="#111"/>
<circle cx="222.6" cy="145.80" r="0.7" fill="#111"/>
<circle cx="222.6" cy="149.00" r="0.7" fill="#111"/>
<rect x="164.50" y="184.80" width="8.8" height="5.8" rx="2.90" fill="#5a50c0" stroke="#1c1c1c" stroke-width="0.85"/>
<rect x="164.50" y="193.35" width="8.8" height="5.8" rx="2.90" fill="#6a68b8" stroke="#1c1c1c" stroke-width="0.85"/>
<rect x="164.50" y="201.90" width="8.8" height="5.8" rx="2.90" fill="#3a28e0" stroke="#1c1c1c" stroke-width="0.85"/>
<rect x="164.50" y="210.45" width="8.8" height="5.8" rx="2.90" fill="#6a68a8" stroke="#1c1c1c" stroke-width="0.85"/>
<rect x="164.50" y="219.00" width="8.8" height="5.8" rx="2.90" fill="#7a78c0" stroke="#1c1c1c" stroke-width="0.85"/>
<rect x="164.50" y="227.55" width="8.8" height="5.8" rx="2.90" fill="#4a40d0" stroke="#1c1c1c" stroke-width="0.85"/>
<text transform="translate(176.60,196.50) rotate(-43)" font-size="5.6" fill="#000" stroke="#000" stroke-width="0.18" stroke-opacity="0.6" textLength="33.70" lengthAdjust="spacingAndGlyphs">Conservation</text>
<text transform="translate(188.60,194.90) rotate(-43)" font-size="5.6" fill="#000" stroke="#000" stroke-width="0.18" stroke-opacity="0.6" textLength="14.20" lengthAdjust="spacingAndGlyphs">Score</text>
<polyline points="179,201.3 296.1,201.3 296.1,166.6" fill="none" stroke="#222" stroke-width="0.9"/>
<polygon points="296.10,163.40 294.20,167.60 296.10,166.55 298.00,167.60" fill="#111"/>
<rect x="310.00" y="185.70" width="8.8" height="5.8" rx="2.90" fill="#8a1a9a" stroke="#1c1c1c" stroke-width="0.85"/>
<rect x="310.00" y="194.25" width="8.8" height="5.8" rx="2.90" fill="#dda0e8" stroke="#1c1c1c" stroke-width="0.85"/>
<rect x="310.00" y="202.80" width="8.8" height="5.8" rx="2.90" fill="#6a3a7a" stroke="#1c1c1c" stroke-width="0.85"/>
<rect x="310.00" y="211.35" width="8.8" height="5.8" rx="2.90" fill="#dda0e8" stroke="#1c1c1c" stroke-width="0.85"/>
<rect x="310.00" y="219.90" width="8.8" height="5.8" rx="2.90" fill="#7a0a9a" stroke="#1c1c1c" stroke-width="0.85"/>
<rect x="310.00" y="228.45" width="8.8" height="5.8" rx="2.90" fill="#c050d0" stroke="#1c1c1c" stroke-width="0.85"/>
<line x1="315.30" y1="183.60" x2="315.30" y2="166.60" stroke="#222" stroke-width="0.9" />
<polygon points="315.30,163.40 313.40,167.60 315.30,166.55 317.20,167.60" fill="#111"/>
<text transform="translate(323.10,207.50) rotate(-43)" font-size="5.6" fill="#000" stroke="#000" stroke-width="0.18" stroke-opacity="0.6" textLength="33.60" lengthAdjust="spacingAndGlyphs">FV-deficiency</text>
<text transform="translate(334.90,207.00) rotate(-43)" font-size="5.6" fill="#000" stroke="#000" stroke-width="0.18" stroke-opacity="0.6" textLength="15.00" lengthAdjust="spacingAndGlyphs">cases</text>
<line x1="325.00" y1="213.40" x2="344.50" y2="213.40" stroke="#222" stroke-width="0.9" />
<polygon points="322.00,213.40 326.20,211.50 325.15,213.40 326.20,215.30" fill="#111"/>
<rect x="349.7" y="197.3" width="27.6" height="30.8" rx="2" fill="#7ccfe0" stroke="#4a4a4a" stroke-width="1.3"/>
<rect x="358.4" y="192.3" width="10.4" height="10.0" fill="#f06a6a" stroke="#4a4a4a" stroke-width="1.2"/>
<path d="M361.4 194.6v5.4M365.8 194.6v5.4M361.4 197.3h4.4" stroke="#4a4a4a" stroke-width="1.4" fill="none"/>
<rect x="353.4" y="206.1" width="4.5" height="4.6" rx="0.5" fill="#4a4a4a"/>
<rect x="361.3" y="206.1" width="4.5" height="4.6" rx="0.5" fill="#4a4a4a"/>
<rect x="368.9" y="206.1" width="4.5" height="4.6" rx="0.5" fill="#4a4a4a"/>
<rect x="353.4" y="214.0" width="4.5" height="4.6" rx="0.5" fill="#4a4a4a"/>
<rect x="361.3" y="214.0" width="4.5" height="4.6" rx="0.5" fill="#4a4a4a"/>
<rect x="368.9" y="214.0" width="4.5" height="4.6" rx="0.5" fill="#4a4a4a"/>
<rect x="357.0" y="221.3" width="13.3" height="7.0" fill="#4a4a4a"/>
<rect x="358.6" y="222.9" width="4.3" height="4.6" fill="#f6d060"/>
<rect x="364.4" y="222.9" width="4.3" height="4.6" fill="#f6d060"/>
<line x1="325.00" y1="135.30" x2="355.80" y2="135.30" stroke="#222" stroke-width="0.9" />
<polygon points="359.00,135.30 354.80,133.40 355.85,135.30 354.80,137.20" fill="#111"/>
<polygon points="347.07,126.38 347.07,127.52 345.99,127.71 345.75,128.61 346.59,129.31 346.02,130.31 344.99,129.93 344.33,130.59 344.71,131.62 343.71,132.19 343.01,131.35 342.11,131.59 341.92,132.67 340.78,132.67 340.59,131.59 339.69,131.35 338.99,132.19 337.99,131.62 338.37,130.59 337.71,129.93 336.68,130.31 336.11,129.31 336.95,128.61 336.71,127.71 335.63,127.52 335.63,126.38 336.71,126.19 336.95,125.29 336.11,124.59 336.68,123.59 337.71,123.97 338.37,123.31 337.99,122.28 338.99,121.71 339.69,122.55 340.59,122.31 340.78,121.23 341.92,121.23 342.11,122.31 343.01,122.55 343.71,121.71 344.71,122.28 344.33,123.31 344.99,123.97 346.02,123.59 346.59,124.59 345.75,125.29 345.99,126.19" fill="#111"/>
<circle cx="341.35" cy="126.95" r="1.6" fill="#fff"/>
<text x="375.80" y="103.20" font-size="7.1" font-weight="normal" fill="#000" stroke="#000" stroke-width="0.15" stroke-opacity="0.55" textLength="23.95" lengthAdjust="spacingAndGlyphs">Curated</text>
<text x="376.00" y="110.90" font-size="7.1" font-weight="normal" fill="#000" stroke="#000" stroke-width="0.15" stroke-opacity="0.55" textLength="23.25" lengthAdjust="spacingAndGlyphs">dataset</text>
<path d="M371.4 121.65 V148.95 A17.600000000000023 5.25 0 0 0 406.6 148.95 V121.65" fill="#fff" stroke="#000" stroke-width="2.2"/>
<ellipse cx="389.0" cy="121.65" rx="17.600000000000023" ry="5.25" fill="#fff" stroke="#000" stroke-width="2.2"/>
<path d="M371.4 131.15 A17.600000000000023 5.25 0 0 0 406.6 131.15" fill="none" stroke="#000" stroke-width="2.2"/>
<path d="M371.4 140.15 A17.600000000000023 5.25 0 0 0 406.6 140.15" fill="none" stroke="#000" stroke-width="2.2"/>
<text x="364.80" y="120.00" font-size="3.6" text-anchor="middle" font-weight="normal" fill="#000" stroke="#000" stroke-width="0.12" stroke-opacity="0.5" >1</text>
<text x="364.80" y="128.40" font-size="3.6" text-anchor="middle" font-weight="normal" fill="#000" stroke="#000" stroke-width="0.12" stroke-opacity="0.5" >2</text>
<text x="364.80" y="136.80" font-size="3.6" text-anchor="middle" font-weight="normal" fill="#000" stroke="#000" stroke-width="0.12" stroke-opacity="0.5" >3</text>
<circle cx="364.8" cy="141.00" r="0.7" fill="#111"/>
<circle cx="364.8" cy="144.00" r="0.7" fill="#111"/>
<circle cx="364.8" cy="147.00" r="0.7" fill="#111"/>
<text x="363.40" y="154.00" font-size="3.4" text-anchor="middle" font-weight="normal" fill="#000" stroke="#000" stroke-width="0.12" stroke-opacity="0.5" >1317</text>
<rect x="508.0" y="43.1" width="159.80" height="155.80" fill="#eaeaf2"/>
<line x1="515.40" y1="43.1" x2="515.40" y2="198.9" stroke="#fff" stroke-width="1.0"/>
<line x1="508.0" y1="192.40" x2="667.8" y2="192.40" stroke="#fff" stroke-width="1.0"/>
<line x1="544.61" y1="43.1" x2="544.61" y2="198.9" stroke="#fff" stroke-width="1.0"/>
<line x1="508.0" y1="163.98" x2="667.8" y2="163.98" stroke="#fff" stroke-width="1.0"/>
<line x1="573.82" y1="43.1" x2="573.82" y2="198.9" stroke="#fff" stroke-width="1.0"/>
<line x1="508.0" y1="135.56" x2="667.8" y2="135.56" stroke="#fff" stroke-width="1.0"/>
<line x1="603.03" y1="43.1" x2="603.03" y2="198.9" stroke="#fff" stroke-width="1.0"/>
<line x1="508.0" y1="107.14" x2="667.8" y2="107.14" stroke="#fff" stroke-width="1.0"/>
<line x1="632.24" y1="43.1" x2="632.24" y2="198.9" stroke="#fff" stroke-width="1.0"/>
<line x1="508.0" y1="78.72" x2="667.8" y2="78.72" stroke="#fff" stroke-width="1.0"/>
<line x1="661.45" y1="43.1" x2="661.45" y2="198.9" stroke="#fff" stroke-width="1.0"/>
<line x1="508.0" y1="50.30" x2="667.8" y2="50.30" stroke="#fff" stroke-width="1.0"/>
<text class="t" x="505.4" y="194.35" font-size="9.6" text-anchor="end" fill="#222">0.0</text>
<text class="t" x="515.40" y="207.4" font-size="9.6" text-anchor="middle" fill="#222">0.0</text>
<text class="t" x="505.4" y="165.93" font-size="9.6" text-anchor="end" fill="#222">0.2</text>
<text class="t" x="544.61" y="207.4" font-size="9.6" text-anchor="middle" fill="#222">0.2</text>
<text class="t" x="505.4" y="137.51" font-size="9.6" text-anchor="end" fill="#222">0.4</text>
<text class="t" x="573.82" y="207.4" font-size="9.6" text-anchor="middle" fill="#222">0.4</text>
<text class="t" x="505.4" y="109.09" font-size="9.6" text-anchor="end" fill="#222">0.6</text>
<text class="t" x="603.03" y="207.4" font-size="9.6" text-anchor="middle" fill="#222">0.6</text>
<text class="t" x="505.4" y="80.67" font-size="9.6" text-anchor="end" fill="#222">0.8</text>
<text class="t" x="632.24" y="207.4" font-size="9.6" text-anchor="middle" fill="#222">0.8</text>
<text class="t" x="505.4" y="52.25" font-size="9.6" text-anchor="end" fill="#222">1.0</text>
<text class="t" x="661.45" y="207.4" font-size="9.6" text-anchor="middle" fill="#222">1.0</text>
<text class="t" x="596.7" y="220.4" font-size="9.2" text-anchor="middle" fill="#222">False-positive rate</text>
<text class="t" transform="translate(484.6,120.8) rotate(-90)" font-size="9.2" text-anchor="middle" fill="#222">True-positive rate</text>
<polyline points="515.40,192.40 516.86,192.40 519.05,188.56 520.80,184.16 523.14,181.74 525.92,180.75 528.84,177.34 532.20,172.65 534.53,166.96 536.14,162.56 537.89,158.01 539.64,152.61 543.00,147.50 546.36,142.95 550.89,133.85 554.25,127.03 556.00,122.49 558.92,116.80 562.28,114.53 565.06,109.98 567.54,106.43 570.90,103.02 574.26,100.75 577.62,98.33 581.12,93.92 584.48,89.24 588.42,85.11 591.35,81.85 595.00,78.72 598.21,76.16 599.67,74.46 603.76,72.47 607.70,70.62 611.79,67.64 615.44,66.07 619.39,64.65 626.69,61.53 633.70,59.82 640.13,58.40 646.85,56.13 653.56,53.43 661.45,50.30" fill="none" stroke="#1b9e77" stroke-opacity="0.82" stroke-width="1.6" stroke-linejoin="round"/>
<polyline points="515.40,192.40 518.03,184.16 520.80,177.34 523.72,172.22 526.50,168.24 529.86,163.55 533.36,160.14 536.72,157.44 539.64,153.46 541.25,151.19 546.36,145.22 549.72,139.54 553.23,133.85 556.59,129.31 559.36,125.90 562.28,120.21 564.47,116.80 567.98,115.10 570.17,111.12 572.07,105.15 575.43,101.74 578.93,100.04 582.29,98.33 585.65,96.06 589.16,91.65 591.35,86.54 593.83,83.84 596.60,79.43 599.67,76.45 602.74,74.46 605.51,72.04 609.60,68.63 613.25,65.65 614.71,62.24 617.05,59.68 620.41,58.83 626.69,58.40 631.36,55.42 633.70,54.42 640.13,54.14 646.85,54.42 649.47,52.43 654.88,51.72 661.45,50.30" fill="none" stroke="#d95f02" stroke-opacity="0.82" stroke-width="1.6" stroke-linejoin="round"/>
<polyline points="515.40,192.40 519.64,187.57 523.14,184.16 526.50,181.32 529.86,177.34 532.78,172.65 534.97,170.52 536.72,164.83 538.48,160.85 541.84,159.72 544.61,156.88 546.95,154.46 549.72,148.63 553.23,144.09 555.56,140.11 557.17,134.42 559.36,127.03 562.28,122.49 565.06,119.08 567.54,113.82 569.88,106.43 572.07,103.02 575.43,100.75 578.93,97.34 581.71,92.65 584.04,86.96 586.23,84.83 588.13,82.41 590.91,77.44 595.29,72.04 596.31,70.05 598.65,68.63 602.15,66.64 605.37,65.22 610.62,63.66 614.13,61.67 617.05,56.69 630.05,56.55 632.09,55.13 637.50,54.71 640.13,52.43 644.80,52.43 646.85,50.30 661.45,50.30" fill="none" stroke="#7570b3" stroke-opacity="0.82" stroke-width="1.6" stroke-linejoin="round"/>
<polyline points="515.40,192.40 518.47,186.43 521.97,179.04 525.33,177.34 528.84,173.93 531.03,170.52 533.95,165.97 536.72,161.42 538.48,156.88 539.64,151.19 541.25,141.81 543.00,141.24 544.61,137.27 546.36,136.70 548.55,128.17 550.31,127.60 552.64,127.03 554.25,120.21 556.00,119.08 558.34,114.53 559.95,112.82 561.70,109.84 564.03,105.15 566.37,101.74 568.56,97.34 570.31,92.65 572.65,90.94 574.84,89.95 577.18,89.24 578.93,84.83 581.71,80.14 583.46,77.30 585.07,76.30 586.82,73.46 588.86,69.63 593.83,69.63 597.77,69.06 600.69,66.07 603.76,63.66 606.68,63.66 609.60,61.24 614.57,61.24 617.49,59.68 621.29,59.25 626.69,58.12 632.09,57.12 641.59,56.84 646.85,57.12 648.89,52.72 656.34,52.15 661.45,50.30" fill="none" stroke="#e7298a" stroke-opacity="0.82" stroke-width="1.6" stroke-linejoin="round"/>
<polyline points="515.40,192.40 518.47,185.15 520.80,179.04 523.14,173.93 525.33,170.52 527.67,167.53 529.86,165.40 531.61,160.85 533.36,159.72 536.14,158.44 538.48,155.74 541.84,150.05 544.03,142.95 548.55,134.99 552.06,130.44 555.56,127.03 558.92,126.47 562.28,123.62 564.03,119.08 565.06,113.39 566.37,107.57 568.56,105.15 572.07,103.02 575.43,100.75 578.93,99.47 581.12,96.06 582.29,91.65 584.04,89.24 585.65,88.10 588.13,83.55 590.32,80.14 592.08,76.73 594.27,73.46 596.60,70.62 600.69,69.06 604.78,67.64 609.02,66.64 613.25,65.65 616.17,64.23 619.10,63.23 622.75,61.53 626.69,60.25 633.70,58.40 640.13,58.12 642.76,56.55 648.16,55.42 651.66,52.72 661.45,50.30" fill="none" stroke="#66a61e" stroke-opacity="0.82" stroke-width="1.6" stroke-linejoin="round"/>
<line x1="515.40" y1="192.40" x2="661.45" y2="50.30" stroke="#3a3a3a" stroke-width="1.6" stroke-dasharray="5.5,2.8"/>
<rect x="589.3" y="129.3" width="77.2" height="67.4" rx="2" fill="#eeeef4" fill-opacity="0.85" stroke="#cfcfd6" stroke-width="0.7"/>
<text class="t" x="628.1" y="137.0" font-size="7.4" text-anchor="middle" fill="#222">Models Best AUC</text>
<line x1="591.4" y1="144.20" x2="605.9" y2="144.20" stroke="#59b59c" stroke-width="1.4"/>
<text class="t" x="610.6" y="146.80" font-size="7.0" fill="#222">DT: 0.65 ± 0.07</text>
<line x1="591.4" y1="153.65" x2="605.9" y2="153.65" stroke="#e0823e" stroke-width="1.4"/>
<text class="t" x="610.6" y="156.25" font-size="7.0" fill="#222">KNN: 0.65 ± 0.06</text>
<line x1="591.4" y1="163.10" x2="605.9" y2="163.10" stroke="#9894c8" stroke-width="1.4"/>
<text class="t" x="610.6" y="165.70" font-size="7.0" fill="#222">RF: 0.65 ± 0.08</text>
<line x1="591.4" y1="172.55" x2="605.9" y2="172.55" stroke="#e655a5" stroke-width="1.4"/>
<text class="t" x="610.6" y="175.15" font-size="7.0" fill="#222">SVM: 0.69 ± 0.10</text>
<line x1="591.4" y1="182.00" x2="605.9" y2="182.00" stroke="#8aba58" stroke-width="1.4"/>
<text class="t" x="610.6" y="184.60" font-size="7.0" fill="#222">XGB: 0.66 ± 0.10</text>
<line x1="591.4" y1="191.45" x2="605.9" y2="191.45" stroke="#444" stroke-width="1.4" stroke-dasharray="4.2,2.6"/>
<text class="t" x="610.6" y="194.05" font-size="7.0" fill="#222">Random</text>
<text class="t" x="485.3" y="12.6" font-size="12.2" font-weight="bold" fill="#000">B</text>
<text class="t" x="0.3" y="262.1" font-size="12" font-weight="bold" fill="#000">C</text>
<text class="t" x="10.70" y="269.8" font-size="6.0" fill="#111" textLength="14.45" lengthAdjust="spacingAndGlyphs">Least</text>
<text class="t" x="3.90" y="276.5" font-size="6.0" fill="#111" textLength="27.75" lengthAdjust="spacingAndGlyphs">conserved</text>
<text class="t" x="11.00" y="372.0" font-size="6.0" fill="#111" textLength="13.95" lengthAdjust="spacingAndGlyphs">More</text>
<text class="t" x="3.90" y="379.0" font-size="6.0" fill="#111" textLength="28.05" lengthAdjust="spacingAndGlyphs">conserved</text>
<line x1="18.5" y1="282" x2="18.5" y2="362" stroke="#111" stroke-width="1.0"/>
<polygon points="18.5,278.3 16.2,283.0 18.5,282.4 20.8,283.0" fill="#111"/>
<polygon points="18.5,365.7 16.2,361.0 18.5,361.6 20.8,361.0" fill="#111"/>
<rect x="55.5" y="279.6" width="290.00" height="82.40" fill="#fff"/>
<rect x="70.50" y="325.1" width="36.20" height="28.40" fill="none" stroke="#444" stroke-width="0.8"/>
<line x1="70.50" y1="341.9" x2="106.70" y2="341.9" stroke="#111" stroke-width="1.4"/>
<path d="M92.1 357.8h0M92.1 354.7h0M89.9 333.7h0M84.6 330.2h0M87.6 309.7h0M89.7 355.9h0M84.3 339.1h0M86.1 323.5h0M86.9 298.8h0M88.6 335.9h0M86.4 316.0h0M86.8 303.3h0M89.2 325.6h0M92.0 318.1h0M83.9 353.5h0M92.8 323.1h0M93.3 315.5h0M89.2 354.5h0M84.6 329.6h0M92.7 346.7h0M84.3 326.8h0M89.2 353.7h0M93.4 355.0h0M87.6 331.5h0M93.3 339.6h0M85.5 342.1h0M85.1 325.0h0M91.3 353.9h0M84.4 346.4h0M89.6 329.2h0M89.5 343.4h0M85.2 328.2h0M85.6 329.3h0M88.4 331.6h0M84.7 317.4h0M86.2 313.7h0M91.8 353.9h0M85.4 354.0h0M88.4 324.4h0M92.7 321.7h0M87.7 326.3h0M87.3 328.1h0M88.1 327.4h0M89.4 349.9h0M88.4 340.6h0M83.9 353.1h0M90.9 315.0h0M88.1 342.7h0M90.9 352.3h0M87.1 340.5h0M92.2 358.1h0M84.0 358.6h0M89.8 355.4h0M83.8 354.3h0M90.0 324.8h0M87.5 350.3h0M91.9 354.6h0M88.7 313.4h0M86.0 347.5h0M89.7 314.3h0M83.8 353.9h0M88.8 349.0h0M92.4 347.0h0M89.9 344.8h0M89.4 331.6h0M87.1 343.5h0M93.0 303.1h0M88.3 343.2h0M88.8 331.5h0M89.8 351.7h0M92.3 342.3h0M86.5 305.1h0M83.9 351.1h0M91.2 328.3h0M84.2 343.5h0M89.9 316.4h0M85.7 349.8h0M90.7 353.9h0M84.1 355.1h0M90.5 330.9h0M92.6 338.4h0M92.4 317.8h0M88.1 353.6h0M89.3 318.9h0M85.7 349.5h0M92.5 323.1h0M89.0 283.5h0M83.9 350.2h0M87.1 325.0h0M88.5 356.9h0M92.2 323.0h0M85.4 357.1h0M88.3 352.5h0M88.5 358.6h0M88.0 300.1h0M85.3 348.4h0M92.0 346.3h0M89.0 327.5h0M89.0 344.2h0M84.0 309.2h0M87.6 313.5h0M90.5 314.6h0M88.2 287.4h0M88.3 353.9h0M92.9 340.2h0M84.8 355.1h0M92.8 355.7h0M84.0 341.5h0M86.9 336.6h0M88.6 347.7h0M89.8 293.5h0M83.9 339.9h0M89.7 357.4h0M85.8 334.1h0M92.1 335.4h0M87.1 335.6h0M92.7 330.4h0M84.6 328.4h0M87.5 326.6h0M87.8 357.4h0M91.5 335.7h0M90.4 323.3h0M91.1 347.8h0M83.9 333.2h0M85.5 353.6h0M86.5 327.8h0M85.0 310.5h0M84.6 353.5h0M88.7 354.7h0M87.4 353.8h0M85.5 294.1h0M87.3 354.2h0M91.5 326.7h0M90.6 351.2h0M85.6 355.3h0M92.6 344.9h0M92.5 331.9h0M87.7 350.8h0M88.3 330.8h0M93.4 290.8h0M93.0 322.8h0M89.3 349.6h0M93.5 318.5h0M93.3 337.9h0M84.8 324.5h0M84.2 331.8h0M86.2 325.3h0M88.7 348.3h0M91.6 307.4h0M90.3 312.0h0M92.9 318.6h0M85.4 354.8h0M89.5 355.2h0M87.8 358.6h0M87.3 355.5h0M92.8 345.0h0M89.4 350.9h0M84.2 336.6h0M93.4 342.5h0M87.9 352.4h0M91.1 353.9h0M92.9 313.2h0M93.1 353.6h0M89.8 327.0h0M92.1 353.6h0M88.0 343.3h0M86.3 354.7h0M91.0 354.3h0M86.0 337.4h0M86.7 314.1h0M90.8 349.0h0M85.6 337.8h0M85.6 336.1h0M83.8 307.9h0M84.7 349.1h0M90.3 342.9h0M88.4 331.4h0M85.0 333.4h0M88.1 297.1h0M87.5 337.7h0M93.4 336.1h0M91.8 350.7h0M84.7 331.3h0M89.2 342.9h0M88.2 357.3h0M85.8 324.8h0M88.5 304.1h0M87.2 343.6h0M90.7 343.3h0M86.7 351.2h0M90.9 353.1h0M83.9 339.0h0M91.5 355.4h0M91.9 348.2h0M92.3 337.9h0M84.3 344.5h0M90.1 341.3h0M89.1 353.5h0M86.4 320.2h0M84.5 289.9h0M87.8 338.8h0M87.0 340.3h0M87.0 354.4h0M89.0 347.6h0M92.7 303.3h0M93.4 356.8h0M91.9 351.2h0M90.0 358.7h0M87.8 351.2h0M86.1 358.3h0M85.3 331.4h0M86.4 334.0h0M90.9 315.4h0M85.5 350.9h0M83.9 300.4h0M84.1 358.2h0M87.2 323.4h0M88.7 333.0h0M86.5 353.7h0M89.8 340.8h0M88.5 357.7h0M87.1 358.3h0M85.9 315.0h0M85.0 323.0h0M91.5 358.9h0M92.8 342.6h0M92.6 291.9h0M90.7 357.1h0M85.1 338.1h0M86.3 341.8h0M91.2 324.1h0M92.7 323.3h0M86.3 326.5h0M90.5 290.7h0M89.4 285.4h0M85.6 344.1h0M88.0 298.5h0M88.9 312.3h0M86.8 341.3h0M86.7 353.5h0M84.4 356.0h0M84.7 304.6h0M91.0 356.1h0M83.8 306.5h0M88.4 356.4h0M83.8 347.2h0M89.9 327.7h0M89.1 350.7h0M85.7 322.2h0M93.0 320.4h0M87.0 356.5h0M85.1 353.5h0M89.9 324.3h0M91.9 331.9h0M84.0 324.7h0M91.3 316.9h0M88.7 346.9h0M87.5 338.9h0M90.8 349.1h0M90.2 351.1h0M85.5 322.1h0M87.4 343.1h0M89.7 351.5h0M86.6 334.2h0M85.1 333.5h0M90.7 333.8h0M90.2 325.5h0M88.4 324.3h0M86.9 356.3h0M88.1 352.1h0M89.1 334.7h0M86.3 311.4h0M91.8 343.3h0M91.1 346.1h0M89.1 344.1h0M87.7 316.1h0M90.9 336.4h0M90.0 355.7h0M87.7 324.0h0M87.5 324.2h0M88.8 353.7h0M84.2 352.7h0M91.4 302.4h0M89.6 358.7h0M92.5 354.2h0M88.5 356.7h0M92.1 357.5h0M84.9 357.4h0M88.9 289.5h0M83.9 354.5h0M89.7 321.3h0M89.6 356.6h0M86.1 352.1h0M92.3 353.8h0M84.7 315.3h0M92.9 336.1h0M90.9 281.7h0M91.6 346.8h0M84.9 332.2h0M91.5 324.7h0M89.3 291.2h0M86.1 353.5h0M88.0 343.9h0M87.6 357.3h0M86.7 344.6h0M86.7 358.1h0M91.3 353.6h0M85.7 357.9h0M91.9 323.4h0M89.9 342.1h0M93.0 329.1h0M86.7 306.7h0M87.8 345.1h0M91.3 341.2h0M85.9 353.5h0M86.3 349.9h0M86.4 330.1h0M85.9 310.0h0M85.9 344.0h0M93.3 326.6h0M84.4 358.3h0M89.4 325.1h0M85.3 348.5h0M89.1 329.8h0M92.5 327.6h0M89.4 358.3h0M88.6 287.5h0M92.6 338.1h0M88.8 351.0h0M84.8 338.1h0M88.0 353.8h0M86.0 351.1h0M92.1 355.2h0M85.7 353.9h0M92.3 310.8h0M89.7 335.3h0M90.8 354.9h0M92.6 324.9h0M87.9 326.0h0M91.4 350.5h0M91.7 353.5h0M88.6 329.3h0M87.7 353.5h0M93.1 350.1h0M93.4 337.9h0M93.4 333.9h0M92.4 322.6h0M88.3 334.4h0M90.4 284.0h0M92.1 327.1h0M92.8 354.7h0M92.7 352.9h0M90.1 331.9h0M89.3 301.4h0M92.0 331.7h0M84.2 354.3h0M85.5 354.2h0M89.5 331.8h0M89.8 347.6h0M87.5 328.5h0M86.4 325.0h0M91.0 347.9h0M90.1 355.3h0M85.2 331.2h0M91.9 344.7h0M86.9 325.1h0M92.1 354.7h0M91.3 354.1h0M89.7 321.1h0M85.2 353.5h0M87.9 330.3h0M86.8 334.3h0M85.1 356.0h0M88.1 334.1h0M85.9 339.6h0M85.1 349.0h0M88.4 300.8h0M93.3 296.6h0M92.1 342.7h0M92.2 353.0h0M91.5 329.5h0M84.3 318.4h0M86.5 358.4h0M85.7 352.6h0M88.8 337.1h0M88.4 351.2h0M90.6 348.3h0M84.9 289.7h0M86.4 288.9h0M89.4 354.9h0M92.4 356.4h0M87.1 325.1h0M90.2 344.9h0M87.0 331.6h0M85.8 350.1h0M89.8 308.0h0M84.3 355.6h0M92.3 295.2h0M87.5 358.8h0M88.6 329.7h0M85.2 358.9h0M85.9 329.4h0M93.3 287.8h0M88.5 322.6h0M89.2 308.1h0M83.9 343.1h0M93.1 336.6h0M88.5 335.5h0M91.0 345.2h0M86.1 353.8h0M90.9 352.5h0M91.7 282.5h0M91.3 347.1h0M89.8 353.5h0M84.2 357.8h0M90.5 350.5h0M90.7 344.8h0M85.7 351.8h0M90.6 332.2h0M87.4 343.4h0M83.8 344.0h0M86.2 329.7h0M90.4 354.4h0M84.9 337.1h0M87.2 323.5h0M92.6 318.0h0M84.4 353.7h0M91.9 357.2h0M87.7 350.3h0M90.5 331.6h0M85.4 343.6h0M92.5 311.6h0M85.2 354.6h0M89.3 321.9h0M85.9 345.1h0M89.1 353.7h0M83.8 324.1h0M87.0 341.9h0M92.2 328.5h0M87.1 353.5h0M85.8 355.3h0M92.2 352.8h0M92.9 355.4h0M84.0 323.8h0M86.4 336.4h0M86.7 300.4h0M85.8 353.5h0M91.6 348.0h0M91.6 354.4h0M88.4 287.0h0M92.6 353.9h0M85.1 325.1h0M90.1 346.2h0M86.8 347.1h0M86.9 289.5h0M85.8 322.1h0M89.1 337.6h0M85.1 326.9h0M87.6 342.2h0M86.9 318.0h0M84.4 328.0h0M86.9 310.5h0M85.9 358.8h0M92.4 357.0h0M92.7 346.4h0M83.8 333.9h0M84.2 358.2h0M89.9 351.8h0M90.9 324.5h0M88.3 354.6h0M87.4 354.9h0M84.0 313.6h0M89.5 354.6h0M85.2 287.3h0M86.2 354.1h0M89.1 347.3h0M84.9 292.4h0M85.5 353.6h0M88.7 338.5h0M90.7 352.0h0M85.7 345.9h0M85.6 292.5h0M84.8 344.7h0M88.5 357.0h0M84.2 333.4h0M85.2 297.5h0M92.8 345.8h0M85.5 327.1h0M90.4 353.5h0M84.4 358.1h0M93.1 330.4h0M87.4 341.8h0M93.0 351.7h0M85.0 328.1h0M86.4 353.5h0M87.2 349.0h0M85.7 326.3h0M85.7 350.8h0M87.9 307.8h0M85.0 353.9h0M87.1 286.5h0M89.4 353.8h0M93.0 352.1h0M88.2 305.2h0M91.0 354.4h0M87.8 326.2h0M86.3 349.5h0M86.1 305.5h0M89.5 354.3h0M84.7 345.1h0M84.7 312.1h0M87.4 331.2h0M92.3 351.4h0M88.3 331.2h0M84.3 349.5h0M87.6 341.8h0M93.5 336.9h0M90.1 281.6h0M88.6 334.9h0M91.5 326.7h0M90.1 323.9h0M88.3 353.2h0M85.2 316.9h0M92.5 352.9h0M87.7 324.6h0M84.6 298.9h0M86.0 324.9h0M86.7 313.8h0M87.8 344.8h0M89.5 282.5h0M92.0 332.8h0M88.6 296.6h0M87.7 333.9h0M83.8 317.7h0M90.9 326.9h0M88.9 353.6h0M88.5 318.0h0M86.6 318.5h0M92.7 327.0h0M93.4 344.3h0M92.6 333.5h0M86.3 355.7h0M91.5 342.9h0M87.9 354.2h0M86.7 353.6h0M87.4 323.9h0M84.7 344.5h0M93.0 346.1h0M87.4 356.6h0M89.5 325.1h0M87.3 335.1h0M84.2 350.7h0M91.1 333.8h0M85.8 293.2h0M90.0 352.8h0M90.4 345.2h0M85.9 318.3h0M91.7 345.6h0M91.2 342.6h0M84.5 318.3h0M83.9 335.8h0M90.9 325.2h0M89.8 354.1h0M84.5 323.8h0M88.0 332.6h0M92.5 316.5h0M93.1 294.7h0M84.8 348.3h0M90.5 318.2h0M85.8 288.1h0M85.1 354.1h0M86.4 324.1h0M87.9 353.5h0M90.6 353.7h0M90.5 354.9h0M88.4 355.0h0M83.8 330.5h0M91.6 331.4h0M89.5 354.7h0M89.4 354.2h0M87.6 356.3h0M86.0 303.9h0M84.1 346.7h0M86.2 297.1h0M89.8 332.4h0M88.2 340.4h0M85.5 353.6h0M88.6 305.0h0M89.3 336.8h0M85.2 354.1h0M91.4 343.0h0M90.9 339.6h0M89.4 350.8h0M93.0 346.1h0M93.3 351.5h0M83.9 322.4h0M89.2 345.2h0M86.5 345.1h0M87.5 343.7h0M90.9 334.2h0M91.3 346.9h0M87.1 336.6h0M89.2 333.6h0M89.1 342.8h0M83.7 321.1h0M87.3 323.4h0M90.2 342.6h0M87.8 324.2h0M92.1 336.6h0M90.4 316.8h0M87.2 313.0h0M92.3 358.4h0M88.5 317.5h0M84.0 304.2h0M86.6 324.3h0M85.2 345.1h0M83.9 340.8h0M93.5 357.1h0M88.8 342.9h0M86.6 324.6h0M84.0 342.2h0M89.4 333.8h0M84.4 325.1h0M87.7 339.1h0M92.5 346.4h0M88.9 334.9h0M90.1 346.0h0M85.2 353.7h0M92.7 344.5h0M86.3 336.1h0M86.7 342.2h0M86.9 321.1h0M89.0 338.4h0M88.6 304.7h0M87.8 353.8h0M92.6 331.1h0M87.8 359.2h0M87.4 338.4h0M84.4 352.8h0M84.0 325.0h0M85.3 317.2h0M92.3 323.3h0M92.8 330.8h0M84.1 330.5h0M92.3 336.5h0M90.8 354.3h0M93.3 352.0h0M86.8 343.3h0M88.8 321.8h0M88.9 356.8h0M85.9 324.8h0M93.3 288.1h0M89.3 330.7h0M89.6 352.3h0M88.3 351.7h0M90.3 333.0h0M87.6 356.8h0M84.1 321.6h0M85.8 356.6h0M87.9 325.1h0M84.3 355.6h0M83.8 323.7h0M92.0 345.8h0M91.0 344.8h0M89.4 339.9h0M89.5 354.6h0M86.0 352.5h0M92.7 334.5h0M89.1 330.4h0M93.0 353.6h0M83.7 349.3h0M88.6 355.3h0M90.2 356.2h0M89.3 353.9h0M86.8 353.5h0M85.1 353.5h0M88.0 321.7h0M84.2 321.7h0M86.2 357.1h0M89.1 317.2h0M88.4 314.7h0M88.6 349.6h0M88.1 336.7h0M90.4 352.5h0M85.4 351.2h0M86.1 354.0h0M90.1 285.3h0M89.7 357.1h0M90.0 358.5h0M85.3 283.6h0M86.7 352.0h0M86.3 338.1h0M88.0 336.3h0M91.4 356.9h0M92.9 311.0h0M90.7 353.8h0M85.3 325.1h0M84.9 335.5h0M86.4 330.4h0M91.3 329.6h0M86.0 279.6h0M91.0 279.8h0M88.0 281.0h0M93.0 283.0h0" stroke="#ff0000" stroke-width="3.5" stroke-linecap="round" fill="none"/>
<line x1="88.60" y1="281.6" x2="88.60" y2="325.1" stroke="#555" stroke-width="0.6" stroke-dasharray="1.5,1.2"/>
<line x1="88.60" y1="353.5" x2="88.60" y2="359.2" stroke="#555" stroke-width="0.6" stroke-dasharray="1.5,1.2"/>
<line x1="79.60" y1="281.6" x2="97.60" y2="281.6" stroke="#6a6a6a" stroke-width="1.3"/>
<line x1="79.60" y1="359.2" x2="97.60" y2="359.2" stroke="#6a6a6a" stroke-width="1.3"/>
<rect x="115.25" y="343.2" width="36.20" height="12.90" fill="none" stroke="#444" stroke-width="0.8"/>
<line x1="115.25" y1="352.2" x2="151.45" y2="352.2" stroke="#111" stroke-width="1.4"/>
<path d="M137.4 342.2h0M137.6 342.5h0M131.8 355.2h0M129.3 356.1h0M133.7 330.9h0M133.6 357.7h0M130.9 354.5h0M137.7 353.5h0M134.7 355.9h0M137.3 356.2h0M129.4 358.7h0M135.1 356.5h0M128.8 353.8h0M135.9 343.0h0M130.4 338.1h0M137.4 354.5h0M135.3 354.7h0M137.8 356.1h0M131.0 356.1h0M128.7 339.4h0M132.8 357.4h0M136.0 347.7h0M135.1 349.0h0M135.3 356.1h0M132.4 348.3h0M132.3 356.1h0M130.6 357.0h0M134.2 347.6h0M131.8 354.7h0M136.8 342.8h0M136.8 357.6h0M135.3 350.3h0M134.9 356.2h0M134.5 346.0h0M134.5 358.4h0M133.1 340.9h0M135.0 357.2h0M129.4 358.5h0M137.6 349.7h0M134.8 356.5h0M134.2 344.0h0M136.5 353.7h0M134.4 353.2h0M137.6 345.9h0M134.1 356.1h0M134.2 346.7h0M131.0 354.5h0M137.9 356.8h0M136.3 348.5h0M134.0 342.6h0M137.3 356.3h0M131.4 357.2h0M129.6 357.3h0M133.6 340.8h0M137.6 356.9h0M128.7 352.4h0M132.2 350.7h0M133.5 354.5h0M136.1 353.8h0M137.2 343.4h0M131.1 335.0h0M134.1 356.1h0M135.3 353.0h0M130.7 355.6h0M128.9 357.4h0M130.7 356.0h0M134.7 346.1h0M130.3 355.7h0M130.3 349.3h0M135.9 353.6h0M132.1 353.1h0M136.6 349.2h0M135.0 334.1h0M129.1 343.2h0M133.7 354.1h0M129.6 356.1h0M134.4 329.1h0M135.0 352.8h0M131.4 340.7h0M132.0 342.0h0M128.8 345.9h0M131.2 354.5h0M129.6 343.0h0M135.7 351.2h0M133.4 357.4h0M132.1 358.0h0M133.7 354.3h0M132.3 345.9h0M131.3 338.0h0M133.9 351.5h0M135.6 357.4h0M133.4 356.1h0M137.3 352.1h0M137.8 345.4h0M131.6 356.7h0M129.4 356.1h0M130.0 343.2h0M135.7 357.5h0M137.5 356.8h0M133.8 356.9h0M130.3 338.8h0M130.9 357.6h0M132.9 356.2h0M134.4 355.8h0M134.8 342.8h0M131.6 345.4h0M129.6 348.2h0M135.5 350.5h0M136.1 343.5h0M135.6 348.9h0M137.9 357.2h0M131.7 355.1h0M137.4 338.1h0M131.5 330.8h0M132.6 354.7h0M131.3 342.8h0M130.4 343.8h0M134.9 351.6h0M134.9 326.0h0M131.7 358.9h0M133.3 343.2h0M131.0 356.1h0M137.9 343.2h0M137.5 353.7h0M134.8 343.3h0M129.1 347.6h0M132.3 343.1h0M135.7 348.8h0M136.4 352.4h0M137.1 348.7h0M129.5 346.6h0M131.9 343.1h0M130.8 338.6h0M130.5 344.2h0M136.1 350.6h0M134.0 356.1h0M133.1 341.7h0M128.9 325.7h0M136.1 353.8h0M131.3 356.2h0M136.9 350.4h0M129.0 329.1h0M138.0 353.2h0M137.3 336.1h0M131.9 351.0h0M135.6 356.0h0M134.1 354.8h0M134.8 355.5h0M129.5 347.7h0M134.1 341.1h0M130.4 348.7h0M136.8 357.3h0M132.1 342.6h0M132.2 345.6h0M135.1 352.6h0M133.4 354.0h0M135.4 343.2h0M133.0 344.8h0M132.6 358.9h0M135.5 353.1h0M134.5 356.8h0M135.1 348.6h0M130.4 356.4h0M137.7 349.3h0M137.4 341.8h0M135.1 350.6h0M132.1 358.3h0M134.7 343.2h0M128.9 356.2h0M131.9 344.6h0M136.4 338.3h0M134.8 353.7h0M134.1 354.4h0M137.8 336.6h0M132.6 353.3h0M131.1 347.5h0M129.9 343.7h0M136.1 356.1h0M132.6 354.6h0M133.2 355.8h0M136.7 357.3h0M129.1 325.1h0M137.7 356.7h0M129.6 348.3h0M131.4 347.2h0M135.5 355.8h0M133.2 330.0h0M136.9 344.2h0M130.1 339.1h0M129.1 354.6h0M130.0 342.1h0M129.0 343.1h0M136.1 355.7h0M130.3 351.4h0M137.3 356.2h0M132.6 351.8h0M131.7 348.8h0M136.1 358.6h0M130.9 332.5h0M131.6 354.4h0M130.9 345.6h0M137.5 358.4h0M129.5 344.3h0M136.6 347.0h0M132.1 356.3h0M131.0 348.7h0M134.3 336.0h0M134.7 356.4h0M129.8 355.2h0M136.6 353.6h0M134.7 346.7h0M137.8 354.4h0M132.2 345.9h0M137.9 336.0h0M136.0 339.7h0M136.9 356.2h0M136.2 355.9h0M131.5 358.0h0M134.7 356.1h0M132.6 352.2h0M134.3 333.3h0M133.0 342.7h0M129.0 356.3h0M131.1 356.5h0M136.8 351.5h0M136.2 343.1h0M134.8 343.0h0M134.4 343.0h0M137.1 354.5h0M134.7 334.4h0M131.6 356.1h0M133.6 343.1h0M135.7 358.0h0M130.0 356.1h0M137.7 330.9h0M130.2 352.7h0M129.6 354.6h0M133.8 352.2h0M130.6 329.2h0M134.2 355.2h0M136.5 288.6h0M133.0 295.0h0M135.7 307.0h0M129.5 320.0h0M131.6 320.6h0M136.0 321.4h0M134.0 323.0h0" stroke="#ffff00" stroke-width="3.5" stroke-linecap="round" fill="none"/>
<line x1="133.35" y1="325.1" x2="133.35" y2="343.2" stroke="#555" stroke-width="0.6" stroke-dasharray="1.5,1.2"/>
<line x1="133.35" y1="356.1" x2="133.35" y2="359.4" stroke="#555" stroke-width="0.6" stroke-dasharray="1.5,1.2"/>
<line x1="124.35" y1="325.1" x2="142.35" y2="325.1" stroke="#6a6a6a" stroke-width="1.3"/>
<line x1="124.35" y1="359.4" x2="142.35" y2="359.4" stroke="#6a6a6a" stroke-width="1.3"/>
<rect x="160.00" y="348.9" width="36.20" height="8.20" fill="none" stroke="#444" stroke-width="0.8"/>
<line x1="160.00" y1="354.0" x2="196.20" y2="354.0" stroke="#111" stroke-width="1.4"/>
<path d="M175.3 351.6h0M174.0 357.1h0M174.7 357.1h0M178.0 351.7h0M174.9 350.8h0M180.5 357.1h0M175.4 359.2h0M177.4 348.1h0M177.9 340.8h0M176.1 349.4h0M177.8 355.4h0M182.3 355.6h0M174.8 356.2h0M182.1 357.7h0M179.7 341.1h0M176.4 349.1h0M174.0 356.4h0M175.1 357.2h0M175.6 356.4h0M177.0 348.7h0M180.3 358.4h0M174.2 355.5h0M175.9 343.2h0M179.0 340.5h0M182.7 348.8h0M177.7 350.0h0M178.9 357.1h0M181.5 356.8h0M176.1 348.9h0M174.1 355.2h0M175.7 357.1h0M180.7 355.5h0M177.2 355.7h0M173.8 355.4h0M174.3 358.5h0M180.5 348.9h0M177.9 349.1h0M173.7 344.2h0M178.3 347.6h0M177.2 347.8h0M177.0 357.1h0M181.3 356.5h0M178.4 351.3h0M181.2 342.4h0M174.6 346.2h0M174.9 339.8h0M178.0 356.3h0M176.5 355.3h0M180.7 358.9h0M177.7 355.3h0M180.0 346.3h0M177.9 348.9h0M177.0 355.8h0M177.6 357.1h0M175.1 355.6h0M177.8 357.3h0M176.3 357.1h0M181.9 340.3h0M182.0 349.9h0M176.7 357.8h0M174.3 354.1h0M182.3 353.8h0M174.2 349.5h0M176.0 355.4h0M176.7 357.1h0M180.0 355.9h0M175.4 353.9h0M173.8 349.5h0M181.1 358.7h0M182.2 341.4h0M174.0 348.9h0M178.9 357.1h0M175.3 358.8h0M179.4 355.1h0M177.0 343.8h0M175.3 357.4h0M181.1 357.4h0M182.7 348.8h0M182.5 349.6h0M181.6 349.0h0M176.7 352.0h0M182.7 355.1h0M179.1 345.3h0M181.0 339.6h0M173.5 357.4h0M176.8 352.0h0M176.4 345.6h0M179.0 359.5h0M182.7 343.6h0M179.4 359.0h0M182.0 346.7h0M177.1 338.7h0M178.8 356.7h0M174.3 358.3h0M173.8 357.3h0M176.4 350.4h0M176.6 356.1h0M177.2 355.1h0M180.9 356.4h0M173.9 352.7h0M181.2 349.4h0M177.5 349.5h0M182.5 357.1h0M181.1 355.4h0M175.5 348.6h0M181.4 355.3h0M175.8 353.6h0M174.1 355.8h0M179.9 347.1h0M173.4 351.6h0M181.1 353.4h0M178.1 358.8h0M173.8 358.1h0M179.8 340.4h0M175.1 348.3h0M180.7 357.2h0M176.0 351.6h0M174.2 354.9h0M175.2 357.3h0M174.3 348.9h0M174.9 357.1h0M176.5 344.7h0M176.2 359.3h0M181.4 349.0h0M176.9 351.0h0M177.4 354.6h0M179.1 357.1h0M174.6 348.6h0M180.2 356.6h0M178.1 351.5h0M178.5 340.4h0M181.4 342.7h0M173.8 350.4h0M173.8 356.7h0M181.4 357.2h0M173.9 351.6h0M180.4 357.1h0M175.7 358.6h0M175.9 358.6h0M180.1 357.6h0M175.3 350.0h0M175.5 358.7h0M176.6 347.1h0M173.9 346.9h0M177.1 358.9h0M182.3 352.6h0M177.8 350.1h0M177.9 355.9h0M173.5 339.6h0M179.4 355.8h0M177.2 351.2h0M174.9 345.7h0M175.2 358.9h0M181.0 358.6h0M177.6 349.9h0M182.7 357.5h0M182.5 356.4h0M182.1 356.7h0M182.7 355.7h0M176.8 351.6h0M177.9 343.9h0M177.7 353.3h0M182.3 358.5h0M177.2 346.5h0M174.7 352.6h0M174.4 345.5h0M179.1 342.5h0M174.9 357.6h0M182.3 355.9h0M176.7 348.9h0M182.3 342.2h0M173.8 348.6h0M175.3 356.9h0M174.3 351.0h0M173.5 357.1h0M182.0 355.9h0M175.9 355.7h0M179.8 353.3h0M173.6 355.7h0M174.5 348.4h0M177.9 297.9h0M178.8 298.2h0M181.8 330.0h0M176.0 334.0h0M179.0 334.5h0" stroke="#00ee00" stroke-width="3.5" stroke-linecap="round" fill="none"/>
<line x1="178.10" y1="338.5" x2="178.10" y2="348.9" stroke="#555" stroke-width="0.6" stroke-dasharray="1.5,1.2"/>
<line x1="178.10" y1="357.1" x2="178.10" y2="359.6" stroke="#555" stroke-width="0.6" stroke-dasharray="1.5,1.2"/>
<line x1="169.10" y1="338.5" x2="187.10" y2="338.5" stroke="#6a6a6a" stroke-width="1.3"/>
<line x1="169.10" y1="359.6" x2="187.10" y2="359.6" stroke="#6a6a6a" stroke-width="1.3"/>
<rect x="204.75" y="353.5" width="36.20" height="4.40" fill="none" stroke="#444" stroke-width="0.8"/>
<line x1="204.75" y1="356.1" x2="240.95" y2="356.1" stroke="#111" stroke-width="1.4"/>
<path d="M220.7 351.6h0M225.2 353.4h0M220.2 354.7h0M225.7 350.1h0M223.9 355.9h0M221.0 357.2h0M224.7 359.2h0M219.6 354.1h0M223.0 354.9h0M223.3 351.0h0M221.2 355.0h0M221.1 349.3h0M222.5 358.5h0M224.5 355.1h0M224.2 356.1h0M224.1 353.9h0M219.8 358.4h0M223.1 358.5h0M226.9 357.2h0M221.0 357.5h0M226.2 357.0h0M222.9 353.9h0M219.3 356.8h0M225.0 352.8h0M224.9 354.6h0M219.3 357.1h0M226.9 352.3h0M221.9 359.0h0M219.9 356.1h0M227.1 354.8h0M222.4 351.2h0M224.0 354.7h0M225.9 359.5h0M219.5 357.7h0M218.6 359.1h0M226.8 358.2h0M223.6 357.0h0M219.9 354.2h0M221.6 354.1h0M224.0 357.2h0M223.2 356.0h0M227.0 356.9h0M220.8 358.8h0M221.9 357.9h0M223.0 358.6h0M226.7 358.6h0M218.7 356.1h0M226.4 349.8h0M226.5 350.4h0M218.7 350.0h0M221.9 355.3h0M226.9 358.4h0M224.3 355.9h0M224.7 354.4h0M222.7 359.4h0M222.7 355.5h0M220.6 353.7h0M219.4 354.5h0M223.6 351.0h0M227.1 352.7h0M223.9 358.0h0M219.4 357.3h0M218.9 353.4h0M220.8 353.2h0M222.5 358.2h0M224.6 354.9h0M220.7 359.1h0M219.3 349.9h0M221.0 355.0h0M226.7 357.6h0M218.6 358.1h0M222.0 358.1h0M223.1 356.7h0M221.6 356.5h0M225.7 358.1h0M220.7 358.9h0M221.3 357.9h0M223.2 358.9h0M222.8 356.3h0M223.7 356.9h0M219.9 350.7h0M225.8 352.5h0M223.3 353.3h0M224.9 356.1h0M219.1 355.5h0M225.5 354.8h0M225.4 358.5h0M219.1 354.0h0M222.8 355.5h0M223.4 358.7h0M225.8 358.3h0M225.7 357.9h0M221.0 353.7h0M222.2 355.1h0M218.6 355.8h0M222.4 354.3h0M226.3 358.6h0M225.5 350.5h0M222.4 358.4h0M222.1 357.6h0M218.6 358.2h0M225.3 357.1h0M226.9 349.6h0M219.9 357.3h0M223.0 357.3h0M225.0 355.8h0M221.0 355.6h0M227.0 355.5h0M221.8 358.4h0M226.1 351.6h0M219.1 355.4h0M226.7 356.2h0M226.0 358.1h0M220.7 354.9h0M218.9 358.1h0M220.7 358.0h0M224.1 352.5h0M222.0 358.9h0M221.0 355.2h0M220.2 357.4h0M220.1 358.8h0M221.9 353.3h0M221.2 358.1h0M219.4 354.5h0M226.5 356.4h0M225.8 355.3h0M222.1 359.4h0M221.7 357.9h0M226.9 356.7h0M222.2 357.9h0M219.0 358.9h0M224.3 353.3h0M223.5 353.9h0M223.1 358.1h0M223.2 356.5h0M224.0 350.1h0M224.7 359.1h0M223.9 351.3h0M220.1 358.2h0M224.4 356.8h0M222.7 355.9h0M222.3 353.9h0M225.6 356.1h0M226.8 358.0h0M226.1 358.5h0M225.8 352.2h0M224.9 357.1h0M224.1 353.9h0M223.1 359.6h0M219.5 352.9h0M225.0 330.8h0M225.8 334.6h0M220.0 340.3h0M224.5 339.8h0M226.0 343.0h0M222.0 344.0h0" stroke="#00ffff" stroke-width="3.5" stroke-linecap="round" fill="none"/>
<line x1="222.85" y1="348.9" x2="222.85" y2="353.5" stroke="#555" stroke-width="0.6" stroke-dasharray="1.5,1.2"/>
<line x1="222.85" y1="357.9" x2="222.85" y2="359.6" stroke="#555" stroke-width="0.6" stroke-dasharray="1.5,1.2"/>
<line x1="213.85" y1="348.9" x2="231.85" y2="348.9" stroke="#6a6a6a" stroke-width="1.3"/>
<line x1="213.85" y1="359.6" x2="231.85" y2="359.6" stroke="#6a6a6a" stroke-width="1.3"/>
<rect x="249.50" y="353.3" width="36.20" height="4.10" fill="none" stroke="#444" stroke-width="0.8"/>
<line x1="249.50" y1="356.1" x2="285.70" y2="356.1" stroke="#111" stroke-width="1.4"/>
<path d="M265.6 358.1h0M266.6 356.5h0M269.5 352.6h0M271.2 359.5h0M269.3 351.9h0M270.4 351.8h0M271.4 357.5h0M264.9 358.5h0M265.1 358.1h0M269.9 351.2h0M270.1 356.0h0M272.0 357.1h0M270.0 357.9h0M267.3 357.4h0M264.3 357.0h0M269.4 352.1h0M263.3 350.3h0M263.4 357.7h0M267.6 355.9h0M269.6 350.5h0M264.6 358.5h0M267.7 353.1h0M267.2 357.6h0M264.5 357.5h0M263.5 350.2h0M266.9 356.0h0M264.0 357.5h0M269.5 359.5h0M263.7 356.5h0M269.9 353.2h0M264.6 355.2h0M269.8 349.7h0M266.5 351.5h0M268.8 350.4h0M271.0 355.5h0M264.8 358.6h0M264.5 357.4h0M269.8 357.2h0M270.1 358.7h0M263.6 356.7h0M263.7 356.8h0M272.1 358.1h0M264.6 357.9h0M265.5 357.3h0M266.2 359.2h0M267.2 352.8h0M267.0 355.2h0M271.5 356.0h0M263.4 356.5h0M265.5 353.5h0M267.4 357.4h0M267.0 354.3h0M268.6 355.0h0M267.0 352.1h0M265.0 352.7h0M267.4 354.0h0M266.4 356.7h0M266.4 354.7h0M265.4 356.6h0M263.8 353.8h0M267.9 358.8h0M265.9 357.8h0M266.5 352.9h0M272.1 356.1h0M264.9 358.3h0M263.4 352.8h0M266.1 357.3h0M269.8 351.5h0M271.8 358.9h0M267.7 357.1h0M264.5 354.9h0M266.7 354.4h0M264.0 352.4h0M271.6 353.2h0M264.9 354.9h0M269.4 353.7h0M269.9 356.7h0M266.2 352.4h0M267.2 357.6h0M266.3 351.0h0M268.0 356.8h0M266.6 355.5h0M268.5 352.2h0M268.8 354.1h0M267.0 351.5h0M268.9 359.4h0M264.6 353.8h0M265.0 356.3h0M269.4 353.4h0M264.9 357.2h0M267.7 356.8h0M265.1 356.4h0M265.6 352.9h0M271.1 357.4h0M268.8 357.4h0M266.9 352.4h0M265.2 353.5h0M268.6 353.3h0M271.2 357.3h0M267.2 359.6h0M270.0 349.0h0M272.0 348.7h0" stroke="#0000ee" stroke-width="3.5" stroke-linecap="round" fill="none"/>
<line x1="267.60" y1="349.6" x2="267.60" y2="353.3" stroke="#555" stroke-width="0.6" stroke-dasharray="1.5,1.2"/>
<line x1="267.60" y1="357.4" x2="267.60" y2="359.6" stroke="#555" stroke-width="0.6" stroke-dasharray="1.5,1.2"/>
<line x1="258.60" y1="349.6" x2="276.60" y2="349.6" stroke="#6a6a6a" stroke-width="1.3"/>
<line x1="258.60" y1="359.6" x2="276.60" y2="359.6" stroke="#6a6a6a" stroke-width="1.3"/>
<rect x="294.25" y="355.2" width="36.20" height="2.70" fill="none" stroke="#444" stroke-width="0.8"/>
<line x1="294.25" y1="356.6" x2="330.45" y2="356.6" stroke="#111" stroke-width="1.4"/>
<path d="M314.2 357.1h0M311.8 357.7h0M312.3 356.9h0M315.5 355.5h0M313.8 357.6h0M315.7 358.4h0M312.9 356.7h0M308.6 356.1h0M312.3 356.3h0M315.6 358.1h0M309.2 359.1h0M313.2 358.5h0M311.9 357.7h0M316.1 358.8h0M308.8 355.5h0M315.6 358.8h0M309.8 356.5h0M315.6 356.5h0M309.0 355.5h0M310.8 356.3h0M309.9 356.8h0M310.9 355.5h0M310.7 357.5h0M310.7 355.5h0M311.5 356.7h0M309.5 358.8h0M311.3 355.5h0M315.2 355.5h0M312.4 357.8h0M315.7 355.5h0" stroke="#ff00ff" stroke-width="3.5" stroke-linecap="round" fill="none"/>
<line x1="312.35" y1="354.8" x2="312.35" y2="355.2" stroke="#555" stroke-width="0.6" stroke-dasharray="1.5,1.2"/>
<line x1="312.35" y1="357.9" x2="312.35" y2="359.2" stroke="#555" stroke-width="0.6" stroke-dasharray="1.5,1.2"/>
<line x1="303.35" y1="354.8" x2="321.35" y2="354.8" stroke="#6a6a6a" stroke-width="1.3"/>
<line x1="303.35" y1="359.2" x2="321.35" y2="359.2" stroke="#6a6a6a" stroke-width="1.3"/>
<line x1="55.5" y1="286.5" x2="345.5" y2="286.5" stroke="#cfcfcf" stroke-width="0.5" stroke-dasharray="1.6,1.6"/>
<line x1="52.5" y1="286.5" x2="55.5" y2="286.5" stroke="#333" stroke-width="0.6"/>
<text class="t" x="50.2" y="289.70" font-size="9.2" text-anchor="end" fill="#111">2.0</text>
<line x1="55.5" y1="298.67" x2="345.5" y2="298.67" stroke="#cfcfcf" stroke-width="0.5" stroke-dasharray="1.6,1.6"/>
<line x1="52.5" y1="298.67" x2="55.5" y2="298.67" stroke="#333" stroke-width="0.6"/>
<text class="t" x="50.2" y="301.87" font-size="9.2" text-anchor="end" fill="#111">1.5</text>
<line x1="55.5" y1="310.84" x2="345.5" y2="310.84" stroke="#cfcfcf" stroke-width="0.5" stroke-dasharray="1.6,1.6"/>
<line x1="52.5" y1="310.84" x2="55.5" y2="310.84" stroke="#333" stroke-width="0.6"/>
<text class="t" x="50.2" y="314.04" font-size="9.2" text-anchor="end" fill="#111">1.0</text>
<line x1="55.5" y1="323.01" x2="345.5" y2="323.01" stroke="#cfcfcf" stroke-width="0.5" stroke-dasharray="1.6,1.6"/>
<line x1="52.5" y1="323.01" x2="55.5" y2="323.01" stroke="#333" stroke-width="0.6"/>
<text class="t" x="50.2" y="326.21" font-size="9.2" text-anchor="end" fill="#111">0.5</text>
<line x1="55.5" y1="335.18" x2="345.5" y2="335.18" stroke="#cfcfcf" stroke-width="0.5" stroke-dasharray="1.6,1.6"/>
<line x1="52.5" y1="335.18" x2="55.5" y2="335.18" stroke="#333" stroke-width="0.6"/>
<text class="t" x="50.2" y="338.38" font-size="9.2" text-anchor="end" fill="#111">-0.5</text>
<line x1="55.5" y1="347.35" x2="345.5" y2="347.35" stroke="#cfcfcf" stroke-width="0.5" stroke-dasharray="1.6,1.6"/>
<line x1="52.5" y1="347.35" x2="55.5" y2="347.35" stroke="#333" stroke-width="0.6"/>
<text class="t" x="50.2" y="350.55" font-size="9.2" text-anchor="end" fill="#111">-1.0</text>
<line x1="55.5" y1="359.52" x2="345.5" y2="359.52" stroke="#cfcfcf" stroke-width="0.5" stroke-dasharray="1.6,1.6"/>
<line x1="52.5" y1="359.52" x2="55.5" y2="359.52" stroke="#333" stroke-width="0.6"/>
<text class="t" x="50.2" y="362.72" font-size="9.2" text-anchor="end" fill="#111">-1.5</text>
<line x1="88.60" y1="279.6" x2="88.60" y2="362.0" stroke="#cfcfcf" stroke-width="0.5" stroke-dasharray="1.6,1.6"/>
<line x1="88.60" y1="362.0" x2="88.60" y2="364.5" stroke="#333" stroke-width="0.6"/>
<text class="t" x="88.60" y="374.6" font-size="9" text-anchor="middle" fill="#111">0</text>
<line x1="133.35" y1="279.6" x2="133.35" y2="362.0" stroke="#cfcfcf" stroke-width="0.5" stroke-dasharray="1.6,1.6"/>
<line x1="133.35" y1="362.0" x2="133.35" y2="364.5" stroke="#333" stroke-width="0.6"/>
<text class="t" x="133.35" y="374.6" font-size="9" text-anchor="middle" fill="#111">1</text>
<line x1="178.10" y1="279.6" x2="178.10" y2="362.0" stroke="#cfcfcf" stroke-width="0.5" stroke-dasharray="1.6,1.6"/>
<line x1="178.10" y1="362.0" x2="178.10" y2="364.5" stroke="#333" stroke-width="0.6"/>
<text class="t" x="178.10" y="374.6" font-size="9" text-anchor="middle" fill="#111">2</text>
<line x1="222.85" y1="279.6" x2="222.85" y2="362.0" stroke="#cfcfcf" stroke-width="0.5" stroke-dasharray="1.6,1.6"/>
<line x1="222.85" y1="362.0" x2="222.85" y2="364.5" stroke="#333" stroke-width="0.6"/>
<text class="t" x="222.85" y="374.6" font-size="9" text-anchor="middle" fill="#111">3</text>
<line x1="267.60" y1="279.6" x2="267.60" y2="362.0" stroke="#cfcfcf" stroke-width="0.5" stroke-dasharray="1.6,1.6"/>
<line x1="267.60" y1="362.0" x2="267.60" y2="364.5" stroke="#333" stroke-width="0.6"/>
<text class="t" x="267.60" y="374.6" font-size="9" text-anchor="middle" fill="#111">4</text>
<line x1="312.35" y1="279.6" x2="312.35" y2="362.0" stroke="#cfcfcf" stroke-width="0.5" stroke-dasharray="1.6,1.6"/>
<line x1="312.35" y1="362.0" x2="312.35" y2="364.5" stroke="#333" stroke-width="0.6"/>
<text class="t" x="312.35" y="374.6" font-size="9" text-anchor="middle" fill="#111">5</text>
<rect x="55.5" y="279.6" width="290.00" height="82.40" fill="none" stroke="#555" stroke-width="1.2"/>
<text class="t" x="200.4" y="387.6" font-size="9.45" text-anchor="middle" fill="#111">Number of classifiers</text>
<text class="t" transform="translate(31.9,322.9) rotate(-90)" font-size="9.2" text-anchor="middle" fill="#111">Conservation Score</text>
<text class="t" x="356.6" y="261.8" font-size="11.6" font-weight="bold" fill="#000">D</text>
<rect x="394.5" y="277.3" width="289.80" height="82.90" fill="#fff"/>
<rect x="409.40" y="297.8" width="36.20" height="19.70" fill="none" stroke="#444" stroke-width="0.8"/>
<line x1="409.40" y1="307.5" x2="445.60" y2="307.5" stroke="#111" stroke-width="1.4"/>
<path d="M425.7 301.2h0M428.8 285.7h0M427.3 336.8h0M430.2 280.7h0M432.1 311.6h0M425.9 305.8h0M431.2 324.7h0M425.1 285.5h0M424.5 303.5h0M432.1 339.3h0M431.8 312.0h0M426.2 332.1h0M423.2 317.0h0M422.7 299.9h0M425.8 314.6h0M430.4 342.3h0M429.6 287.2h0M425.7 334.5h0M424.4 283.2h0M428.9 317.7h0M429.8 307.3h0M423.1 287.2h0M423.9 282.4h0M423.3 295.9h0M428.8 307.0h0M426.9 340.5h0M428.6 288.0h0M425.0 319.2h0M424.8 308.1h0M429.6 308.3h0M423.0 295.5h0M429.7 310.0h0M424.2 296.1h0M427.1 329.6h0M432.3 293.9h0M432.4 313.0h0M431.6 297.3h0M428.4 335.1h0M426.4 308.3h0M423.4 310.9h0M431.9 313.5h0M422.5 316.6h0M424.1 299.4h0M429.3 330.9h0M424.9 316.2h0M422.8 314.1h0M432.0 312.7h0M428.7 292.2h0M430.9 320.4h0M427.4 301.0h0M430.3 343.7h0M427.6 299.8h0M430.6 285.4h0M422.9 292.7h0M427.9 317.9h0M432.0 297.2h0M424.9 297.8h0M430.3 301.6h0M425.8 313.1h0M430.1 280.8h0M428.2 293.3h0M422.8 328.4h0M429.9 330.9h0M430.1 316.8h0M431.4 307.0h0M426.8 341.5h0M425.7 297.8h0M423.8 313.8h0M423.6 282.5h0M430.0 313.0h0M431.2 343.7h0M430.7 333.9h0M430.8 284.0h0M430.0 306.9h0M430.1 306.1h0M426.2 307.4h0M427.4 307.2h0M429.5 297.2h0M426.9 340.6h0M431.8 336.1h0M431.6 294.9h0M423.1 284.6h0M425.7 317.0h0M428.1 340.0h0M430.5 326.1h0M423.2 292.6h0M422.7 284.9h0M423.6 292.5h0M424.9 283.8h0M428.9 311.8h0M426.7 292.5h0M427.1 320.6h0M430.8 312.7h0M423.9 319.4h0M428.5 316.2h0M429.5 342.6h0M429.9 311.4h0M427.9 299.8h0M428.1 298.1h0M425.4 320.6h0M423.8 302.7h0M422.8 312.4h0M425.9 323.7h0M424.3 296.8h0M431.8 337.4h0M427.5 308.0h0M429.9 308.8h0M429.8 308.6h0M422.6 301.8h0M428.0 283.7h0M427.4 295.4h0M431.9 303.5h0M428.0 317.5h0M425.9 317.4h0M431.6 327.4h0M427.6 329.6h0M425.8 308.3h0M430.5 317.3h0M431.6 311.7h0M427.5 306.2h0M427.5 314.4h0M431.4 340.8h0M423.2 324.7h0M427.6 297.4h0M428.0 308.5h0M430.1 312.0h0M430.1 314.0h0M430.3 323.6h0M430.0 296.4h0M423.2 283.3h0M426.9 304.4h0M427.9 313.6h0M429.7 305.3h0M425.2 321.4h0M427.0 318.0h0M432.1 296.0h0M427.5 317.3h0M428.8 300.2h0M430.7 312.2h0M423.0 320.8h0M423.2 314.5h0M426.9 307.0h0M427.4 284.2h0M422.9 322.9h0M430.9 314.8h0M427.2 302.4h0M431.7 299.0h0M424.6 302.2h0M430.8 294.0h0M429.1 319.1h0M432.5 308.1h0M423.8 293.2h0M431.9 338.2h0M422.8 281.6h0M427.4 316.9h0M426.4 317.9h0M431.1 302.6h0M427.7 304.7h0M427.0 294.3h0M424.9 283.0h0M431.9 295.6h0M423.5 324.2h0M424.5 300.5h0M425.2 306.6h0M432.3 286.2h0M430.0 311.4h0M427.1 292.4h0M425.6 307.4h0M423.1 289.8h0M426.0 314.9h0M428.2 309.8h0M431.5 310.6h0M428.2 332.2h0M431.0 300.5h0M432.4 315.0h0M431.3 304.6h0M429.8 297.1h0M426.6 302.7h0M430.0 329.2h0M425.9 337.9h0M429.0 315.3h0M432.1 296.9h0M425.3 290.0h0M425.1 315.8h0M428.1 316.9h0M431.3 307.7h0M429.3 310.1h0M431.6 318.1h0M430.1 313.9h0M431.7 310.5h0M430.6 296.1h0M428.9 300.4h0M427.8 308.7h0M425.1 316.0h0M431.2 290.6h0M431.8 329.5h0M429.0 318.2h0M429.1 326.8h0M432.5 314.8h0M432.2 304.9h0M424.0 286.4h0M431.9 293.6h0M430.0 304.8h0M427.8 317.6h0M427.4 301.0h0M429.9 343.5h0M422.5 287.3h0M423.8 308.7h0M429.3 287.4h0M431.1 285.4h0M429.0 309.0h0M425.7 309.5h0M428.0 319.2h0M424.2 330.0h0M428.6 294.6h0M423.8 295.8h0M427.6 299.4h0M424.0 319.8h0M429.9 334.2h0M430.1 327.8h0M430.7 338.9h0M423.3 323.2h0M426.6 289.9h0M423.1 343.4h0M427.0 285.1h0M425.0 294.4h0M423.8 307.7h0M430.2 295.8h0M432.2 315.3h0M429.8 310.1h0M426.0 312.8h0M432.5 301.5h0M428.6 281.2h0M422.9 315.0h0M429.9 301.8h0M427.3 305.3h0M426.6 297.8h0M429.9 298.8h0M426.1 311.0h0M430.2 316.5h0M429.5 287.3h0M423.9 299.4h0M431.8 285.1h0M428.9 299.0h0M425.2 320.3h0M430.8 294.3h0M426.2 308.0h0M426.6 338.8h0M430.4 307.7h0M424.2 306.9h0M429.0 315.6h0M424.3 283.1h0M431.5 317.7h0M425.3 315.6h0M424.6 296.8h0M431.3 314.9h0M428.3 296.3h0M423.7 315.3h0M425.0 307.4h0M425.3 304.0h0M430.1 314.1h0M432.0 292.5h0M428.5 337.6h0M424.3 316.0h0M423.7 301.7h0M425.7 297.5h0M425.2 307.9h0M424.0 322.1h0M428.0 281.4h0M425.9 303.9h0M429.9 296.7h0M430.6 307.1h0M429.4 291.5h0M431.6 315.4h0M422.9 288.3h0M426.3 293.3h0M424.8 321.4h0M427.6 316.3h0M423.2 280.8h0M425.5 299.5h0M425.1 302.3h0M424.3 285.7h0M431.3 286.9h0M428.8 321.4h0M424.5 338.9h0M432.1 343.1h0M430.9 299.7h0M431.3 327.4h0M431.7 310.2h0M428.2 305.6h0M429.3 313.1h0M424.0 301.3h0M426.6 318.8h0M430.4 293.8h0M427.3 314.1h0M426.7 289.8h0M424.0 329.9h0M431.4 300.7h0M426.4 316.4h0M426.5 305.1h0M423.5 309.3h0M426.6 293.6h0M428.8 301.3h0M431.1 299.5h0M432.4 296.6h0M431.3 298.5h0M422.7 330.5h0M427.8 293.9h0M430.6 316.8h0M431.8 297.5h0M430.6 316.7h0M424.6 307.2h0M423.5 308.5h0M427.0 290.7h0M430.0 307.4h0M429.9 302.3h0M430.2 305.7h0M432.4 343.9h0M430.0 316.7h0M425.0 288.8h0M431.0 295.1h0M431.1 289.2h0M426.3 311.1h0M423.8 311.8h0M427.2 319.1h0M422.7 302.9h0M432.4 286.0h0M424.6 317.2h0M432.4 300.0h0M423.0 300.3h0M422.7 302.0h0M425.2 299.8h0M432.2 294.6h0M431.7 300.2h0M424.8 293.2h0M425.5 293.0h0M426.9 311.7h0M426.0 332.2h0M427.8 300.0h0M429.9 308.3h0M430.1 305.9h0M427.8 296.6h0M432.3 309.3h0M425.2 301.6h0M422.7 332.8h0M428.9 293.1h0M423.7 281.1h0M425.6 316.5h0M429.4 314.2h0M429.5 280.4h0M429.0 315.2h0M429.7 284.6h0M423.6 312.2h0M425.8 283.8h0M422.7 299.8h0M423.3 300.3h0M423.6 299.2h0M425.7 291.9h0M430.2 315.5h0M423.7 317.9h0M425.9 299.3h0M424.5 318.6h0M431.5 283.2h0M428.9 309.1h0M430.9 314.8h0M423.0 305.4h0M431.0 300.0h0M424.7 339.5h0M424.8 339.8h0M425.7 309.6h0M432.4 304.2h0M425.4 320.5h0M426.4 333.2h0M423.3 330.6h0M422.9 305.4h0M430.4 305.9h0M424.6 318.2h0M427.4 297.9h0M428.5 282.1h0M430.9 327.8h0M427.1 307.2h0M429.8 340.1h0M429.8 298.2h0M429.9 309.1h0M427.0 293.0h0M426.4 304.6h0M427.4 310.4h0M427.9 318.4h0M425.4 308.2h0M431.5 309.5h0M423.1 318.5h0M426.8 289.0h0M427.5 313.6h0M430.5 311.8h0M424.9 317.7h0M423.2 318.6h0M427.6 301.2h0M430.0 316.1h0M427.3 297.2h0M431.2 282.5h0M430.6 321.4h0M424.4 297.1h0M424.4 282.1h0M426.9 303.1h0M430.2 318.5h0M424.2 316.0h0M427.2 318.0h0M428.7 304.3h0M422.6 331.6h0M426.4 335.2h0M431.8 309.8h0M424.5 284.8h0M425.2 300.9h0M428.1 310.6h0M427.5 317.5h0M422.7 310.5h0M423.1 317.8h0M429.4 280.6h0M425.6 311.6h0M424.0 299.9h0M428.3 303.6h0M424.8 320.8h0M425.5 309.9h0M431.5 337.4h0M424.8 300.2h0M429.1 303.3h0M429.9 308.6h0M430.3 287.9h0M426.0 297.8h0M428.0 312.5h0M423.3 290.1h0M426.0 322.0h0M424.5 343.2h0M426.9 316.2h0M431.8 312.5h0M429.2 285.1h0M429.0 301.6h0M424.4 292.3h0M432.3 312.7h0M428.1 288.4h0M426.4 309.7h0M424.6 311.6h0M423.4 323.8h0M425.4 326.9h0M426.4 290.1h0M422.7 338.6h0M424.1 332.3h0M424.5 295.6h0M429.4 339.4h0M429.8 327.5h0M425.1 304.4h0M431.7 328.1h0M430.6 283.8h0M428.5 330.4h0M424.0 333.4h0M430.5 294.7h0M429.6 302.8h0M429.6 285.0h0M431.0 298.3h0M427.2 298.5h0M426.1 306.3h0M426.7 326.0h0M425.5 282.0h0M424.7 280.6h0M431.3 306.1h0M429.1 280.0h0M432.4 299.4h0M429.0 280.9h0M429.1 301.5h0M426.5 322.4h0M429.1 308.6h0M427.6 317.7h0M431.5 298.3h0M425.6 299.5h0M426.5 306.2h0M427.7 317.3h0M427.7 320.6h0M425.9 297.2h0M428.8 297.7h0M428.0 305.6h0M423.5 310.4h0M428.0 296.3h0M427.0 295.8h0M425.5 299.7h0M427.4 312.4h0M424.3 309.7h0M428.3 297.4h0M428.0 313.1h0M428.1 316.8h0M430.8 298.5h0M422.9 297.6h0M427.2 324.1h0M423.9 342.9h0M422.8 320.1h0M425.3 296.3h0M429.4 314.3h0M426.2 304.2h0M430.0 314.2h0M428.3 295.2h0M432.3 311.3h0M424.1 315.9h0M424.5 284.8h0M431.5 306.7h0M430.8 280.9h0M423.2 302.5h0M430.3 322.9h0M424.9 294.5h0M432.0 299.1h0M427.9 307.7h0M432.2 339.5h0M428.7 303.8h0M428.3 297.5h0M430.3 340.3h0M424.6 308.5h0M430.5 301.6h0M429.6 316.3h0M424.2 292.4h0M422.8 305.9h0M432.0 293.3h0M430.2 292.2h0M428.7 312.5h0M432.3 332.6h0M432.3 288.9h0M423.6 285.3h0M430.1 335.4h0M431.2 297.9h0M428.5 322.2h0M430.0 319.1h0M426.1 316.5h0M428.2 332.2h0M431.7 326.8h0M423.6 315.2h0M425.2 336.8h0M429.4 328.6h0M426.4 312.2h0M427.2 316.8h0M431.0 327.9h0M423.3 306.8h0M427.6 312.3h0M432.4 295.4h0M430.4 289.2h0M424.4 303.3h0M428.1 307.9h0M432.5 322.3h0M423.9 294.0h0M424.6 314.7h0M430.4 316.6h0M423.5 318.3h0M430.7 320.6h0M423.1 301.4h0M432.1 305.9h0M428.3 312.2h0M426.3 284.9h0M430.9 295.9h0M430.8 305.7h0M427.3 313.9h0M427.0 305.5h0M424.4 300.3h0M428.6 322.1h0M425.0 313.6h0M426.2 315.5h0M425.7 315.3h0M431.4 301.7h0M432.0 297.6h0M429.4 331.1h0M431.5 298.3h0M430.1 302.3h0M428.3 296.7h0M424.5 310.4h0M427.2 313.3h0M431.2 309.9h0M425.9 314.4h0M423.6 306.2h0M430.0 315.4h0M432.5 303.3h0M426.9 296.3h0M429.6 286.2h0M431.1 283.6h0M431.4 306.6h0M424.4 305.1h0M423.3 324.5h0M425.9 312.7h0M428.9 343.8h0M423.1 289.2h0M431.4 304.8h0M427.6 309.6h0M428.8 320.1h0M426.4 315.0h0M430.3 339.8h0M430.8 318.0h0M430.3 305.7h0M425.8 311.1h0M430.2 303.0h0M430.4 315.3h0M423.6 328.6h0M430.2 312.4h0M424.0 306.1h0M425.1 283.1h0M425.3 323.9h0M424.1 292.0h0M431.4 306.3h0M422.6 280.7h0M430.5 310.8h0M431.5 290.0h0M425.9 302.1h0M423.4 312.4h0M425.0 291.4h0M424.7 299.9h0M425.4 327.3h0M426.6 316.0h0M430.8 305.1h0M430.2 295.1h0M426.9 326.1h0M431.1 309.0h0M426.8 314.1h0M425.3 306.1h0M423.4 299.8h0M427.2 291.2h0M430.7 310.2h0M427.2 301.2h0M431.5 316.0h0M426.0 312.4h0M425.4 293.5h0M425.0 294.0h0M426.1 305.5h0M431.1 307.7h0M430.2 336.2h0M423.7 297.8h0M423.1 302.1h0M429.1 297.1h0M422.6 312.3h0M423.8 309.1h0M427.0 342.5h0M429.9 320.2h0M428.4 303.3h0M425.1 329.3h0M423.8 300.9h0M424.3 342.4h0M429.9 302.1h0M426.2 315.5h0M426.2 299.7h0M425.4 330.5h0M424.0 288.0h0M425.2 323.9h0M431.8 314.9h0M426.2 310.5h0M427.5 299.1h0M428.3 320.3h0M423.9 295.5h0M422.7 337.0h0M431.2 351.9h0M432.6 344.5h0M424.8 348.3h0M427.9 352.7h0M423.1 348.6h0M429.5 356.7h0M422.9 346.6h0M431.9 352.3h0M428.4 344.1h0M423.0 355.9h0M428.6 358.5h0M427.7 354.1h0M424.3 354.9h0M431.2 356.2h0M423.9 353.8h0M424.7 347.1h0M432.6 357.9h0M422.5 356.3h0M429.0 350.1h0M428.3 345.7h0M424.7 350.9h0M423.4 354.2h0M432.6 358.4h0M426.5 345.1h0M427.8 344.8h0M431.7 351.6h0M426.9 356.4h0M426.5 355.0h0M427.5 347.5h0M430.5 344.6h0M422.6 349.1h0M427.3 353.3h0M428.7 347.2h0M424.5 356.5h0M430.9 350.5h0M424.9 354.5h0M424.5 345.6h0M422.6 344.4h0M425.9 349.6h0M424.6 356.4h0M429.4 355.0h0M423.9 357.4h0M422.4 344.5h0M422.4 352.2h0M426.3 346.6h0M431.5 345.1h0M422.9 357.6h0M424.2 348.7h0M425.6 352.9h0M422.4 352.3h0M426.6 344.9h0M428.6 348.9h0M425.4 348.6h0M430.1 345.4h0M423.6 348.6h0M430.3 345.0h0M432.3 352.4h0M430.2 351.7h0M426.5 345.6h0M425.2 346.6h0M428.8 351.6h0M422.7 344.2h0M423.2 356.9h0M429.1 358.2h0M429.4 348.3h0M429.2 358.4h0M429.4 348.6h0M430.1 351.2h0M423.2 357.2h0M429.7 344.0h0" stroke="#ff0000" stroke-width="3.5" stroke-linecap="round" fill="none"/>
<line x1="427.50" y1="280.0" x2="427.50" y2="297.8" stroke="#555" stroke-width="0.6" stroke-dasharray="1.5,1.2"/>
<line x1="427.50" y1="317.5" x2="427.50" y2="344.1" stroke="#555" stroke-width="0.6" stroke-dasharray="1.5,1.2"/>
<line x1="418.50" y1="280.0" x2="436.50" y2="280.0" stroke="#6a6a6a" stroke-width="1.3"/>
<line x1="418.50" y1="344.1" x2="436.50" y2="344.1" stroke="#6a6a6a" stroke-width="1.3"/>
<rect x="454.16" y="314.5" width="36.20" height="27.50" fill="none" stroke="#444" stroke-width="0.8"/>
<line x1="454.16" y1="325.3" x2="490.36" y2="325.3" stroke="#111" stroke-width="1.4"/>
<path d="M469.1 342.8h0M474.5 340.8h0M475.0 314.5h0M468.8 297.8h0M468.2 320.8h0M470.4 325.9h0M469.2 314.7h0M468.1 315.9h0M472.3 295.2h0M472.7 331.9h0M470.3 316.2h0M476.2 325.0h0M476.3 352.6h0M475.8 343.5h0M476.1 335.2h0M471.4 342.0h0M472.9 325.1h0M474.2 322.1h0M473.0 318.2h0M473.2 355.8h0M469.8 327.7h0M470.1 317.9h0M472.4 316.6h0M476.3 299.9h0M476.0 312.3h0M475.2 316.2h0M468.9 342.6h0M476.3 331.5h0M470.4 318.5h0M471.3 291.5h0M475.7 325.8h0M472.3 336.3h0M476.4 324.7h0M468.2 314.4h0M469.7 342.3h0M468.7 327.7h0M476.1 311.6h0M474.0 313.4h0M472.5 339.1h0M474.0 342.3h0M474.4 314.2h0M469.2 340.6h0M475.4 334.1h0M472.0 348.1h0M474.4 322.3h0M469.2 325.0h0M468.2 320.4h0M470.1 346.9h0M472.7 334.9h0M472.6 321.6h0M472.8 320.0h0M473.3 342.2h0M472.6 321.2h0M474.6 314.5h0M469.3 347.9h0M473.9 330.9h0M473.2 352.2h0M468.9 316.8h0M471.0 342.2h0M471.4 342.2h0M473.4 298.1h0M469.1 348.9h0M474.9 342.1h0M474.0 356.1h0M475.9 296.9h0M468.8 289.4h0M471.0 319.0h0M475.2 349.0h0M472.4 339.3h0M471.4 342.0h0M475.5 345.2h0M469.2 302.2h0M470.0 338.0h0M474.3 285.1h0M472.7 345.9h0M470.0 343.6h0M474.7 335.1h0M473.1 287.7h0M476.2 323.5h0M475.5 330.7h0M468.5 342.2h0M476.2 344.4h0M472.5 328.5h0M474.7 324.4h0M475.0 310.6h0M475.7 314.5h0M469.8 336.3h0M468.8 320.3h0M468.1 314.3h0M470.7 314.8h0M472.0 314.4h0M468.1 318.9h0M470.4 346.3h0M472.3 327.9h0M476.0 314.6h0M473.6 346.9h0M472.3 351.2h0M469.8 332.5h0M471.9 311.6h0M469.4 337.0h0M476.4 325.4h0M474.5 324.7h0M472.4 306.7h0M474.9 318.9h0M473.8 341.7h0M474.1 338.7h0M473.6 315.7h0M475.4 312.0h0M475.4 324.7h0M473.6 316.7h0M472.8 312.7h0M469.6 334.9h0M473.3 311.6h0M470.4 346.5h0M475.4 313.0h0M473.0 353.3h0M474.5 346.3h0M472.3 342.0h0M468.7 326.3h0M469.8 331.8h0M476.3 330.2h0M471.2 355.2h0M468.3 340.8h0M468.2 293.3h0M473.9 319.8h0M469.4 318.5h0M471.9 298.9h0M474.2 321.6h0M468.5 329.2h0M470.3 350.8h0M470.1 321.7h0M474.3 323.8h0M469.2 327.2h0M470.5 312.0h0M475.0 320.9h0M474.4 333.3h0M473.1 346.4h0M472.2 302.6h0M468.3 314.5h0M472.4 342.5h0M474.5 334.8h0M472.1 315.9h0M476.1 317.5h0M470.0 309.3h0M473.8 309.7h0M473.2 335.4h0M472.5 302.4h0M472.2 331.4h0M475.8 323.1h0M470.2 337.2h0M474.4 327.1h0M473.5 344.0h0M472.8 338.5h0M469.3 292.1h0M471.3 319.3h0M472.9 314.0h0M471.2 316.8h0M471.5 282.9h0M473.9 312.0h0M475.9 321.3h0M473.1 303.5h0M469.2 318.6h0M473.4 344.4h0M470.1 355.2h0M473.7 342.1h0M472.7 326.5h0M476.3 312.1h0M468.6 342.0h0M470.6 351.3h0M471.9 336.4h0M474.3 343.1h0M473.2 355.8h0M472.3 328.7h0M476.0 336.7h0M474.5 321.5h0M473.4 321.5h0M473.4 327.3h0M472.5 314.4h0M473.1 309.4h0M474.9 351.2h0M471.9 337.7h0M474.2 343.5h0M472.1 312.2h0M472.9 317.3h0M469.1 343.7h0M470.7 334.8h0M474.4 318.1h0M471.1 327.3h0M472.1 332.4h0M474.6 307.1h0M473.4 319.1h0M470.6 336.0h0M475.6 344.5h0M475.1 348.0h0M470.7 310.7h0M469.1 299.5h0M470.0 319.0h0M470.8 347.1h0M469.1 335.0h0M472.9 320.6h0M472.2 333.0h0M469.0 318.6h0M471.5 315.1h0M469.4 312.9h0M470.9 319.3h0M473.5 328.9h0M476.0 346.5h0M472.4 323.0h0M470.2 317.0h0M475.5 306.9h0M471.1 341.6h0M474.5 328.6h0M468.4 345.0h0M476.3 340.7h0M475.9 345.9h0M469.0 332.0h0M476.3 304.6h0M475.0 308.3h0M469.4 316.0h0M472.0 315.8h0M474.4 329.3h0M469.1 306.8h0M475.8 293.9h0M473.9 342.3h0M471.9 343.5h0M475.5 324.1h0M470.3 341.7h0M475.8 317.0h0M471.2 343.0h0M471.3 318.6h0M474.5 314.5h0M470.1 333.7h0M475.4 334.4h0M469.8 299.6h0M475.6 329.7h0M470.2 320.4h0M470.0 348.3h0M475.1 351.5h0M468.5 344.7h0M469.5 315.3h0M470.6 352.4h0M475.3 355.6h0M472.4 351.8h0M472.3 328.1h0M474.2 342.3h0M468.3 315.1h0M471.6 348.5h0M471.3 342.7h0M474.1 317.2h0M471.1 318.2h0M474.8 314.5h0M472.9 330.6h0M474.5 304.2h0M474.9 314.5h0M468.7 326.3h0M473.2 342.0h0M471.8 302.9h0M476.1 352.1h0M471.6 314.5h0M473.2 311.0h0M475.0 342.0h0M468.9 338.9h0M472.3 329.3h0M474.1 319.8h0M472.5 329.5h0M474.6 339.5h0M470.0 342.2h0M469.3 343.9h0M475.4 322.1h0M469.5 320.9h0M472.2 322.7h0M470.0 347.8h0M472.1 318.7h0M474.0 299.6h0M475.1 312.1h0M469.2 316.7h0M475.2 344.7h0M468.8 344.7h0M475.0 317.6h0M471.5 305.3h0M468.4 331.9h0M473.1 337.2h0M471.3 325.1h0M476.0 346.5h0M469.7 286.2h0M472.9 350.3h0M472.9 331.7h0M471.1 317.1h0M470.6 334.8h0M471.3 340.0h0M475.7 316.8h0M472.9 352.3h0M469.1 330.0h0M473.6 313.5h0M469.6 316.2h0M469.6 304.8h0M476.1 342.0h0M468.3 342.1h0M470.9 337.5h0M474.0 312.7h0M471.7 327.6h0M470.8 337.7h0M473.8 311.2h0M471.1 319.4h0M475.7 326.1h0M470.5 314.6h0M469.4 314.7h0M474.2 313.9h0M475.0 311.1h0M470.0 343.1h0M475.7 318.5h0M473.8 304.1h0M473.0 320.2h0M475.5 341.7h0M471.8 327.8h0M475.7 303.8h0M474.7 356.6h0M469.6 330.8h0M468.3 348.7h0M471.2 314.5h0M471.7 319.1h0M468.9 293.2h0M468.2 319.8h0M469.4 324.3h0M468.1 315.2h0M476.2 318.7h0M472.9 314.4h0M475.1 340.5h0M475.7 344.0h0M475.1 335.3h0M475.4 324.3h0M474.2 316.5h0M475.4 342.6h0M468.9 343.6h0M475.9 307.6h0M470.7 325.3h0M469.6 322.2h0M474.9 334.4h0M472.4 327.2h0M475.2 338.8h0M471.9 341.9h0M475.8 342.9h0M468.5 308.1h0M474.7 328.1h0M473.3 314.4h0M469.5 324.0h0M469.0 282.7h0M476.1 290.0h0M474.4 351.2h0M473.3 315.8h0M470.6 317.8h0M474.6 316.9h0M476.0 342.0h0M472.0 343.1h0M472.6 326.1h0M469.3 317.0h0M476.1 342.2h0M473.9 306.6h0M470.9 341.4h0M469.5 355.8h0M472.1 342.3h0M475.8 326.5h0M471.3 336.6h0M468.5 330.1h0M473.7 326.7h0M475.2 338.8h0M475.3 314.4h0M472.3 292.8h0M476.2 319.4h0M472.9 312.7h0M468.3 322.8h0M474.8 338.0h0M468.8 323.0h0M474.8 342.1h0M472.5 342.6h0M468.5 350.3h0M471.9 356.7h0M468.1 353.0h0M468.3 342.9h0M474.8 324.9h0" stroke="#ffff00" stroke-width="3.5" stroke-linecap="round" fill="none"/>
<line x1="472.26" y1="280.0" x2="472.26" y2="314.5" stroke="#555" stroke-width="0.6" stroke-dasharray="1.5,1.2"/>
<line x1="472.26" y1="342.0" x2="472.26" y2="357.1" stroke="#555" stroke-width="0.6" stroke-dasharray="1.5,1.2"/>
<line x1="463.26" y1="280.0" x2="481.26" y2="280.0" stroke="#6a6a6a" stroke-width="1.3"/>
<line x1="463.26" y1="357.1" x2="481.26" y2="357.1" stroke="#6a6a6a" stroke-width="1.3"/>
<rect x="498.92" y="326.0" width="36.20" height="25.60" fill="none" stroke="#444" stroke-width="0.8"/>
<line x1="498.92" y1="335.3" x2="535.12" y2="335.3" stroke="#111" stroke-width="1.4"/>
<path d="M520.4 352.5h0M518.4 324.7h0M519.1 327.5h0M512.9 352.2h0M514.9 342.8h0M518.0 354.2h0M520.7 322.7h0M516.0 325.9h0M521.4 325.8h0M516.2 348.4h0M514.5 325.2h0M519.1 297.0h0M515.6 342.0h0M518.7 352.7h0M514.4 323.2h0M513.7 349.9h0M521.4 352.2h0M516.3 326.0h0M513.2 349.9h0M519.1 354.3h0M513.6 322.6h0M516.9 335.5h0M512.8 329.7h0M515.7 353.2h0M516.3 349.5h0M515.0 352.9h0M513.2 351.3h0M521.1 337.9h0M521.4 326.0h0M514.0 346.4h0M517.1 330.2h0M514.2 318.7h0M519.8 351.9h0M518.6 334.9h0M517.3 344.0h0M513.2 351.6h0M517.2 353.7h0M521.0 324.5h0M513.3 332.0h0M515.6 337.6h0M520.7 356.8h0M516.7 351.6h0M514.9 330.1h0M512.9 325.6h0M513.7 331.1h0M518.4 325.6h0M519.4 325.3h0M519.2 353.9h0M514.4 335.1h0M517.9 347.5h0M519.9 346.1h0M518.4 337.6h0M517.0 326.0h0M518.8 356.2h0M518.3 330.7h0M517.2 351.6h0M516.8 326.9h0M520.6 351.9h0M513.6 317.3h0M517.3 352.4h0M519.3 351.6h0M517.9 330.0h0M513.5 351.6h0M515.9 333.3h0M518.9 351.7h0M514.0 343.0h0M517.0 353.3h0M519.0 337.3h0M512.6 333.8h0M515.3 351.9h0M516.4 321.6h0M519.2 325.1h0M515.5 343.1h0M512.7 346.2h0M519.9 351.7h0M515.9 332.5h0M513.7 352.3h0M517.5 337.7h0M515.4 355.7h0M519.0 351.6h0M514.6 345.1h0M518.6 314.5h0M515.5 341.8h0M514.4 302.2h0M519.7 336.1h0M516.4 300.4h0M521.4 317.6h0M516.6 333.4h0M514.4 332.6h0M516.8 351.8h0M521.2 326.0h0M516.7 343.9h0M513.7 354.7h0M521.4 342.8h0M515.6 351.8h0M513.2 318.7h0M519.0 331.4h0M517.1 346.5h0M515.1 323.8h0M517.4 352.0h0M517.3 327.8h0M519.8 332.4h0M513.2 330.7h0M519.9 353.2h0M520.7 305.6h0M518.0 312.9h0M515.4 320.9h0M517.0 351.7h0M521.1 328.1h0M514.6 334.9h0M519.0 330.3h0M519.3 350.5h0M520.1 322.5h0M519.4 331.1h0M513.4 340.9h0M514.3 351.8h0M514.8 333.5h0M517.7 355.2h0M520.6 332.1h0M516.4 334.0h0M514.0 351.8h0M517.5 339.1h0M513.7 335.3h0M516.1 324.2h0M519.4 318.2h0M518.8 336.1h0M520.6 327.3h0M521.3 326.0h0M516.9 324.8h0M516.3 316.8h0M514.4 349.9h0M515.4 328.2h0M513.3 352.1h0M512.9 328.1h0M517.7 352.2h0M519.7 302.6h0M520.3 328.0h0M520.0 326.0h0M513.6 351.8h0M518.9 351.6h0M520.9 340.6h0M517.2 352.8h0M520.7 325.4h0M519.0 326.4h0M514.8 328.3h0M514.2 338.3h0M518.5 334.1h0M514.4 351.6h0M512.7 341.3h0M516.6 324.9h0M517.2 327.5h0M515.1 329.2h0M521.1 351.8h0M518.1 355.7h0M514.1 351.6h0M521.2 326.4h0M517.4 322.7h0M515.8 323.1h0M516.7 337.5h0M515.1 311.5h0M515.5 333.2h0M521.0 324.4h0M513.3 325.9h0M515.1 329.2h0M515.2 351.7h0M520.6 326.7h0M519.9 325.9h0M515.3 350.5h0M520.0 310.5h0M516.0 346.1h0M513.7 351.8h0M519.7 324.1h0M519.0 341.5h0M517.7 338.8h0M517.5 310.0h0M514.7 353.5h0M515.7 353.0h0M512.7 323.9h0M512.8 337.5h0M514.3 314.2h0M513.5 340.3h0M518.3 333.9h0M515.1 332.1h0M518.9 355.7h0M514.8 297.0h0M514.5 316.1h0M515.9 299.8h0M515.5 351.9h0M516.5 350.8h0M515.6 342.3h0M518.7 351.6h0M513.6 320.1h0M520.8 324.6h0M517.1 351.6h0M515.5 350.7h0M518.5 316.4h0M521.0 352.4h0M520.5 309.1h0M517.8 325.2h0M521.0 340.4h0M520.3 333.2h0M515.4 308.3h0M515.7 351.4h0M514.3 330.3h0M519.3 328.3h0M517.2 351.7h0M520.0 354.3h0M512.6 351.0h0M514.9 327.9h0M516.2 328.5h0M519.1 332.9h0M520.7 335.8h0M520.3 336.7h0M515.5 354.0h0M517.9 335.4h0M516.2 332.9h0M513.5 330.7h0M518.6 340.7h0M515.5 330.2h0M513.0 321.0h0M517.1 325.9h0M518.3 335.5h0M518.7 334.0h0M513.3 339.4h0M518.6 337.7h0M512.6 352.9h0M518.5 334.1h0M514.5 348.2h0M521.2 330.2h0M512.6 321.0h0M519.6 354.7h0M514.9 297.0h0M516.7 334.6h0M518.0 351.6h0M519.5 324.9h0M515.1 332.6h0M516.4 327.6h0M516.1 324.9h0M517.9 355.6h0M516.8 341.3h0M520.1 334.6h0M520.2 329.1h0M512.6 352.0h0M515.8 330.7h0M516.3 334.6h0M513.9 351.3h0M517.0 348.1h0M514.5 345.2h0M514.4 339.5h0M515.2 333.8h0M513.4 345.3h0M517.3 351.9h0M518.9 351.6h0M515.9 354.2h0M516.6 352.1h0M515.9 328.4h0M520.2 347.4h0M514.1 328.4h0M513.3 330.2h0M520.8 331.3h0M519.9 328.0h0M521.5 354.8h0M517.7 336.1h0M514.1 352.1h0M514.5 348.0h0M515.5 319.6h0M520.0 318.0h0M517.2 351.6h0M521.2 334.8h0M517.2 356.2h0M515.3 325.8h0M516.1 344.4h0M517.9 328.2h0M513.6 325.9h0M515.0 352.8h0M514.1 325.4h0M514.7 342.0h0M521.2 336.1h0M512.8 332.9h0M519.3 353.1h0M520.3 330.1h0M514.3 328.1h0M521.3 352.1h0M519.7 349.7h0M516.3 322.0h0M520.6 327.0h0M519.4 330.4h0M513.3 349.7h0M516.8 326.0h0M517.1 323.8h0M520.8 334.1h0M515.6 335.6h0M518.0 346.9h0M512.9 356.9h0M518.4 351.6h0M515.7 337.2h0M514.0 353.7h0M516.7 323.2h0M514.9 326.0h0M520.0 318.6h0M519.1 285.1h0M518.5 293.5h0M516.0 296.5h0M521.0 296.0h0" stroke="#00ee00" stroke-width="3.5" stroke-linecap="round" fill="none"/>
<line x1="517.02" y1="294.8" x2="517.02" y2="326.0" stroke="#555" stroke-width="0.6" stroke-dasharray="1.5,1.2"/>
<line x1="517.02" y1="351.6" x2="517.02" y2="357.1" stroke="#555" stroke-width="0.6" stroke-dasharray="1.5,1.2"/>
<line x1="508.02" y1="294.8" x2="526.02" y2="294.8" stroke="#6a6a6a" stroke-width="1.3"/>
<line x1="508.02" y1="357.1" x2="526.02" y2="357.1" stroke="#6a6a6a" stroke-width="1.3"/>
<rect x="543.68" y="331.9" width="36.20" height="25.10" fill="none" stroke="#444" stroke-width="0.8"/>
<line x1="543.68" y1="344.0" x2="579.88" y2="344.0" stroke="#111" stroke-width="1.4"/>
<path d="M565.9 331.9h0M561.1 340.0h0M564.9 336.7h0M558.6 322.7h0M558.8 328.3h0M560.0 335.2h0M560.4 329.3h0M560.1 344.9h0M559.0 322.9h0M565.4 331.9h0M565.4 357.0h0M561.2 336.2h0M561.8 342.7h0M565.1 340.8h0M563.6 335.3h0M562.6 342.3h0M557.7 327.1h0M563.8 348.7h0M561.2 331.9h0M561.4 305.7h0M559.5 354.7h0M559.0 346.9h0M561.0 308.9h0M564.6 336.4h0M565.5 357.0h0M563.8 355.5h0M558.3 335.9h0M565.4 343.9h0M558.6 344.6h0M560.1 332.0h0M557.9 331.5h0M559.3 327.5h0M561.1 357.1h0M564.3 350.3h0M561.4 331.5h0M557.5 357.0h0M563.7 332.6h0M560.0 301.7h0M558.9 341.4h0M564.0 325.0h0M562.5 354.4h0M559.4 355.2h0M562.2 355.3h0M566.0 354.8h0M563.6 300.3h0M561.9 357.0h0M558.2 357.1h0M560.6 357.1h0M564.4 345.5h0M564.7 345.2h0M558.5 304.4h0M558.6 357.0h0M557.4 333.3h0M560.4 339.6h0M565.0 326.7h0M561.0 357.0h0M564.7 357.0h0M565.5 357.0h0M559.8 329.2h0M565.6 300.5h0M557.9 331.7h0M559.9 356.3h0M559.7 337.7h0M558.2 332.5h0M560.2 338.3h0M559.3 357.0h0M564.5 346.3h0M560.9 342.7h0M558.8 348.4h0M557.9 357.1h0M559.3 303.5h0M562.7 352.4h0M565.8 336.9h0M561.8 357.1h0M558.5 330.8h0M562.6 328.7h0M559.4 357.1h0M565.9 339.7h0M561.4 345.2h0M559.8 357.1h0M559.7 304.6h0M559.3 323.7h0M566.2 352.9h0M559.7 336.5h0M565.9 357.0h0M566.2 331.9h0M559.4 335.1h0M557.7 350.5h0M564.9 310.8h0M560.5 357.1h0M558.8 345.0h0M566.2 321.9h0M560.7 331.7h0M565.7 338.9h0M559.3 351.6h0M557.7 342.1h0M561.7 357.1h0M564.4 357.1h0M560.2 299.3h0M557.6 357.0h0M563.7 329.4h0M561.9 336.9h0M565.4 331.9h0M561.0 333.2h0M563.7 357.0h0M560.8 331.8h0M565.1 336.0h0M562.9 357.0h0M562.8 357.0h0M560.4 336.1h0M559.1 348.6h0M562.6 332.6h0M561.4 357.0h0M566.0 349.6h0M563.6 344.2h0M558.6 355.1h0M562.3 331.9h0M559.9 353.4h0M558.5 339.3h0M565.3 357.0h0M564.4 357.1h0M557.8 323.3h0M565.9 331.9h0M563.6 329.9h0M561.6 356.1h0M561.8 357.0h0M557.6 330.6h0M564.2 349.3h0M561.3 341.9h0M561.5 356.1h0M566.2 347.7h0M561.2 351.7h0M563.6 354.4h0M558.3 349.1h0M563.0 343.2h0M562.6 357.1h0M563.4 317.0h0M560.7 326.6h0M560.7 337.7h0M559.2 345.8h0M562.7 357.1h0M565.4 357.1h0M559.1 342.9h0M557.8 331.6h0M562.9 339.4h0M561.8 352.3h0M559.2 320.4h0M565.4 331.8h0M562.4 340.0h0M566.1 325.3h0M559.1 357.0h0M557.5 354.9h0M565.3 357.0h0M560.8 340.6h0M563.0 337.1h0M560.7 347.5h0M558.9 331.9h0M564.2 357.0h0M563.6 348.5h0M557.8 335.9h0M562.5 331.9h0M559.5 347.2h0M558.5 346.4h0M563.7 339.5h0M562.4 334.9h0M566.1 338.0h0M558.8 347.5h0M557.4 352.9h0M559.5 356.0h0M563.4 351.2h0M565.3 329.4h0M558.3 353.8h0M565.0 357.0h0M564.4 357.0h0M557.4 357.0h0M558.1 355.5h0M558.6 357.0h0M560.7 357.0h0M559.9 357.0h0M564.1 332.5h0M563.9 346.0h0M558.8 315.5h0M562.5 341.8h0M564.8 336.6h0M564.0 328.6h0M559.0 357.0h0M560.4 353.5h0M557.6 357.0h0M561.1 331.9h0M557.7 324.6h0M565.2 350.8h0M560.6 344.1h0M563.0 356.9h0M559.7 345.9h0M563.1 327.2h0M562.9 349.1h0M558.3 349.6h0M565.0 357.0h0M565.1 336.4h0M563.2 357.0h0M558.6 322.1h0M557.5 341.0h0M562.5 345.3h0M558.7 357.0h0M561.3 326.6h0M565.7 351.7h0M560.5 346.3h0M563.6 315.2h0M562.7 329.7h0M562.0 331.6h0M561.6 338.5h0M565.3 342.3h0M565.5 352.7h0M563.9 352.0h0M564.3 318.9h0M560.0 316.9h0M564.4 336.2h0M558.0 357.0h0M557.8 337.3h0M561.7 337.0h0M559.6 353.9h0M557.3 305.2h0M559.4 357.0h0M560.0 313.6h0M564.8 351.9h0M557.5 357.0h0M558.7 341.0h0M562.5 345.4h0M565.1 357.0h0M558.7 333.6h0M564.3 357.0h0M561.8 357.1h0M557.8 357.0h0M561.0 324.1h0M564.0 348.7h0M560.6 331.9h0M564.2 354.5h0M564.1 357.0h0M565.0 343.2h0M558.6 336.5h0M562.4 331.0h0M559.1 320.2h0M561.4 309.7h0M561.3 331.7h0M562.7 357.0h0M564.2 349.2h0M562.3 342.0h0M560.0 355.0h0M559.5 357.0h0M564.6 331.2h0M565.6 340.5h0M564.4 333.4h0M561.7 357.0h0M562.1 350.5h0M563.2 357.0h0M566.0 356.2h0M558.5 344.9h0M564.0 333.7h0M564.9 336.2h0M561.8 338.8h0M559.8 357.0h0M559.5 321.8h0M563.2 331.8h0M561.3 354.4h0M559.7 335.8h0M565.8 356.4h0M558.5 357.0h0M565.2 336.3h0M563.2 357.0h0M563.3 328.6h0M559.1 330.1h0M562.5 357.0h0M564.2 341.6h0M565.9 348.1h0M562.0 316.6h0M557.6 350.6h0M562.7 306.3h0M565.0 357.1h0M558.8 333.9h0M565.9 322.7h0M562.8 302.9h0M559.4 330.8h0M564.2 334.4h0M564.3 343.3h0M557.7 325.7h0M564.4 338.6h0M561.6 342.8h0M560.6 331.4h0M560.3 357.0h0M561.0 348.0h0M564.8 340.2h0M563.1 357.0h0M560.1 349.0h0M563.0 355.5h0M563.2 357.0h0M563.5 330.0h0M565.2 347.6h0M566.1 357.0h0M565.2 308.8h0M564.7 335.3h0M561.5 296.6h0M563.0 298.0h0M560.0 300.0h0M565.0 301.0h0" stroke="#00ffff" stroke-width="3.5" stroke-linecap="round" fill="none"/>
<line x1="561.78" y1="297.8" x2="561.78" y2="331.9" stroke="#555" stroke-width="0.6" stroke-dasharray="1.5,1.2"/>
<line x1="561.78" y1="357.0" x2="561.78" y2="357.1" stroke="#555" stroke-width="0.6" stroke-dasharray="1.5,1.2"/>
<line x1="552.78" y1="297.8" x2="570.78" y2="297.8" stroke="#6a6a6a" stroke-width="1.3"/>
<line x1="552.78" y1="357.1" x2="570.78" y2="357.1" stroke="#6a6a6a" stroke-width="1.3"/>
<rect x="588.44" y="338.3" width="36.20" height="18.70" fill="none" stroke="#444" stroke-width="0.8"/>
<line x1="588.44" y1="349.5" x2="624.64" y2="349.5" stroke="#111" stroke-width="1.4"/>
<path d="M609.0 357.1h0M609.8 350.5h0M602.4 319.4h0M610.3 351.7h0M605.7 337.6h0M608.4 345.6h0M604.8 355.0h0M604.7 357.0h0M608.8 357.0h0M609.7 357.1h0M610.6 357.0h0M602.3 357.0h0M605.9 347.8h0M607.3 354.5h0M609.9 357.0h0M602.2 344.8h0M602.6 337.5h0M603.3 344.7h0M610.7 357.0h0M603.1 357.0h0M606.5 356.0h0M606.7 343.4h0M605.6 353.6h0M606.6 336.9h0M609.7 357.0h0M609.3 326.4h0M605.8 334.3h0M608.6 357.1h0M602.1 353.9h0M610.3 338.2h0M602.2 343.9h0M606.7 357.0h0M607.9 357.0h0M604.4 353.9h0M604.3 355.4h0M604.8 357.1h0M605.5 338.3h0M604.4 357.1h0M608.2 313.7h0M603.3 328.3h0M608.8 319.7h0M608.6 338.3h0M602.4 344.3h0M610.4 338.3h0M609.5 357.0h0M606.0 345.6h0M608.8 318.0h0M603.3 354.1h0M605.3 329.8h0M604.6 352.2h0M603.1 357.1h0M609.5 332.6h0M603.6 346.6h0M604.3 311.4h0M604.4 332.5h0M610.2 339.3h0M607.2 345.2h0M606.8 343.4h0M607.9 340.5h0M606.2 357.0h0M609.7 351.5h0M603.8 351.2h0M604.2 351.2h0M603.8 354.1h0M604.7 357.0h0M607.6 357.0h0M608.8 357.0h0M603.4 348.7h0M606.2 350.9h0M610.4 354.6h0M608.8 342.9h0M607.0 327.9h0M609.8 337.7h0M604.7 357.1h0M608.0 312.6h0M610.6 357.0h0M607.9 346.8h0M605.6 357.0h0M605.9 357.0h0M610.9 351.8h0M604.3 326.9h0M605.3 338.7h0M602.5 338.0h0M603.0 346.1h0M609.2 350.3h0M609.2 335.1h0M608.3 343.8h0M606.5 355.2h0M603.1 312.0h0M609.8 328.7h0M604.1 338.1h0M605.3 337.3h0M606.9 357.0h0M610.8 343.4h0M609.1 351.6h0M603.7 331.8h0M607.6 327.7h0M605.0 340.9h0M609.5 349.9h0M608.0 357.0h0M608.3 353.2h0M607.1 346.9h0M610.5 351.8h0M611.0 344.4h0M606.6 341.9h0M605.0 351.1h0M609.1 357.0h0M602.7 351.9h0M602.8 350.4h0M609.6 357.0h0M608.1 324.4h0M608.1 318.1h0M607.5 348.6h0M608.1 353.2h0M610.9 357.1h0M603.9 333.4h0M608.7 357.0h0M608.6 352.3h0M610.9 343.6h0M602.8 348.2h0M608.0 337.9h0M607.1 357.1h0M608.4 356.0h0M602.5 352.9h0M609.0 357.0h0M608.5 331.2h0M609.4 346.0h0M606.0 345.4h0M609.0 344.7h0M610.9 341.9h0M608.7 338.2h0M605.6 355.3h0M605.1 311.9h0M609.0 350.2h0M610.5 348.9h0M608.0 357.0h0M609.5 352.2h0M603.6 353.1h0M605.3 357.1h0M609.5 350.0h0M608.6 323.4h0M610.8 345.0h0M610.7 344.1h0M608.0 357.1h0M608.6 350.8h0M603.8 347.7h0M610.0 351.2h0M609.2 355.5h0M605.1 357.0h0M603.7 355.3h0M604.6 304.1h0M608.0 311.0h0M606.0 313.0h0" stroke="#0000ee" stroke-width="3.5" stroke-linecap="round" fill="none"/>
<line x1="606.54" y1="310.8" x2="606.54" y2="338.3" stroke="#555" stroke-width="0.6" stroke-dasharray="1.5,1.2"/>
<line x1="606.54" y1="357.0" x2="606.54" y2="357.1" stroke="#555" stroke-width="0.6" stroke-dasharray="1.5,1.2"/>
<line x1="597.54" y1="310.8" x2="615.54" y2="310.8" stroke="#6a6a6a" stroke-width="1.3"/>
<line x1="597.54" y1="357.1" x2="615.54" y2="357.1" stroke="#6a6a6a" stroke-width="1.3"/>
<rect x="633.20" y="356.6" width="36.20" height="0.80" fill="none" stroke="#444" stroke-width="0.8"/>
<line x1="633.20" y1="357.0" x2="669.40" y2="357.0" stroke="#111" stroke-width="1.4"/>
<path d="M653.1 356.9h0M652.8 357.3h0M648.5 357.2h0M651.6 357.3h0M650.5 356.7h0M654.9 357.3h0M653.9 356.6h0M654.1 356.6h0M653.8 357.3h0M651.8 356.7h0M650.8 348.5h0" stroke="#ff00ff" stroke-width="3.5" stroke-linecap="round" fill="none"/>
<line x1="651.30" y1="357.0" x2="651.30" y2="356.6" stroke="#555" stroke-width="0.6" stroke-dasharray="1.5,1.2"/>
<line x1="651.30" y1="357.4" x2="651.30" y2="357.1" stroke="#555" stroke-width="0.6" stroke-dasharray="1.5,1.2"/>
<line x1="642.30" y1="357.0" x2="660.30" y2="357.0" stroke="#6a6a6a" stroke-width="1.3"/>
<line x1="642.30" y1="357.1" x2="660.30" y2="357.1" stroke="#6a6a6a" stroke-width="1.3"/>
<line x1="394.5" y1="285.60" x2="684.3" y2="285.60" stroke="#cfcfcf" stroke-width="0.5" stroke-dasharray="1.6,1.6"/>
<line x1="391.5" y1="285.60" x2="394.5" y2="285.60" stroke="#333" stroke-width="0.6"/>
<text class="t" x="388.0" y="288.80" font-size="9" text-anchor="end" fill="#111">1.0</text>
<line x1="394.5" y1="299.96" x2="684.3" y2="299.96" stroke="#cfcfcf" stroke-width="0.5" stroke-dasharray="1.6,1.6"/>
<line x1="391.5" y1="299.96" x2="394.5" y2="299.96" stroke="#333" stroke-width="0.6"/>
<text class="t" x="388.0" y="303.16" font-size="9" text-anchor="end" fill="#111">0.8</text>
<line x1="394.5" y1="314.32" x2="684.3" y2="314.32" stroke="#cfcfcf" stroke-width="0.5" stroke-dasharray="1.6,1.6"/>
<line x1="391.5" y1="314.32" x2="394.5" y2="314.32" stroke="#333" stroke-width="0.6"/>
<text class="t" x="388.0" y="317.52" font-size="9" text-anchor="end" fill="#111">0.6</text>
<line x1="394.5" y1="328.68" x2="684.3" y2="328.68" stroke="#cfcfcf" stroke-width="0.5" stroke-dasharray="1.6,1.6"/>
<line x1="391.5" y1="328.68" x2="394.5" y2="328.68" stroke="#333" stroke-width="0.6"/>
<text class="t" x="388.0" y="331.88" font-size="9" text-anchor="end" fill="#111">0.4</text>
<line x1="394.5" y1="343.04" x2="684.3" y2="343.04" stroke="#cfcfcf" stroke-width="0.5" stroke-dasharray="1.6,1.6"/>
<line x1="391.5" y1="343.04" x2="394.5" y2="343.04" stroke="#333" stroke-width="0.6"/>
<text class="t" x="388.0" y="346.24" font-size="9" text-anchor="end" fill="#111">0.2</text>
<line x1="394.5" y1="357.40" x2="684.3" y2="357.40" stroke="#cfcfcf" stroke-width="0.5" stroke-dasharray="1.6,1.6"/>
<line x1="391.5" y1="357.40" x2="394.5" y2="357.40" stroke="#333" stroke-width="0.6"/>
<text class="t" x="388.0" y="360.60" font-size="9" text-anchor="end" fill="#111">0.0</text>
<line x1="427.50" y1="277.3" x2="427.50" y2="360.2" stroke="#cfcfcf" stroke-width="0.5" stroke-dasharray="1.6,1.6"/>
<line x1="427.50" y1="360.2" x2="427.50" y2="362.7" stroke="#333" stroke-width="0.6"/>
<text class="t" x="427.50" y="374.3" font-size="9" text-anchor="middle" fill="#111">0</text>
<line x1="472.26" y1="277.3" x2="472.26" y2="360.2" stroke="#cfcfcf" stroke-width="0.5" stroke-dasharray="1.6,1.6"/>
<line x1="472.26" y1="360.2" x2="472.26" y2="362.7" stroke="#333" stroke-width="0.6"/>
<text class="t" x="472.26" y="374.3" font-size="9" text-anchor="middle" fill="#111">1</text>
<line x1="517.02" y1="277.3" x2="517.02" y2="360.2" stroke="#cfcfcf" stroke-width="0.5" stroke-dasharray="1.6,1.6"/>
<line x1="517.02" y1="360.2" x2="517.02" y2="362.7" stroke="#333" stroke-width="0.6"/>
<text class="t" x="517.02" y="374.3" font-size="9" text-anchor="middle" fill="#111">2</text>
<line x1="561.78" y1="277.3" x2="561.78" y2="360.2" stroke="#cfcfcf" stroke-width="0.5" stroke-dasharray="1.6,1.6"/>
<line x1="561.78" y1="360.2" x2="561.78" y2="362.7" stroke="#333" stroke-width="0.6"/>
<text class="t" x="561.78" y="374.3" font-size="9" text-anchor="middle" fill="#111">3</text>
<line x1="606.54" y1="277.3" x2="606.54" y2="360.2" stroke="#cfcfcf" stroke-width="0.5" stroke-dasharray="1.6,1.6"/>
<line x1="606.54" y1="360.2" x2="606.54" y2="362.7" stroke="#333" stroke-width="0.6"/>
<text class="t" x="606.54" y="374.3" font-size="9" text-anchor="middle" fill="#111">4</text>
<line x1="651.30" y1="277.3" x2="651.30" y2="360.2" stroke="#cfcfcf" stroke-width="0.5" stroke-dasharray="1.6,1.6"/>
<line x1="651.30" y1="360.2" x2="651.30" y2="362.7" stroke="#333" stroke-width="0.6"/>
<text class="t" x="651.30" y="374.3" font-size="9" text-anchor="middle" fill="#111">5</text>
<rect x="394.5" y="277.3" width="289.80" height="82.90" fill="none" stroke="#555" stroke-width="1.2"/>
<text class="t" x="538.7" y="387.6" font-size="9.45" text-anchor="middle" fill="#111">Number of classifiers</text>
<text class="t" transform="translate(361.9,318.6) rotate(-90)" font-size="9.1" text-anchor="middle" fill="#111">Rel. Surface</text>
<text class="t" transform="translate(371.3,318.6) rotate(-90)" font-size="8.9" text-anchor="middle" fill="#111">Exposure</text>
</svg>
</body></html>
